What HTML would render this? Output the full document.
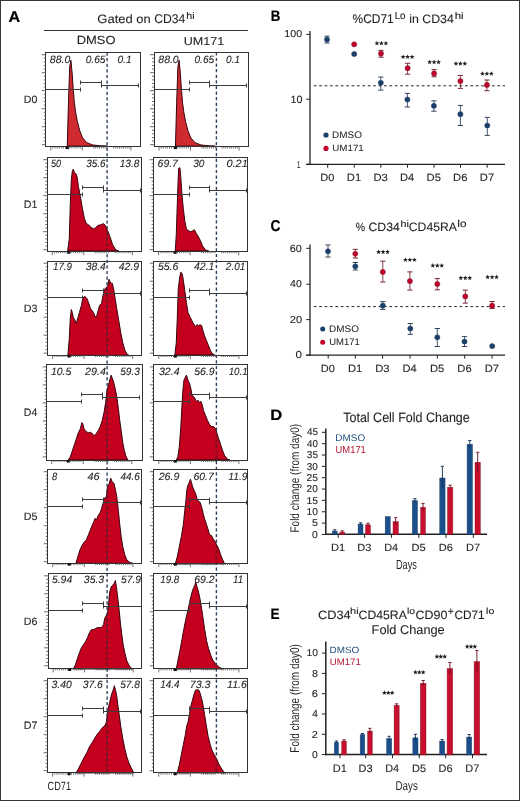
<!DOCTYPE html>
<html><head><meta charset="utf-8"><style>
html,body{margin:0;padding:0;background:#fff;}
body{width:520px;height:801px;overflow:hidden;}
svg{display:block;will-change:transform;font-family:"Liberation Sans", sans-serif;text-rendering:geometricPrecision;}
</style></head><body>
<svg width="520" height="801" viewBox="0 0 520 801">
<rect x="0" y="0" width="520" height="801" fill="#fff"/>
<line x1="44.00" y1="30.50" x2="248.00" y2="30.50" stroke="#333" stroke-width="1"/>
<path d="M67.26,146.12 L68.47,102.30 L69.68,66.76 L70.90,60.30 L72.11,72.82 L73.32,90.39 L74.33,102.30 L75.54,111.79 L77.36,121.49 L79.78,130.78 L82.61,137.84 L86.85,142.69 L92.71,144.91 L100.99,145.92 L107.04,146.12 Z" fill="#cf2a30" stroke="#38050c" stroke-width="1.0" stroke-linejoin="round"/>
<rect x="45.50" y="52.50" width="95.00" height="94.00" fill="none" stroke="#333" stroke-width="1"/>
<line x1="41.80" y1="54.70" x2="45.80" y2="54.70" stroke="#444" stroke-width="0.8"/>
<line x1="43.80" y1="58.30" x2="45.80" y2="58.30" stroke="#444" stroke-width="0.8"/>
<line x1="43.80" y1="61.90" x2="45.80" y2="61.90" stroke="#444" stroke-width="0.8"/>
<line x1="43.80" y1="65.50" x2="45.80" y2="65.50" stroke="#444" stroke-width="0.8"/>
<line x1="43.80" y1="69.10" x2="45.80" y2="69.10" stroke="#444" stroke-width="0.8"/>
<line x1="41.80" y1="72.70" x2="45.80" y2="72.70" stroke="#444" stroke-width="0.8"/>
<line x1="43.80" y1="76.30" x2="45.80" y2="76.30" stroke="#444" stroke-width="0.8"/>
<line x1="43.80" y1="79.90" x2="45.80" y2="79.90" stroke="#444" stroke-width="0.8"/>
<line x1="43.80" y1="83.50" x2="45.80" y2="83.50" stroke="#444" stroke-width="0.8"/>
<line x1="43.80" y1="87.10" x2="45.80" y2="87.10" stroke="#444" stroke-width="0.8"/>
<line x1="41.80" y1="90.70" x2="45.80" y2="90.70" stroke="#444" stroke-width="0.8"/>
<line x1="43.80" y1="94.30" x2="45.80" y2="94.30" stroke="#444" stroke-width="0.8"/>
<line x1="43.80" y1="97.90" x2="45.80" y2="97.90" stroke="#444" stroke-width="0.8"/>
<line x1="43.80" y1="101.50" x2="45.80" y2="101.50" stroke="#444" stroke-width="0.8"/>
<line x1="43.80" y1="105.10" x2="45.80" y2="105.10" stroke="#444" stroke-width="0.8"/>
<line x1="41.80" y1="108.70" x2="45.80" y2="108.70" stroke="#444" stroke-width="0.8"/>
<line x1="43.80" y1="112.30" x2="45.80" y2="112.30" stroke="#444" stroke-width="0.8"/>
<line x1="43.80" y1="115.90" x2="45.80" y2="115.90" stroke="#444" stroke-width="0.8"/>
<line x1="43.80" y1="119.50" x2="45.80" y2="119.50" stroke="#444" stroke-width="0.8"/>
<line x1="43.80" y1="123.10" x2="45.80" y2="123.10" stroke="#444" stroke-width="0.8"/>
<line x1="41.80" y1="126.70" x2="45.80" y2="126.70" stroke="#444" stroke-width="0.8"/>
<line x1="43.80" y1="130.30" x2="45.80" y2="130.30" stroke="#444" stroke-width="0.8"/>
<line x1="43.80" y1="133.90" x2="45.80" y2="133.90" stroke="#444" stroke-width="0.8"/>
<line x1="43.80" y1="137.50" x2="45.80" y2="137.50" stroke="#444" stroke-width="0.8"/>
<line x1="43.80" y1="141.10" x2="45.80" y2="141.10" stroke="#444" stroke-width="0.8"/>
<line x1="41.80" y1="144.70" x2="45.80" y2="144.70" stroke="#444" stroke-width="0.8"/>
<line x1="50.80" y1="146.50" x2="50.80" y2="150.50" stroke="#444" stroke-width="0.75"/>
<line x1="52.90" y1="146.50" x2="52.90" y2="148.50" stroke="#444" stroke-width="0.75"/>
<line x1="55.00" y1="146.50" x2="55.00" y2="148.50" stroke="#444" stroke-width="0.75"/>
<line x1="57.10" y1="146.50" x2="57.10" y2="148.50" stroke="#444" stroke-width="0.75"/>
<line x1="59.20" y1="146.50" x2="59.20" y2="148.50" stroke="#444" stroke-width="0.75"/>
<line x1="61.30" y1="146.50" x2="61.30" y2="148.50" stroke="#444" stroke-width="0.75"/>
<line x1="63.40" y1="146.50" x2="63.40" y2="148.50" stroke="#444" stroke-width="0.75"/>
<line x1="65.50" y1="146.50" x2="65.50" y2="148.50" stroke="#444" stroke-width="0.75"/>
<line x1="67.60" y1="146.50" x2="67.60" y2="148.50" stroke="#444" stroke-width="0.75"/>
<line x1="69.70" y1="146.50" x2="69.70" y2="148.50" stroke="#444" stroke-width="0.75"/>
<line x1="71.80" y1="146.50" x2="71.80" y2="148.50" stroke="#444" stroke-width="0.75"/>
<line x1="73.90" y1="146.50" x2="73.90" y2="148.50" stroke="#444" stroke-width="0.75"/>
<line x1="76.00" y1="146.50" x2="76.00" y2="148.50" stroke="#444" stroke-width="0.75"/>
<line x1="78.10" y1="146.50" x2="78.10" y2="148.50" stroke="#444" stroke-width="0.75"/>
<line x1="80.20" y1="146.50" x2="80.20" y2="148.50" stroke="#444" stroke-width="0.75"/>
<line x1="82.30" y1="146.50" x2="82.30" y2="150.50" stroke="#444" stroke-width="0.75"/>
<line x1="93.80" y1="146.50" x2="93.80" y2="148.50" stroke="#444" stroke-width="0.75"/>
<line x1="95.70" y1="146.50" x2="95.70" y2="148.50" stroke="#444" stroke-width="0.75"/>
<line x1="97.60" y1="146.50" x2="97.60" y2="148.50" stroke="#444" stroke-width="0.75"/>
<line x1="99.50" y1="146.50" x2="99.50" y2="148.50" stroke="#444" stroke-width="0.75"/>
<line x1="101.40" y1="146.50" x2="101.40" y2="148.50" stroke="#444" stroke-width="0.75"/>
<line x1="103.30" y1="146.50" x2="103.30" y2="148.50" stroke="#444" stroke-width="0.75"/>
<line x1="105.20" y1="146.50" x2="105.20" y2="148.50" stroke="#444" stroke-width="0.75"/>
<line x1="107.10" y1="146.50" x2="107.10" y2="148.50" stroke="#444" stroke-width="0.75"/>
<line x1="113.80" y1="146.50" x2="113.80" y2="148.50" stroke="#444" stroke-width="0.75"/>
<line x1="115.70" y1="146.50" x2="115.70" y2="148.50" stroke="#444" stroke-width="0.75"/>
<line x1="117.60" y1="146.50" x2="117.60" y2="148.50" stroke="#444" stroke-width="0.75"/>
<line x1="119.50" y1="146.50" x2="119.50" y2="148.50" stroke="#444" stroke-width="0.75"/>
<line x1="121.40" y1="146.50" x2="121.40" y2="148.50" stroke="#444" stroke-width="0.75"/>
<line x1="123.30" y1="146.50" x2="123.30" y2="148.50" stroke="#444" stroke-width="0.75"/>
<line x1="125.20" y1="146.50" x2="125.20" y2="148.50" stroke="#444" stroke-width="0.75"/>
<line x1="127.10" y1="146.50" x2="127.10" y2="148.50" stroke="#444" stroke-width="0.75"/>
<line x1="129.00" y1="146.50" x2="129.00" y2="148.50" stroke="#444" stroke-width="0.75"/>
<line x1="130.90" y1="146.50" x2="130.90" y2="150.50" stroke="#444" stroke-width="0.75"/>
<rect x="65.80" y="146.50" width="3" height="2.6" fill="#111"/>
<line x1="45.80" y1="89.50" x2="80.50" y2="89.50" stroke="#3c3c3c" stroke-width="1"/>
<line x1="80.50" y1="87.50" x2="80.50" y2="91.50" stroke="#3c3c3c" stroke-width="1"/>
<line x1="80.50" y1="82.50" x2="101.50" y2="82.50" stroke="#3c3c3c" stroke-width="1"/>
<line x1="80.50" y1="80.50" x2="80.50" y2="84.50" stroke="#3c3c3c" stroke-width="1"/>
<line x1="101.50" y1="80.50" x2="101.50" y2="84.50" stroke="#3c3c3c" stroke-width="1"/>
<line x1="101.50" y1="85.50" x2="138.50" y2="85.50" stroke="#3c3c3c" stroke-width="1"/>
<line x1="101.50" y1="83.50" x2="101.50" y2="87.50" stroke="#3c3c3c" stroke-width="1"/>
<line x1="138.50" y1="83.50" x2="138.50" y2="87.50" stroke="#3c3c3c" stroke-width="1"/>
<path d="M175.46,146.12 L176.67,102.30 L177.88,66.76 L179.10,60.30 L180.31,72.82 L181.52,90.39 L182.53,102.30 L183.74,111.79 L185.56,121.49 L187.98,130.78 L190.81,137.84 L195.05,142.69 L200.91,144.91 L209.19,145.92 L215.24,146.12 Z" fill="#cf2a30" stroke="#38050c" stroke-width="1.0" stroke-linejoin="round"/>
<rect x="154.50" y="52.50" width="94.00" height="94.00" fill="none" stroke="#333" stroke-width="1"/>
<line x1="150.00" y1="54.70" x2="154.00" y2="54.70" stroke="#444" stroke-width="0.8"/>
<line x1="152.00" y1="58.30" x2="154.00" y2="58.30" stroke="#444" stroke-width="0.8"/>
<line x1="152.00" y1="61.90" x2="154.00" y2="61.90" stroke="#444" stroke-width="0.8"/>
<line x1="152.00" y1="65.50" x2="154.00" y2="65.50" stroke="#444" stroke-width="0.8"/>
<line x1="152.00" y1="69.10" x2="154.00" y2="69.10" stroke="#444" stroke-width="0.8"/>
<line x1="150.00" y1="72.70" x2="154.00" y2="72.70" stroke="#444" stroke-width="0.8"/>
<line x1="152.00" y1="76.30" x2="154.00" y2="76.30" stroke="#444" stroke-width="0.8"/>
<line x1="152.00" y1="79.90" x2="154.00" y2="79.90" stroke="#444" stroke-width="0.8"/>
<line x1="152.00" y1="83.50" x2="154.00" y2="83.50" stroke="#444" stroke-width="0.8"/>
<line x1="152.00" y1="87.10" x2="154.00" y2="87.10" stroke="#444" stroke-width="0.8"/>
<line x1="150.00" y1="90.70" x2="154.00" y2="90.70" stroke="#444" stroke-width="0.8"/>
<line x1="152.00" y1="94.30" x2="154.00" y2="94.30" stroke="#444" stroke-width="0.8"/>
<line x1="152.00" y1="97.90" x2="154.00" y2="97.90" stroke="#444" stroke-width="0.8"/>
<line x1="152.00" y1="101.50" x2="154.00" y2="101.50" stroke="#444" stroke-width="0.8"/>
<line x1="152.00" y1="105.10" x2="154.00" y2="105.10" stroke="#444" stroke-width="0.8"/>
<line x1="150.00" y1="108.70" x2="154.00" y2="108.70" stroke="#444" stroke-width="0.8"/>
<line x1="152.00" y1="112.30" x2="154.00" y2="112.30" stroke="#444" stroke-width="0.8"/>
<line x1="152.00" y1="115.90" x2="154.00" y2="115.90" stroke="#444" stroke-width="0.8"/>
<line x1="152.00" y1="119.50" x2="154.00" y2="119.50" stroke="#444" stroke-width="0.8"/>
<line x1="152.00" y1="123.10" x2="154.00" y2="123.10" stroke="#444" stroke-width="0.8"/>
<line x1="150.00" y1="126.70" x2="154.00" y2="126.70" stroke="#444" stroke-width="0.8"/>
<line x1="152.00" y1="130.30" x2="154.00" y2="130.30" stroke="#444" stroke-width="0.8"/>
<line x1="152.00" y1="133.90" x2="154.00" y2="133.90" stroke="#444" stroke-width="0.8"/>
<line x1="152.00" y1="137.50" x2="154.00" y2="137.50" stroke="#444" stroke-width="0.8"/>
<line x1="152.00" y1="141.10" x2="154.00" y2="141.10" stroke="#444" stroke-width="0.8"/>
<line x1="150.00" y1="144.70" x2="154.00" y2="144.70" stroke="#444" stroke-width="0.8"/>
<line x1="159.00" y1="146.50" x2="159.00" y2="150.50" stroke="#444" stroke-width="0.75"/>
<line x1="161.10" y1="146.50" x2="161.10" y2="148.50" stroke="#444" stroke-width="0.75"/>
<line x1="163.20" y1="146.50" x2="163.20" y2="148.50" stroke="#444" stroke-width="0.75"/>
<line x1="165.30" y1="146.50" x2="165.30" y2="148.50" stroke="#444" stroke-width="0.75"/>
<line x1="167.40" y1="146.50" x2="167.40" y2="148.50" stroke="#444" stroke-width="0.75"/>
<line x1="169.50" y1="146.50" x2="169.50" y2="148.50" stroke="#444" stroke-width="0.75"/>
<line x1="171.60" y1="146.50" x2="171.60" y2="148.50" stroke="#444" stroke-width="0.75"/>
<line x1="173.70" y1="146.50" x2="173.70" y2="148.50" stroke="#444" stroke-width="0.75"/>
<line x1="175.80" y1="146.50" x2="175.80" y2="148.50" stroke="#444" stroke-width="0.75"/>
<line x1="177.90" y1="146.50" x2="177.90" y2="148.50" stroke="#444" stroke-width="0.75"/>
<line x1="180.00" y1="146.50" x2="180.00" y2="148.50" stroke="#444" stroke-width="0.75"/>
<line x1="182.10" y1="146.50" x2="182.10" y2="148.50" stroke="#444" stroke-width="0.75"/>
<line x1="184.20" y1="146.50" x2="184.20" y2="148.50" stroke="#444" stroke-width="0.75"/>
<line x1="186.30" y1="146.50" x2="186.30" y2="148.50" stroke="#444" stroke-width="0.75"/>
<line x1="188.40" y1="146.50" x2="188.40" y2="148.50" stroke="#444" stroke-width="0.75"/>
<line x1="190.50" y1="146.50" x2="190.50" y2="150.50" stroke="#444" stroke-width="0.75"/>
<line x1="202.00" y1="146.50" x2="202.00" y2="148.50" stroke="#444" stroke-width="0.75"/>
<line x1="203.90" y1="146.50" x2="203.90" y2="148.50" stroke="#444" stroke-width="0.75"/>
<line x1="205.80" y1="146.50" x2="205.80" y2="148.50" stroke="#444" stroke-width="0.75"/>
<line x1="207.70" y1="146.50" x2="207.70" y2="148.50" stroke="#444" stroke-width="0.75"/>
<line x1="209.60" y1="146.50" x2="209.60" y2="148.50" stroke="#444" stroke-width="0.75"/>
<line x1="211.50" y1="146.50" x2="211.50" y2="148.50" stroke="#444" stroke-width="0.75"/>
<line x1="213.40" y1="146.50" x2="213.40" y2="148.50" stroke="#444" stroke-width="0.75"/>
<line x1="215.30" y1="146.50" x2="215.30" y2="148.50" stroke="#444" stroke-width="0.75"/>
<line x1="222.00" y1="146.50" x2="222.00" y2="148.50" stroke="#444" stroke-width="0.75"/>
<line x1="223.90" y1="146.50" x2="223.90" y2="148.50" stroke="#444" stroke-width="0.75"/>
<line x1="225.80" y1="146.50" x2="225.80" y2="148.50" stroke="#444" stroke-width="0.75"/>
<line x1="227.70" y1="146.50" x2="227.70" y2="148.50" stroke="#444" stroke-width="0.75"/>
<line x1="229.60" y1="146.50" x2="229.60" y2="148.50" stroke="#444" stroke-width="0.75"/>
<line x1="231.50" y1="146.50" x2="231.50" y2="148.50" stroke="#444" stroke-width="0.75"/>
<line x1="233.40" y1="146.50" x2="233.40" y2="148.50" stroke="#444" stroke-width="0.75"/>
<line x1="235.30" y1="146.50" x2="235.30" y2="148.50" stroke="#444" stroke-width="0.75"/>
<line x1="237.20" y1="146.50" x2="237.20" y2="148.50" stroke="#444" stroke-width="0.75"/>
<line x1="239.10" y1="146.50" x2="239.10" y2="150.50" stroke="#444" stroke-width="0.75"/>
<rect x="174.00" y="146.50" width="3" height="2.6" fill="#111"/>
<line x1="154.00" y1="89.50" x2="189.50" y2="89.50" stroke="#3c3c3c" stroke-width="1"/>
<line x1="189.50" y1="87.50" x2="189.50" y2="91.50" stroke="#3c3c3c" stroke-width="1"/>
<line x1="189.50" y1="82.50" x2="209.50" y2="82.50" stroke="#3c3c3c" stroke-width="1"/>
<line x1="189.50" y1="80.50" x2="189.50" y2="84.50" stroke="#3c3c3c" stroke-width="1"/>
<line x1="209.50" y1="80.50" x2="209.50" y2="84.50" stroke="#3c3c3c" stroke-width="1"/>
<line x1="209.50" y1="85.50" x2="246.50" y2="85.50" stroke="#3c3c3c" stroke-width="1"/>
<line x1="209.50" y1="83.50" x2="209.50" y2="87.50" stroke="#3c3c3c" stroke-width="1"/>
<line x1="246.50" y1="83.50" x2="246.50" y2="87.50" stroke="#3c3c3c" stroke-width="1"/>
<path d="M67.67,250.93 L69.28,238.81 L70.29,204.48 L71.30,180.25 L72.31,171.16 L73.32,169.15 L74.33,172.17 L75.34,173.18 L76.35,174.19 L77.36,178.23 L78.37,186.31 L80.39,196.41 L82.41,208.52 L84.43,218.62 L86.45,223.67 L88.47,224.68 L91.49,227.71 L93.51,228.72 L95.53,227.71 L97.55,225.69 L100.58,224.68 L103.61,223.67 L105.63,225.69 L107.65,230.74 L109.67,235.79 L112.70,244.87 L115.73,249.92 L118.76,250.93 Z" fill="#c5001f" stroke="#38050c" stroke-width="1.0" stroke-linejoin="round"/>
<rect x="47.50" y="157.50" width="94.00" height="94.00" fill="none" stroke="#333" stroke-width="1"/>
<line x1="43.30" y1="159.70" x2="47.30" y2="159.70" stroke="#444" stroke-width="0.8"/>
<line x1="45.30" y1="163.30" x2="47.30" y2="163.30" stroke="#444" stroke-width="0.8"/>
<line x1="45.30" y1="166.90" x2="47.30" y2="166.90" stroke="#444" stroke-width="0.8"/>
<line x1="45.30" y1="170.50" x2="47.30" y2="170.50" stroke="#444" stroke-width="0.8"/>
<line x1="45.30" y1="174.10" x2="47.30" y2="174.10" stroke="#444" stroke-width="0.8"/>
<line x1="43.30" y1="177.70" x2="47.30" y2="177.70" stroke="#444" stroke-width="0.8"/>
<line x1="45.30" y1="181.30" x2="47.30" y2="181.30" stroke="#444" stroke-width="0.8"/>
<line x1="45.30" y1="184.90" x2="47.30" y2="184.90" stroke="#444" stroke-width="0.8"/>
<line x1="45.30" y1="188.50" x2="47.30" y2="188.50" stroke="#444" stroke-width="0.8"/>
<line x1="45.30" y1="192.10" x2="47.30" y2="192.10" stroke="#444" stroke-width="0.8"/>
<line x1="43.30" y1="195.70" x2="47.30" y2="195.70" stroke="#444" stroke-width="0.8"/>
<line x1="45.30" y1="199.30" x2="47.30" y2="199.30" stroke="#444" stroke-width="0.8"/>
<line x1="45.30" y1="202.90" x2="47.30" y2="202.90" stroke="#444" stroke-width="0.8"/>
<line x1="45.30" y1="206.50" x2="47.30" y2="206.50" stroke="#444" stroke-width="0.8"/>
<line x1="45.30" y1="210.10" x2="47.30" y2="210.10" stroke="#444" stroke-width="0.8"/>
<line x1="43.30" y1="213.70" x2="47.30" y2="213.70" stroke="#444" stroke-width="0.8"/>
<line x1="45.30" y1="217.30" x2="47.30" y2="217.30" stroke="#444" stroke-width="0.8"/>
<line x1="45.30" y1="220.90" x2="47.30" y2="220.90" stroke="#444" stroke-width="0.8"/>
<line x1="45.30" y1="224.50" x2="47.30" y2="224.50" stroke="#444" stroke-width="0.8"/>
<line x1="45.30" y1="228.10" x2="47.30" y2="228.10" stroke="#444" stroke-width="0.8"/>
<line x1="43.30" y1="231.70" x2="47.30" y2="231.70" stroke="#444" stroke-width="0.8"/>
<line x1="45.30" y1="235.30" x2="47.30" y2="235.30" stroke="#444" stroke-width="0.8"/>
<line x1="45.30" y1="238.90" x2="47.30" y2="238.90" stroke="#444" stroke-width="0.8"/>
<line x1="45.30" y1="242.50" x2="47.30" y2="242.50" stroke="#444" stroke-width="0.8"/>
<line x1="45.30" y1="246.10" x2="47.30" y2="246.10" stroke="#444" stroke-width="0.8"/>
<line x1="43.30" y1="249.70" x2="47.30" y2="249.70" stroke="#444" stroke-width="0.8"/>
<line x1="52.30" y1="251.20" x2="52.30" y2="255.20" stroke="#444" stroke-width="0.75"/>
<line x1="54.40" y1="251.20" x2="54.40" y2="253.20" stroke="#444" stroke-width="0.75"/>
<line x1="56.50" y1="251.20" x2="56.50" y2="253.20" stroke="#444" stroke-width="0.75"/>
<line x1="58.60" y1="251.20" x2="58.60" y2="253.20" stroke="#444" stroke-width="0.75"/>
<line x1="60.70" y1="251.20" x2="60.70" y2="253.20" stroke="#444" stroke-width="0.75"/>
<line x1="62.80" y1="251.20" x2="62.80" y2="253.20" stroke="#444" stroke-width="0.75"/>
<line x1="64.90" y1="251.20" x2="64.90" y2="253.20" stroke="#444" stroke-width="0.75"/>
<line x1="67.00" y1="251.20" x2="67.00" y2="253.20" stroke="#444" stroke-width="0.75"/>
<line x1="69.10" y1="251.20" x2="69.10" y2="253.20" stroke="#444" stroke-width="0.75"/>
<line x1="71.20" y1="251.20" x2="71.20" y2="253.20" stroke="#444" stroke-width="0.75"/>
<line x1="73.30" y1="251.20" x2="73.30" y2="253.20" stroke="#444" stroke-width="0.75"/>
<line x1="75.40" y1="251.20" x2="75.40" y2="253.20" stroke="#444" stroke-width="0.75"/>
<line x1="77.50" y1="251.20" x2="77.50" y2="253.20" stroke="#444" stroke-width="0.75"/>
<line x1="79.60" y1="251.20" x2="79.60" y2="253.20" stroke="#444" stroke-width="0.75"/>
<line x1="81.70" y1="251.20" x2="81.70" y2="253.20" stroke="#444" stroke-width="0.75"/>
<line x1="83.80" y1="251.20" x2="83.80" y2="255.20" stroke="#444" stroke-width="0.75"/>
<line x1="95.30" y1="251.20" x2="95.30" y2="253.20" stroke="#444" stroke-width="0.75"/>
<line x1="97.20" y1="251.20" x2="97.20" y2="253.20" stroke="#444" stroke-width="0.75"/>
<line x1="99.10" y1="251.20" x2="99.10" y2="253.20" stroke="#444" stroke-width="0.75"/>
<line x1="101.00" y1="251.20" x2="101.00" y2="253.20" stroke="#444" stroke-width="0.75"/>
<line x1="102.90" y1="251.20" x2="102.90" y2="253.20" stroke="#444" stroke-width="0.75"/>
<line x1="104.80" y1="251.20" x2="104.80" y2="253.20" stroke="#444" stroke-width="0.75"/>
<line x1="106.70" y1="251.20" x2="106.70" y2="253.20" stroke="#444" stroke-width="0.75"/>
<line x1="108.60" y1="251.20" x2="108.60" y2="253.20" stroke="#444" stroke-width="0.75"/>
<line x1="115.30" y1="251.20" x2="115.30" y2="253.20" stroke="#444" stroke-width="0.75"/>
<line x1="117.20" y1="251.20" x2="117.20" y2="253.20" stroke="#444" stroke-width="0.75"/>
<line x1="119.10" y1="251.20" x2="119.10" y2="253.20" stroke="#444" stroke-width="0.75"/>
<line x1="121.00" y1="251.20" x2="121.00" y2="253.20" stroke="#444" stroke-width="0.75"/>
<line x1="122.90" y1="251.20" x2="122.90" y2="253.20" stroke="#444" stroke-width="0.75"/>
<line x1="124.80" y1="251.20" x2="124.80" y2="253.20" stroke="#444" stroke-width="0.75"/>
<line x1="126.70" y1="251.20" x2="126.70" y2="253.20" stroke="#444" stroke-width="0.75"/>
<line x1="128.60" y1="251.20" x2="128.60" y2="253.20" stroke="#444" stroke-width="0.75"/>
<line x1="130.50" y1="251.20" x2="130.50" y2="253.20" stroke="#444" stroke-width="0.75"/>
<line x1="132.40" y1="251.20" x2="132.40" y2="255.20" stroke="#444" stroke-width="0.75"/>
<rect x="67.30" y="251.20" width="3" height="2.6" fill="#111"/>
<line x1="47.30" y1="194.50" x2="82.50" y2="194.50" stroke="#3c3c3c" stroke-width="1"/>
<line x1="82.50" y1="192.50" x2="82.50" y2="196.50" stroke="#3c3c3c" stroke-width="1"/>
<line x1="82.50" y1="187.50" x2="103.50" y2="187.50" stroke="#3c3c3c" stroke-width="1"/>
<line x1="82.50" y1="185.50" x2="82.50" y2="189.50" stroke="#3c3c3c" stroke-width="1"/>
<line x1="103.50" y1="185.50" x2="103.50" y2="189.50" stroke="#3c3c3c" stroke-width="1"/>
<line x1="103.50" y1="190.50" x2="140.50" y2="190.50" stroke="#3c3c3c" stroke-width="1"/>
<line x1="103.50" y1="188.50" x2="103.50" y2="192.50" stroke="#3c3c3c" stroke-width="1"/>
<line x1="140.50" y1="188.50" x2="140.50" y2="192.50" stroke="#3c3c3c" stroke-width="1"/>
<path d="M175.26,250.93 L176.27,234.78 L177.28,204.48 L178.29,176.21 L178.69,168.14 L179.91,167.73 L180.71,176.21 L181.93,194.39 L183.34,208.52 L184.75,220.64 L186.37,228.72 L188.39,230.74 L190.81,231.75 L192.83,230.74 L194.45,229.73 L196.47,233.77 L198.48,236.79 L200.50,240.83 L202.52,245.88 L205.55,249.92 L208.58,250.93 Z" fill="#c5001f" stroke="#38050c" stroke-width="1.0" stroke-linejoin="round"/>
<rect x="153.50" y="157.50" width="94.00" height="94.00" fill="none" stroke="#333" stroke-width="1"/>
<line x1="149.60" y1="159.70" x2="153.60" y2="159.70" stroke="#444" stroke-width="0.8"/>
<line x1="151.60" y1="163.30" x2="153.60" y2="163.30" stroke="#444" stroke-width="0.8"/>
<line x1="151.60" y1="166.90" x2="153.60" y2="166.90" stroke="#444" stroke-width="0.8"/>
<line x1="151.60" y1="170.50" x2="153.60" y2="170.50" stroke="#444" stroke-width="0.8"/>
<line x1="151.60" y1="174.10" x2="153.60" y2="174.10" stroke="#444" stroke-width="0.8"/>
<line x1="149.60" y1="177.70" x2="153.60" y2="177.70" stroke="#444" stroke-width="0.8"/>
<line x1="151.60" y1="181.30" x2="153.60" y2="181.30" stroke="#444" stroke-width="0.8"/>
<line x1="151.60" y1="184.90" x2="153.60" y2="184.90" stroke="#444" stroke-width="0.8"/>
<line x1="151.60" y1="188.50" x2="153.60" y2="188.50" stroke="#444" stroke-width="0.8"/>
<line x1="151.60" y1="192.10" x2="153.60" y2="192.10" stroke="#444" stroke-width="0.8"/>
<line x1="149.60" y1="195.70" x2="153.60" y2="195.70" stroke="#444" stroke-width="0.8"/>
<line x1="151.60" y1="199.30" x2="153.60" y2="199.30" stroke="#444" stroke-width="0.8"/>
<line x1="151.60" y1="202.90" x2="153.60" y2="202.90" stroke="#444" stroke-width="0.8"/>
<line x1="151.60" y1="206.50" x2="153.60" y2="206.50" stroke="#444" stroke-width="0.8"/>
<line x1="151.60" y1="210.10" x2="153.60" y2="210.10" stroke="#444" stroke-width="0.8"/>
<line x1="149.60" y1="213.70" x2="153.60" y2="213.70" stroke="#444" stroke-width="0.8"/>
<line x1="151.60" y1="217.30" x2="153.60" y2="217.30" stroke="#444" stroke-width="0.8"/>
<line x1="151.60" y1="220.90" x2="153.60" y2="220.90" stroke="#444" stroke-width="0.8"/>
<line x1="151.60" y1="224.50" x2="153.60" y2="224.50" stroke="#444" stroke-width="0.8"/>
<line x1="151.60" y1="228.10" x2="153.60" y2="228.10" stroke="#444" stroke-width="0.8"/>
<line x1="149.60" y1="231.70" x2="153.60" y2="231.70" stroke="#444" stroke-width="0.8"/>
<line x1="151.60" y1="235.30" x2="153.60" y2="235.30" stroke="#444" stroke-width="0.8"/>
<line x1="151.60" y1="238.90" x2="153.60" y2="238.90" stroke="#444" stroke-width="0.8"/>
<line x1="151.60" y1="242.50" x2="153.60" y2="242.50" stroke="#444" stroke-width="0.8"/>
<line x1="151.60" y1="246.10" x2="153.60" y2="246.10" stroke="#444" stroke-width="0.8"/>
<line x1="149.60" y1="249.70" x2="153.60" y2="249.70" stroke="#444" stroke-width="0.8"/>
<line x1="158.60" y1="251.20" x2="158.60" y2="255.20" stroke="#444" stroke-width="0.75"/>
<line x1="160.70" y1="251.20" x2="160.70" y2="253.20" stroke="#444" stroke-width="0.75"/>
<line x1="162.80" y1="251.20" x2="162.80" y2="253.20" stroke="#444" stroke-width="0.75"/>
<line x1="164.90" y1="251.20" x2="164.90" y2="253.20" stroke="#444" stroke-width="0.75"/>
<line x1="167.00" y1="251.20" x2="167.00" y2="253.20" stroke="#444" stroke-width="0.75"/>
<line x1="169.10" y1="251.20" x2="169.10" y2="253.20" stroke="#444" stroke-width="0.75"/>
<line x1="171.20" y1="251.20" x2="171.20" y2="253.20" stroke="#444" stroke-width="0.75"/>
<line x1="173.30" y1="251.20" x2="173.30" y2="253.20" stroke="#444" stroke-width="0.75"/>
<line x1="175.40" y1="251.20" x2="175.40" y2="253.20" stroke="#444" stroke-width="0.75"/>
<line x1="177.50" y1="251.20" x2="177.50" y2="253.20" stroke="#444" stroke-width="0.75"/>
<line x1="179.60" y1="251.20" x2="179.60" y2="253.20" stroke="#444" stroke-width="0.75"/>
<line x1="181.70" y1="251.20" x2="181.70" y2="253.20" stroke="#444" stroke-width="0.75"/>
<line x1="183.80" y1="251.20" x2="183.80" y2="253.20" stroke="#444" stroke-width="0.75"/>
<line x1="185.90" y1="251.20" x2="185.90" y2="253.20" stroke="#444" stroke-width="0.75"/>
<line x1="188.00" y1="251.20" x2="188.00" y2="253.20" stroke="#444" stroke-width="0.75"/>
<line x1="190.10" y1="251.20" x2="190.10" y2="255.20" stroke="#444" stroke-width="0.75"/>
<line x1="201.60" y1="251.20" x2="201.60" y2="253.20" stroke="#444" stroke-width="0.75"/>
<line x1="203.50" y1="251.20" x2="203.50" y2="253.20" stroke="#444" stroke-width="0.75"/>
<line x1="205.40" y1="251.20" x2="205.40" y2="253.20" stroke="#444" stroke-width="0.75"/>
<line x1="207.30" y1="251.20" x2="207.30" y2="253.20" stroke="#444" stroke-width="0.75"/>
<line x1="209.20" y1="251.20" x2="209.20" y2="253.20" stroke="#444" stroke-width="0.75"/>
<line x1="211.10" y1="251.20" x2="211.10" y2="253.20" stroke="#444" stroke-width="0.75"/>
<line x1="213.00" y1="251.20" x2="213.00" y2="253.20" stroke="#444" stroke-width="0.75"/>
<line x1="214.90" y1="251.20" x2="214.90" y2="253.20" stroke="#444" stroke-width="0.75"/>
<line x1="221.60" y1="251.20" x2="221.60" y2="253.20" stroke="#444" stroke-width="0.75"/>
<line x1="223.50" y1="251.20" x2="223.50" y2="253.20" stroke="#444" stroke-width="0.75"/>
<line x1="225.40" y1="251.20" x2="225.40" y2="253.20" stroke="#444" stroke-width="0.75"/>
<line x1="227.30" y1="251.20" x2="227.30" y2="253.20" stroke="#444" stroke-width="0.75"/>
<line x1="229.20" y1="251.20" x2="229.20" y2="253.20" stroke="#444" stroke-width="0.75"/>
<line x1="231.10" y1="251.20" x2="231.10" y2="253.20" stroke="#444" stroke-width="0.75"/>
<line x1="233.00" y1="251.20" x2="233.00" y2="253.20" stroke="#444" stroke-width="0.75"/>
<line x1="234.90" y1="251.20" x2="234.90" y2="253.20" stroke="#444" stroke-width="0.75"/>
<line x1="236.80" y1="251.20" x2="236.80" y2="253.20" stroke="#444" stroke-width="0.75"/>
<line x1="238.70" y1="251.20" x2="238.70" y2="255.20" stroke="#444" stroke-width="0.75"/>
<rect x="173.60" y="251.20" width="3" height="2.6" fill="#111"/>
<line x1="153.60" y1="194.50" x2="189.50" y2="194.50" stroke="#3c3c3c" stroke-width="1"/>
<line x1="189.50" y1="192.50" x2="189.50" y2="196.50" stroke="#3c3c3c" stroke-width="1"/>
<line x1="189.50" y1="187.50" x2="209.50" y2="187.50" stroke="#3c3c3c" stroke-width="1"/>
<line x1="189.50" y1="185.50" x2="189.50" y2="189.50" stroke="#3c3c3c" stroke-width="1"/>
<line x1="209.50" y1="185.50" x2="209.50" y2="189.50" stroke="#3c3c3c" stroke-width="1"/>
<line x1="209.50" y1="190.50" x2="246.50" y2="190.50" stroke="#3c3c3c" stroke-width="1"/>
<line x1="209.50" y1="188.50" x2="209.50" y2="192.50" stroke="#3c3c3c" stroke-width="1"/>
<line x1="246.50" y1="188.50" x2="246.50" y2="192.50" stroke="#3c3c3c" stroke-width="1"/>
<path d="M67.87,355.33 L69.28,338.78 L70.29,318.58 L71.30,309.49 L72.31,312.52 L73.32,317.57 L74.73,319.59 L76.35,323.63 L77.96,317.57 L79.38,312.52 L81.40,305.46 L82.81,298.39 L84.43,296.37 L86.04,297.38 L86.85,298.39 L88.47,302.43 L90.48,308.48 L92.10,310.50 L93.51,312.52 L94.93,316.56 L96.54,316.56 L98.16,310.50 L99.57,305.46 L101.59,303.44 L103.00,295.36 L104.22,290.31 L105.63,287.89 L107.65,286.27 L109.06,279.20 L110.68,283.24 L112.29,283.24 L113.71,289.30 L115.12,298.39 L116.74,308.48 L118.76,320.60 L120.78,332.72 L122.79,342.81 L124.81,349.88 L126.83,353.92 L128.85,355.33 Z" fill="#c5001f" stroke="#38050c" stroke-width="1.0" stroke-linejoin="round"/>
<rect x="47.50" y="261.50" width="94.00" height="94.00" fill="none" stroke="#333" stroke-width="1"/>
<line x1="43.60" y1="263.20" x2="47.60" y2="263.20" stroke="#444" stroke-width="0.8"/>
<line x1="45.60" y1="266.80" x2="47.60" y2="266.80" stroke="#444" stroke-width="0.8"/>
<line x1="45.60" y1="270.40" x2="47.60" y2="270.40" stroke="#444" stroke-width="0.8"/>
<line x1="45.60" y1="274.00" x2="47.60" y2="274.00" stroke="#444" stroke-width="0.8"/>
<line x1="45.60" y1="277.60" x2="47.60" y2="277.60" stroke="#444" stroke-width="0.8"/>
<line x1="43.60" y1="281.20" x2="47.60" y2="281.20" stroke="#444" stroke-width="0.8"/>
<line x1="45.60" y1="284.80" x2="47.60" y2="284.80" stroke="#444" stroke-width="0.8"/>
<line x1="45.60" y1="288.40" x2="47.60" y2="288.40" stroke="#444" stroke-width="0.8"/>
<line x1="45.60" y1="292.00" x2="47.60" y2="292.00" stroke="#444" stroke-width="0.8"/>
<line x1="45.60" y1="295.60" x2="47.60" y2="295.60" stroke="#444" stroke-width="0.8"/>
<line x1="43.60" y1="299.20" x2="47.60" y2="299.20" stroke="#444" stroke-width="0.8"/>
<line x1="45.60" y1="302.80" x2="47.60" y2="302.80" stroke="#444" stroke-width="0.8"/>
<line x1="45.60" y1="306.40" x2="47.60" y2="306.40" stroke="#444" stroke-width="0.8"/>
<line x1="45.60" y1="310.00" x2="47.60" y2="310.00" stroke="#444" stroke-width="0.8"/>
<line x1="45.60" y1="313.60" x2="47.60" y2="313.60" stroke="#444" stroke-width="0.8"/>
<line x1="43.60" y1="317.20" x2="47.60" y2="317.20" stroke="#444" stroke-width="0.8"/>
<line x1="45.60" y1="320.80" x2="47.60" y2="320.80" stroke="#444" stroke-width="0.8"/>
<line x1="45.60" y1="324.40" x2="47.60" y2="324.40" stroke="#444" stroke-width="0.8"/>
<line x1="45.60" y1="328.00" x2="47.60" y2="328.00" stroke="#444" stroke-width="0.8"/>
<line x1="45.60" y1="331.60" x2="47.60" y2="331.60" stroke="#444" stroke-width="0.8"/>
<line x1="43.60" y1="335.20" x2="47.60" y2="335.20" stroke="#444" stroke-width="0.8"/>
<line x1="45.60" y1="338.80" x2="47.60" y2="338.80" stroke="#444" stroke-width="0.8"/>
<line x1="45.60" y1="342.40" x2="47.60" y2="342.40" stroke="#444" stroke-width="0.8"/>
<line x1="45.60" y1="346.00" x2="47.60" y2="346.00" stroke="#444" stroke-width="0.8"/>
<line x1="45.60" y1="349.60" x2="47.60" y2="349.60" stroke="#444" stroke-width="0.8"/>
<line x1="43.60" y1="353.20" x2="47.60" y2="353.20" stroke="#444" stroke-width="0.8"/>
<line x1="52.60" y1="355.00" x2="52.60" y2="359.00" stroke="#444" stroke-width="0.75"/>
<line x1="54.70" y1="355.00" x2="54.70" y2="357.00" stroke="#444" stroke-width="0.75"/>
<line x1="56.80" y1="355.00" x2="56.80" y2="357.00" stroke="#444" stroke-width="0.75"/>
<line x1="58.90" y1="355.00" x2="58.90" y2="357.00" stroke="#444" stroke-width="0.75"/>
<line x1="61.00" y1="355.00" x2="61.00" y2="357.00" stroke="#444" stroke-width="0.75"/>
<line x1="63.10" y1="355.00" x2="63.10" y2="357.00" stroke="#444" stroke-width="0.75"/>
<line x1="65.20" y1="355.00" x2="65.20" y2="357.00" stroke="#444" stroke-width="0.75"/>
<line x1="67.30" y1="355.00" x2="67.30" y2="357.00" stroke="#444" stroke-width="0.75"/>
<line x1="69.40" y1="355.00" x2="69.40" y2="357.00" stroke="#444" stroke-width="0.75"/>
<line x1="71.50" y1="355.00" x2="71.50" y2="357.00" stroke="#444" stroke-width="0.75"/>
<line x1="73.60" y1="355.00" x2="73.60" y2="357.00" stroke="#444" stroke-width="0.75"/>
<line x1="75.70" y1="355.00" x2="75.70" y2="357.00" stroke="#444" stroke-width="0.75"/>
<line x1="77.80" y1="355.00" x2="77.80" y2="357.00" stroke="#444" stroke-width="0.75"/>
<line x1="79.90" y1="355.00" x2="79.90" y2="357.00" stroke="#444" stroke-width="0.75"/>
<line x1="82.00" y1="355.00" x2="82.00" y2="357.00" stroke="#444" stroke-width="0.75"/>
<line x1="84.10" y1="355.00" x2="84.10" y2="359.00" stroke="#444" stroke-width="0.75"/>
<line x1="95.60" y1="355.00" x2="95.60" y2="357.00" stroke="#444" stroke-width="0.75"/>
<line x1="97.50" y1="355.00" x2="97.50" y2="357.00" stroke="#444" stroke-width="0.75"/>
<line x1="99.40" y1="355.00" x2="99.40" y2="357.00" stroke="#444" stroke-width="0.75"/>
<line x1="101.30" y1="355.00" x2="101.30" y2="357.00" stroke="#444" stroke-width="0.75"/>
<line x1="103.20" y1="355.00" x2="103.20" y2="357.00" stroke="#444" stroke-width="0.75"/>
<line x1="105.10" y1="355.00" x2="105.10" y2="357.00" stroke="#444" stroke-width="0.75"/>
<line x1="107.00" y1="355.00" x2="107.00" y2="357.00" stroke="#444" stroke-width="0.75"/>
<line x1="108.90" y1="355.00" x2="108.90" y2="357.00" stroke="#444" stroke-width="0.75"/>
<line x1="115.60" y1="355.00" x2="115.60" y2="357.00" stroke="#444" stroke-width="0.75"/>
<line x1="117.50" y1="355.00" x2="117.50" y2="357.00" stroke="#444" stroke-width="0.75"/>
<line x1="119.40" y1="355.00" x2="119.40" y2="357.00" stroke="#444" stroke-width="0.75"/>
<line x1="121.30" y1="355.00" x2="121.30" y2="357.00" stroke="#444" stroke-width="0.75"/>
<line x1="123.20" y1="355.00" x2="123.20" y2="357.00" stroke="#444" stroke-width="0.75"/>
<line x1="125.10" y1="355.00" x2="125.10" y2="357.00" stroke="#444" stroke-width="0.75"/>
<line x1="127.00" y1="355.00" x2="127.00" y2="357.00" stroke="#444" stroke-width="0.75"/>
<line x1="128.90" y1="355.00" x2="128.90" y2="357.00" stroke="#444" stroke-width="0.75"/>
<line x1="130.80" y1="355.00" x2="130.80" y2="357.00" stroke="#444" stroke-width="0.75"/>
<line x1="132.70" y1="355.00" x2="132.70" y2="359.00" stroke="#444" stroke-width="0.75"/>
<rect x="67.60" y="355.00" width="3" height="2.6" fill="#111"/>
<line x1="47.60" y1="297.50" x2="82.50" y2="297.50" stroke="#3c3c3c" stroke-width="1"/>
<line x1="82.50" y1="295.50" x2="82.50" y2="299.50" stroke="#3c3c3c" stroke-width="1"/>
<line x1="82.50" y1="290.50" x2="103.50" y2="290.50" stroke="#3c3c3c" stroke-width="1"/>
<line x1="82.50" y1="288.50" x2="82.50" y2="292.50" stroke="#3c3c3c" stroke-width="1"/>
<line x1="103.50" y1="288.50" x2="103.50" y2="292.50" stroke="#3c3c3c" stroke-width="1"/>
<line x1="103.50" y1="293.50" x2="140.50" y2="293.50" stroke="#3c3c3c" stroke-width="1"/>
<line x1="103.50" y1="291.50" x2="103.50" y2="295.50" stroke="#3c3c3c" stroke-width="1"/>
<line x1="140.50" y1="291.50" x2="140.50" y2="295.50" stroke="#3c3c3c" stroke-width="1"/>
<path d="M174.86,354.93 L176.27,342.81 L177.28,318.58 L178.29,288.29 L179.91,276.17 L180.92,272.14 L182.33,274.16 L183.34,280.21 L184.75,290.31 L186.37,302.43 L187.98,312.52 L190.41,317.57 L192.83,322.62 L195.46,326.66 L196.87,324.64 L198.48,325.65 L200.10,324.64 L201.72,325.65 L202.93,330.70 L204.54,335.75 L206.56,340.79 L208.58,345.84 L210.60,350.89 L212.62,353.92 L214.64,354.93 Z" fill="#c5001f" stroke="#38050c" stroke-width="1.0" stroke-linejoin="round"/>
<rect x="153.50" y="261.50" width="94.00" height="94.00" fill="none" stroke="#333" stroke-width="1"/>
<line x1="149.80" y1="263.20" x2="153.80" y2="263.20" stroke="#444" stroke-width="0.8"/>
<line x1="151.80" y1="266.80" x2="153.80" y2="266.80" stroke="#444" stroke-width="0.8"/>
<line x1="151.80" y1="270.40" x2="153.80" y2="270.40" stroke="#444" stroke-width="0.8"/>
<line x1="151.80" y1="274.00" x2="153.80" y2="274.00" stroke="#444" stroke-width="0.8"/>
<line x1="151.80" y1="277.60" x2="153.80" y2="277.60" stroke="#444" stroke-width="0.8"/>
<line x1="149.80" y1="281.20" x2="153.80" y2="281.20" stroke="#444" stroke-width="0.8"/>
<line x1="151.80" y1="284.80" x2="153.80" y2="284.80" stroke="#444" stroke-width="0.8"/>
<line x1="151.80" y1="288.40" x2="153.80" y2="288.40" stroke="#444" stroke-width="0.8"/>
<line x1="151.80" y1="292.00" x2="153.80" y2="292.00" stroke="#444" stroke-width="0.8"/>
<line x1="151.80" y1="295.60" x2="153.80" y2="295.60" stroke="#444" stroke-width="0.8"/>
<line x1="149.80" y1="299.20" x2="153.80" y2="299.20" stroke="#444" stroke-width="0.8"/>
<line x1="151.80" y1="302.80" x2="153.80" y2="302.80" stroke="#444" stroke-width="0.8"/>
<line x1="151.80" y1="306.40" x2="153.80" y2="306.40" stroke="#444" stroke-width="0.8"/>
<line x1="151.80" y1="310.00" x2="153.80" y2="310.00" stroke="#444" stroke-width="0.8"/>
<line x1="151.80" y1="313.60" x2="153.80" y2="313.60" stroke="#444" stroke-width="0.8"/>
<line x1="149.80" y1="317.20" x2="153.80" y2="317.20" stroke="#444" stroke-width="0.8"/>
<line x1="151.80" y1="320.80" x2="153.80" y2="320.80" stroke="#444" stroke-width="0.8"/>
<line x1="151.80" y1="324.40" x2="153.80" y2="324.40" stroke="#444" stroke-width="0.8"/>
<line x1="151.80" y1="328.00" x2="153.80" y2="328.00" stroke="#444" stroke-width="0.8"/>
<line x1="151.80" y1="331.60" x2="153.80" y2="331.60" stroke="#444" stroke-width="0.8"/>
<line x1="149.80" y1="335.20" x2="153.80" y2="335.20" stroke="#444" stroke-width="0.8"/>
<line x1="151.80" y1="338.80" x2="153.80" y2="338.80" stroke="#444" stroke-width="0.8"/>
<line x1="151.80" y1="342.40" x2="153.80" y2="342.40" stroke="#444" stroke-width="0.8"/>
<line x1="151.80" y1="346.00" x2="153.80" y2="346.00" stroke="#444" stroke-width="0.8"/>
<line x1="151.80" y1="349.60" x2="153.80" y2="349.60" stroke="#444" stroke-width="0.8"/>
<line x1="149.80" y1="353.20" x2="153.80" y2="353.20" stroke="#444" stroke-width="0.8"/>
<line x1="158.80" y1="355.00" x2="158.80" y2="359.00" stroke="#444" stroke-width="0.75"/>
<line x1="160.90" y1="355.00" x2="160.90" y2="357.00" stroke="#444" stroke-width="0.75"/>
<line x1="163.00" y1="355.00" x2="163.00" y2="357.00" stroke="#444" stroke-width="0.75"/>
<line x1="165.10" y1="355.00" x2="165.10" y2="357.00" stroke="#444" stroke-width="0.75"/>
<line x1="167.20" y1="355.00" x2="167.20" y2="357.00" stroke="#444" stroke-width="0.75"/>
<line x1="169.30" y1="355.00" x2="169.30" y2="357.00" stroke="#444" stroke-width="0.75"/>
<line x1="171.40" y1="355.00" x2="171.40" y2="357.00" stroke="#444" stroke-width="0.75"/>
<line x1="173.50" y1="355.00" x2="173.50" y2="357.00" stroke="#444" stroke-width="0.75"/>
<line x1="175.60" y1="355.00" x2="175.60" y2="357.00" stroke="#444" stroke-width="0.75"/>
<line x1="177.70" y1="355.00" x2="177.70" y2="357.00" stroke="#444" stroke-width="0.75"/>
<line x1="179.80" y1="355.00" x2="179.80" y2="357.00" stroke="#444" stroke-width="0.75"/>
<line x1="181.90" y1="355.00" x2="181.90" y2="357.00" stroke="#444" stroke-width="0.75"/>
<line x1="184.00" y1="355.00" x2="184.00" y2="357.00" stroke="#444" stroke-width="0.75"/>
<line x1="186.10" y1="355.00" x2="186.10" y2="357.00" stroke="#444" stroke-width="0.75"/>
<line x1="188.20" y1="355.00" x2="188.20" y2="357.00" stroke="#444" stroke-width="0.75"/>
<line x1="190.30" y1="355.00" x2="190.30" y2="359.00" stroke="#444" stroke-width="0.75"/>
<line x1="201.80" y1="355.00" x2="201.80" y2="357.00" stroke="#444" stroke-width="0.75"/>
<line x1="203.70" y1="355.00" x2="203.70" y2="357.00" stroke="#444" stroke-width="0.75"/>
<line x1="205.60" y1="355.00" x2="205.60" y2="357.00" stroke="#444" stroke-width="0.75"/>
<line x1="207.50" y1="355.00" x2="207.50" y2="357.00" stroke="#444" stroke-width="0.75"/>
<line x1="209.40" y1="355.00" x2="209.40" y2="357.00" stroke="#444" stroke-width="0.75"/>
<line x1="211.30" y1="355.00" x2="211.30" y2="357.00" stroke="#444" stroke-width="0.75"/>
<line x1="213.20" y1="355.00" x2="213.20" y2="357.00" stroke="#444" stroke-width="0.75"/>
<line x1="215.10" y1="355.00" x2="215.10" y2="357.00" stroke="#444" stroke-width="0.75"/>
<line x1="221.80" y1="355.00" x2="221.80" y2="357.00" stroke="#444" stroke-width="0.75"/>
<line x1="223.70" y1="355.00" x2="223.70" y2="357.00" stroke="#444" stroke-width="0.75"/>
<line x1="225.60" y1="355.00" x2="225.60" y2="357.00" stroke="#444" stroke-width="0.75"/>
<line x1="227.50" y1="355.00" x2="227.50" y2="357.00" stroke="#444" stroke-width="0.75"/>
<line x1="229.40" y1="355.00" x2="229.40" y2="357.00" stroke="#444" stroke-width="0.75"/>
<line x1="231.30" y1="355.00" x2="231.30" y2="357.00" stroke="#444" stroke-width="0.75"/>
<line x1="233.20" y1="355.00" x2="233.20" y2="357.00" stroke="#444" stroke-width="0.75"/>
<line x1="235.10" y1="355.00" x2="235.10" y2="357.00" stroke="#444" stroke-width="0.75"/>
<line x1="237.00" y1="355.00" x2="237.00" y2="357.00" stroke="#444" stroke-width="0.75"/>
<line x1="238.90" y1="355.00" x2="238.90" y2="359.00" stroke="#444" stroke-width="0.75"/>
<rect x="173.80" y="355.00" width="3" height="2.6" fill="#111"/>
<line x1="153.80" y1="297.50" x2="189.50" y2="297.50" stroke="#3c3c3c" stroke-width="1"/>
<line x1="189.50" y1="295.50" x2="189.50" y2="299.50" stroke="#3c3c3c" stroke-width="1"/>
<line x1="189.50" y1="290.50" x2="209.50" y2="290.50" stroke="#3c3c3c" stroke-width="1"/>
<line x1="189.50" y1="288.50" x2="189.50" y2="292.50" stroke="#3c3c3c" stroke-width="1"/>
<line x1="209.50" y1="288.50" x2="209.50" y2="292.50" stroke="#3c3c3c" stroke-width="1"/>
<line x1="209.50" y1="293.50" x2="246.50" y2="293.50" stroke="#3c3c3c" stroke-width="1"/>
<line x1="209.50" y1="291.50" x2="209.50" y2="295.50" stroke="#3c3c3c" stroke-width="1"/>
<line x1="246.50" y1="291.50" x2="246.50" y2="295.50" stroke="#3c3c3c" stroke-width="1"/>
<path d="M68.27,459.94 L70.29,456.91 L72.31,450.85 L74.33,444.79 L76.35,438.74 L78.37,432.68 L80.39,428.64 L81.80,422.58 L82.81,423.59 L84.02,428.64 L86.04,431.67 L88.47,432.68 L90.48,432.27 L92.50,433.69 L94.12,435.71 L96.14,433.69 L98.16,430.66 L100.18,426.62 L102.20,420.56 L104.22,411.47 L105.63,402.39 L107.04,390.27 L108.66,384.21 L110.27,378.16 L111.08,375.13 L112.29,378.16 L113.71,382.19 L115.12,388.25 L116.74,396.33 L118.35,408.45 L119.77,420.56 L121.18,430.66 L122.79,442.78 L124.41,450.85 L125.82,455.90 L127.84,459.94 Z" fill="#c5001f" stroke="#38050c" stroke-width="1.0" stroke-linejoin="round"/>
<rect x="46.50" y="364.50" width="96.00" height="96.00" fill="none" stroke="#333" stroke-width="1"/>
<line x1="42.70" y1="366.90" x2="46.70" y2="366.90" stroke="#444" stroke-width="0.8"/>
<line x1="44.70" y1="370.50" x2="46.70" y2="370.50" stroke="#444" stroke-width="0.8"/>
<line x1="44.70" y1="374.10" x2="46.70" y2="374.10" stroke="#444" stroke-width="0.8"/>
<line x1="44.70" y1="377.70" x2="46.70" y2="377.70" stroke="#444" stroke-width="0.8"/>
<line x1="44.70" y1="381.30" x2="46.70" y2="381.30" stroke="#444" stroke-width="0.8"/>
<line x1="42.70" y1="384.90" x2="46.70" y2="384.90" stroke="#444" stroke-width="0.8"/>
<line x1="44.70" y1="388.50" x2="46.70" y2="388.50" stroke="#444" stroke-width="0.8"/>
<line x1="44.70" y1="392.10" x2="46.70" y2="392.10" stroke="#444" stroke-width="0.8"/>
<line x1="44.70" y1="395.70" x2="46.70" y2="395.70" stroke="#444" stroke-width="0.8"/>
<line x1="44.70" y1="399.30" x2="46.70" y2="399.30" stroke="#444" stroke-width="0.8"/>
<line x1="42.70" y1="402.90" x2="46.70" y2="402.90" stroke="#444" stroke-width="0.8"/>
<line x1="44.70" y1="406.50" x2="46.70" y2="406.50" stroke="#444" stroke-width="0.8"/>
<line x1="44.70" y1="410.10" x2="46.70" y2="410.10" stroke="#444" stroke-width="0.8"/>
<line x1="44.70" y1="413.70" x2="46.70" y2="413.70" stroke="#444" stroke-width="0.8"/>
<line x1="44.70" y1="417.30" x2="46.70" y2="417.30" stroke="#444" stroke-width="0.8"/>
<line x1="42.70" y1="420.90" x2="46.70" y2="420.90" stroke="#444" stroke-width="0.8"/>
<line x1="44.70" y1="424.50" x2="46.70" y2="424.50" stroke="#444" stroke-width="0.8"/>
<line x1="44.70" y1="428.10" x2="46.70" y2="428.10" stroke="#444" stroke-width="0.8"/>
<line x1="44.70" y1="431.70" x2="46.70" y2="431.70" stroke="#444" stroke-width="0.8"/>
<line x1="44.70" y1="435.30" x2="46.70" y2="435.30" stroke="#444" stroke-width="0.8"/>
<line x1="42.70" y1="438.90" x2="46.70" y2="438.90" stroke="#444" stroke-width="0.8"/>
<line x1="44.70" y1="442.50" x2="46.70" y2="442.50" stroke="#444" stroke-width="0.8"/>
<line x1="44.70" y1="446.10" x2="46.70" y2="446.10" stroke="#444" stroke-width="0.8"/>
<line x1="44.70" y1="449.70" x2="46.70" y2="449.70" stroke="#444" stroke-width="0.8"/>
<line x1="44.70" y1="453.30" x2="46.70" y2="453.30" stroke="#444" stroke-width="0.8"/>
<line x1="42.70" y1="456.90" x2="46.70" y2="456.90" stroke="#444" stroke-width="0.8"/>
<line x1="51.70" y1="460.00" x2="51.70" y2="464.00" stroke="#444" stroke-width="0.75"/>
<line x1="53.80" y1="460.00" x2="53.80" y2="462.00" stroke="#444" stroke-width="0.75"/>
<line x1="55.90" y1="460.00" x2="55.90" y2="462.00" stroke="#444" stroke-width="0.75"/>
<line x1="58.00" y1="460.00" x2="58.00" y2="462.00" stroke="#444" stroke-width="0.75"/>
<line x1="60.10" y1="460.00" x2="60.10" y2="462.00" stroke="#444" stroke-width="0.75"/>
<line x1="62.20" y1="460.00" x2="62.20" y2="462.00" stroke="#444" stroke-width="0.75"/>
<line x1="64.30" y1="460.00" x2="64.30" y2="462.00" stroke="#444" stroke-width="0.75"/>
<line x1="66.40" y1="460.00" x2="66.40" y2="462.00" stroke="#444" stroke-width="0.75"/>
<line x1="68.50" y1="460.00" x2="68.50" y2="462.00" stroke="#444" stroke-width="0.75"/>
<line x1="70.60" y1="460.00" x2="70.60" y2="462.00" stroke="#444" stroke-width="0.75"/>
<line x1="72.70" y1="460.00" x2="72.70" y2="462.00" stroke="#444" stroke-width="0.75"/>
<line x1="74.80" y1="460.00" x2="74.80" y2="462.00" stroke="#444" stroke-width="0.75"/>
<line x1="76.90" y1="460.00" x2="76.90" y2="462.00" stroke="#444" stroke-width="0.75"/>
<line x1="79.00" y1="460.00" x2="79.00" y2="462.00" stroke="#444" stroke-width="0.75"/>
<line x1="81.10" y1="460.00" x2="81.10" y2="462.00" stroke="#444" stroke-width="0.75"/>
<line x1="83.20" y1="460.00" x2="83.20" y2="464.00" stroke="#444" stroke-width="0.75"/>
<line x1="94.70" y1="460.00" x2="94.70" y2="462.00" stroke="#444" stroke-width="0.75"/>
<line x1="96.60" y1="460.00" x2="96.60" y2="462.00" stroke="#444" stroke-width="0.75"/>
<line x1="98.50" y1="460.00" x2="98.50" y2="462.00" stroke="#444" stroke-width="0.75"/>
<line x1="100.40" y1="460.00" x2="100.40" y2="462.00" stroke="#444" stroke-width="0.75"/>
<line x1="102.30" y1="460.00" x2="102.30" y2="462.00" stroke="#444" stroke-width="0.75"/>
<line x1="104.20" y1="460.00" x2="104.20" y2="462.00" stroke="#444" stroke-width="0.75"/>
<line x1="106.10" y1="460.00" x2="106.10" y2="462.00" stroke="#444" stroke-width="0.75"/>
<line x1="108.00" y1="460.00" x2="108.00" y2="462.00" stroke="#444" stroke-width="0.75"/>
<line x1="114.70" y1="460.00" x2="114.70" y2="462.00" stroke="#444" stroke-width="0.75"/>
<line x1="116.60" y1="460.00" x2="116.60" y2="462.00" stroke="#444" stroke-width="0.75"/>
<line x1="118.50" y1="460.00" x2="118.50" y2="462.00" stroke="#444" stroke-width="0.75"/>
<line x1="120.40" y1="460.00" x2="120.40" y2="462.00" stroke="#444" stroke-width="0.75"/>
<line x1="122.30" y1="460.00" x2="122.30" y2="462.00" stroke="#444" stroke-width="0.75"/>
<line x1="124.20" y1="460.00" x2="124.20" y2="462.00" stroke="#444" stroke-width="0.75"/>
<line x1="126.10" y1="460.00" x2="126.10" y2="462.00" stroke="#444" stroke-width="0.75"/>
<line x1="128.00" y1="460.00" x2="128.00" y2="462.00" stroke="#444" stroke-width="0.75"/>
<line x1="129.90" y1="460.00" x2="129.90" y2="462.00" stroke="#444" stroke-width="0.75"/>
<line x1="131.80" y1="460.00" x2="131.80" y2="464.00" stroke="#444" stroke-width="0.75"/>
<rect x="66.70" y="460.00" width="3" height="2.6" fill="#111"/>
<line x1="46.70" y1="401.50" x2="81.50" y2="401.50" stroke="#3c3c3c" stroke-width="1"/>
<line x1="81.50" y1="399.50" x2="81.50" y2="403.50" stroke="#3c3c3c" stroke-width="1"/>
<line x1="81.50" y1="394.50" x2="102.50" y2="394.50" stroke="#3c3c3c" stroke-width="1"/>
<line x1="81.50" y1="392.50" x2="81.50" y2="396.50" stroke="#3c3c3c" stroke-width="1"/>
<line x1="102.50" y1="392.50" x2="102.50" y2="396.50" stroke="#3c3c3c" stroke-width="1"/>
<line x1="102.50" y1="397.50" x2="139.50" y2="397.50" stroke="#3c3c3c" stroke-width="1"/>
<line x1="102.50" y1="395.50" x2="102.50" y2="399.50" stroke="#3c3c3c" stroke-width="1"/>
<line x1="139.50" y1="395.50" x2="139.50" y2="399.50" stroke="#3c3c3c" stroke-width="1"/>
<path d="M176.27,459.94 L177.89,456.91 L179.30,446.81 L180.71,428.64 L181.93,406.43 L182.73,392.29 L183.95,380.17 L185.36,377.15 L186.37,375.13 L187.38,378.16 L188.39,381.18 L189.40,383.20 L190.81,388.25 L192.02,395.32 L193.44,396.33 L194.85,398.35 L196.47,401.38 L198.08,400.37 L199.49,402.39 L200.91,401.38 L202.12,404.41 L203.53,410.47 L205.55,415.51 L207.57,420.56 L209.59,424.60 L211.61,426.62 L213.63,426.62 L215.65,428.64 L217.06,433.69 L218.68,438.74 L220.70,444.79 L222.72,450.85 L224.74,455.90 L227.77,459.33 L229.79,459.94 Z" fill="#c5001f" stroke="#38050c" stroke-width="1.0" stroke-linejoin="round"/>
<rect x="153.50" y="364.50" width="94.00" height="96.00" fill="none" stroke="#333" stroke-width="1"/>
<line x1="149.80" y1="366.90" x2="153.80" y2="366.90" stroke="#444" stroke-width="0.8"/>
<line x1="151.80" y1="370.50" x2="153.80" y2="370.50" stroke="#444" stroke-width="0.8"/>
<line x1="151.80" y1="374.10" x2="153.80" y2="374.10" stroke="#444" stroke-width="0.8"/>
<line x1="151.80" y1="377.70" x2="153.80" y2="377.70" stroke="#444" stroke-width="0.8"/>
<line x1="151.80" y1="381.30" x2="153.80" y2="381.30" stroke="#444" stroke-width="0.8"/>
<line x1="149.80" y1="384.90" x2="153.80" y2="384.90" stroke="#444" stroke-width="0.8"/>
<line x1="151.80" y1="388.50" x2="153.80" y2="388.50" stroke="#444" stroke-width="0.8"/>
<line x1="151.80" y1="392.10" x2="153.80" y2="392.10" stroke="#444" stroke-width="0.8"/>
<line x1="151.80" y1="395.70" x2="153.80" y2="395.70" stroke="#444" stroke-width="0.8"/>
<line x1="151.80" y1="399.30" x2="153.80" y2="399.30" stroke="#444" stroke-width="0.8"/>
<line x1="149.80" y1="402.90" x2="153.80" y2="402.90" stroke="#444" stroke-width="0.8"/>
<line x1="151.80" y1="406.50" x2="153.80" y2="406.50" stroke="#444" stroke-width="0.8"/>
<line x1="151.80" y1="410.10" x2="153.80" y2="410.10" stroke="#444" stroke-width="0.8"/>
<line x1="151.80" y1="413.70" x2="153.80" y2="413.70" stroke="#444" stroke-width="0.8"/>
<line x1="151.80" y1="417.30" x2="153.80" y2="417.30" stroke="#444" stroke-width="0.8"/>
<line x1="149.80" y1="420.90" x2="153.80" y2="420.90" stroke="#444" stroke-width="0.8"/>
<line x1="151.80" y1="424.50" x2="153.80" y2="424.50" stroke="#444" stroke-width="0.8"/>
<line x1="151.80" y1="428.10" x2="153.80" y2="428.10" stroke="#444" stroke-width="0.8"/>
<line x1="151.80" y1="431.70" x2="153.80" y2="431.70" stroke="#444" stroke-width="0.8"/>
<line x1="151.80" y1="435.30" x2="153.80" y2="435.30" stroke="#444" stroke-width="0.8"/>
<line x1="149.80" y1="438.90" x2="153.80" y2="438.90" stroke="#444" stroke-width="0.8"/>
<line x1="151.80" y1="442.50" x2="153.80" y2="442.50" stroke="#444" stroke-width="0.8"/>
<line x1="151.80" y1="446.10" x2="153.80" y2="446.10" stroke="#444" stroke-width="0.8"/>
<line x1="151.80" y1="449.70" x2="153.80" y2="449.70" stroke="#444" stroke-width="0.8"/>
<line x1="151.80" y1="453.30" x2="153.80" y2="453.30" stroke="#444" stroke-width="0.8"/>
<line x1="149.80" y1="456.90" x2="153.80" y2="456.90" stroke="#444" stroke-width="0.8"/>
<line x1="158.80" y1="460.00" x2="158.80" y2="464.00" stroke="#444" stroke-width="0.75"/>
<line x1="160.90" y1="460.00" x2="160.90" y2="462.00" stroke="#444" stroke-width="0.75"/>
<line x1="163.00" y1="460.00" x2="163.00" y2="462.00" stroke="#444" stroke-width="0.75"/>
<line x1="165.10" y1="460.00" x2="165.10" y2="462.00" stroke="#444" stroke-width="0.75"/>
<line x1="167.20" y1="460.00" x2="167.20" y2="462.00" stroke="#444" stroke-width="0.75"/>
<line x1="169.30" y1="460.00" x2="169.30" y2="462.00" stroke="#444" stroke-width="0.75"/>
<line x1="171.40" y1="460.00" x2="171.40" y2="462.00" stroke="#444" stroke-width="0.75"/>
<line x1="173.50" y1="460.00" x2="173.50" y2="462.00" stroke="#444" stroke-width="0.75"/>
<line x1="175.60" y1="460.00" x2="175.60" y2="462.00" stroke="#444" stroke-width="0.75"/>
<line x1="177.70" y1="460.00" x2="177.70" y2="462.00" stroke="#444" stroke-width="0.75"/>
<line x1="179.80" y1="460.00" x2="179.80" y2="462.00" stroke="#444" stroke-width="0.75"/>
<line x1="181.90" y1="460.00" x2="181.90" y2="462.00" stroke="#444" stroke-width="0.75"/>
<line x1="184.00" y1="460.00" x2="184.00" y2="462.00" stroke="#444" stroke-width="0.75"/>
<line x1="186.10" y1="460.00" x2="186.10" y2="462.00" stroke="#444" stroke-width="0.75"/>
<line x1="188.20" y1="460.00" x2="188.20" y2="462.00" stroke="#444" stroke-width="0.75"/>
<line x1="190.30" y1="460.00" x2="190.30" y2="464.00" stroke="#444" stroke-width="0.75"/>
<line x1="201.80" y1="460.00" x2="201.80" y2="462.00" stroke="#444" stroke-width="0.75"/>
<line x1="203.70" y1="460.00" x2="203.70" y2="462.00" stroke="#444" stroke-width="0.75"/>
<line x1="205.60" y1="460.00" x2="205.60" y2="462.00" stroke="#444" stroke-width="0.75"/>
<line x1="207.50" y1="460.00" x2="207.50" y2="462.00" stroke="#444" stroke-width="0.75"/>
<line x1="209.40" y1="460.00" x2="209.40" y2="462.00" stroke="#444" stroke-width="0.75"/>
<line x1="211.30" y1="460.00" x2="211.30" y2="462.00" stroke="#444" stroke-width="0.75"/>
<line x1="213.20" y1="460.00" x2="213.20" y2="462.00" stroke="#444" stroke-width="0.75"/>
<line x1="215.10" y1="460.00" x2="215.10" y2="462.00" stroke="#444" stroke-width="0.75"/>
<line x1="221.80" y1="460.00" x2="221.80" y2="462.00" stroke="#444" stroke-width="0.75"/>
<line x1="223.70" y1="460.00" x2="223.70" y2="462.00" stroke="#444" stroke-width="0.75"/>
<line x1="225.60" y1="460.00" x2="225.60" y2="462.00" stroke="#444" stroke-width="0.75"/>
<line x1="227.50" y1="460.00" x2="227.50" y2="462.00" stroke="#444" stroke-width="0.75"/>
<line x1="229.40" y1="460.00" x2="229.40" y2="462.00" stroke="#444" stroke-width="0.75"/>
<line x1="231.30" y1="460.00" x2="231.30" y2="462.00" stroke="#444" stroke-width="0.75"/>
<line x1="233.20" y1="460.00" x2="233.20" y2="462.00" stroke="#444" stroke-width="0.75"/>
<line x1="235.10" y1="460.00" x2="235.10" y2="462.00" stroke="#444" stroke-width="0.75"/>
<line x1="237.00" y1="460.00" x2="237.00" y2="462.00" stroke="#444" stroke-width="0.75"/>
<line x1="238.90" y1="460.00" x2="238.90" y2="464.00" stroke="#444" stroke-width="0.75"/>
<rect x="173.80" y="460.00" width="3" height="2.6" fill="#111"/>
<line x1="153.80" y1="401.50" x2="189.50" y2="401.50" stroke="#3c3c3c" stroke-width="1"/>
<line x1="189.50" y1="399.50" x2="189.50" y2="403.50" stroke="#3c3c3c" stroke-width="1"/>
<line x1="189.50" y1="394.50" x2="209.50" y2="394.50" stroke="#3c3c3c" stroke-width="1"/>
<line x1="189.50" y1="392.50" x2="189.50" y2="396.50" stroke="#3c3c3c" stroke-width="1"/>
<line x1="209.50" y1="392.50" x2="209.50" y2="396.50" stroke="#3c3c3c" stroke-width="1"/>
<line x1="209.50" y1="397.50" x2="246.50" y2="397.50" stroke="#3c3c3c" stroke-width="1"/>
<line x1="209.50" y1="395.50" x2="209.50" y2="399.50" stroke="#3c3c3c" stroke-width="1"/>
<line x1="246.50" y1="395.50" x2="246.50" y2="399.50" stroke="#3c3c3c" stroke-width="1"/>
<path d="M75.95,563.33 L78.37,554.85 L80.39,548.79 L82.41,544.76 L84.43,541.73 L86.45,539.71 L88.47,534.66 L90.08,530.62 L92.10,525.57 L93.51,522.54 L94.93,518.50 L96.54,519.51 L98.16,515.47 L100.18,512.45 L101.59,508.41 L103.00,503.36 L104.22,498.31 L106.24,497.30 L107.65,486.19 L109.06,484.17 L110.68,478.12 L112.29,482.16 L113.91,483.16 L115.12,488.21 L116.74,496.29 L118.35,510.43 L119.77,524.56 L121.18,536.68 L122.79,546.78 L124.81,554.85 L126.83,559.90 L129.86,562.53 L132.89,563.33 Z" fill="#c5001f" stroke="#38050c" stroke-width="1.0" stroke-linejoin="round"/>
<rect x="47.50" y="469.50" width="94.00" height="94.00" fill="none" stroke="#333" stroke-width="1"/>
<line x1="43.80" y1="471.70" x2="47.80" y2="471.70" stroke="#444" stroke-width="0.8"/>
<line x1="45.80" y1="475.30" x2="47.80" y2="475.30" stroke="#444" stroke-width="0.8"/>
<line x1="45.80" y1="478.90" x2="47.80" y2="478.90" stroke="#444" stroke-width="0.8"/>
<line x1="45.80" y1="482.50" x2="47.80" y2="482.50" stroke="#444" stroke-width="0.8"/>
<line x1="45.80" y1="486.10" x2="47.80" y2="486.10" stroke="#444" stroke-width="0.8"/>
<line x1="43.80" y1="489.70" x2="47.80" y2="489.70" stroke="#444" stroke-width="0.8"/>
<line x1="45.80" y1="493.30" x2="47.80" y2="493.30" stroke="#444" stroke-width="0.8"/>
<line x1="45.80" y1="496.90" x2="47.80" y2="496.90" stroke="#444" stroke-width="0.8"/>
<line x1="45.80" y1="500.50" x2="47.80" y2="500.50" stroke="#444" stroke-width="0.8"/>
<line x1="45.80" y1="504.10" x2="47.80" y2="504.10" stroke="#444" stroke-width="0.8"/>
<line x1="43.80" y1="507.70" x2="47.80" y2="507.70" stroke="#444" stroke-width="0.8"/>
<line x1="45.80" y1="511.30" x2="47.80" y2="511.30" stroke="#444" stroke-width="0.8"/>
<line x1="45.80" y1="514.90" x2="47.80" y2="514.90" stroke="#444" stroke-width="0.8"/>
<line x1="45.80" y1="518.50" x2="47.80" y2="518.50" stroke="#444" stroke-width="0.8"/>
<line x1="45.80" y1="522.10" x2="47.80" y2="522.10" stroke="#444" stroke-width="0.8"/>
<line x1="43.80" y1="525.70" x2="47.80" y2="525.70" stroke="#444" stroke-width="0.8"/>
<line x1="45.80" y1="529.30" x2="47.80" y2="529.30" stroke="#444" stroke-width="0.8"/>
<line x1="45.80" y1="532.90" x2="47.80" y2="532.90" stroke="#444" stroke-width="0.8"/>
<line x1="45.80" y1="536.50" x2="47.80" y2="536.50" stroke="#444" stroke-width="0.8"/>
<line x1="45.80" y1="540.10" x2="47.80" y2="540.10" stroke="#444" stroke-width="0.8"/>
<line x1="43.80" y1="543.70" x2="47.80" y2="543.70" stroke="#444" stroke-width="0.8"/>
<line x1="45.80" y1="547.30" x2="47.80" y2="547.30" stroke="#444" stroke-width="0.8"/>
<line x1="45.80" y1="550.90" x2="47.80" y2="550.90" stroke="#444" stroke-width="0.8"/>
<line x1="45.80" y1="554.50" x2="47.80" y2="554.50" stroke="#444" stroke-width="0.8"/>
<line x1="45.80" y1="558.10" x2="47.80" y2="558.10" stroke="#444" stroke-width="0.8"/>
<line x1="43.80" y1="561.70" x2="47.80" y2="561.70" stroke="#444" stroke-width="0.8"/>
<line x1="52.80" y1="563.10" x2="52.80" y2="567.10" stroke="#444" stroke-width="0.75"/>
<line x1="54.90" y1="563.10" x2="54.90" y2="565.10" stroke="#444" stroke-width="0.75"/>
<line x1="57.00" y1="563.10" x2="57.00" y2="565.10" stroke="#444" stroke-width="0.75"/>
<line x1="59.10" y1="563.10" x2="59.10" y2="565.10" stroke="#444" stroke-width="0.75"/>
<line x1="61.20" y1="563.10" x2="61.20" y2="565.10" stroke="#444" stroke-width="0.75"/>
<line x1="63.30" y1="563.10" x2="63.30" y2="565.10" stroke="#444" stroke-width="0.75"/>
<line x1="65.40" y1="563.10" x2="65.40" y2="565.10" stroke="#444" stroke-width="0.75"/>
<line x1="67.50" y1="563.10" x2="67.50" y2="565.10" stroke="#444" stroke-width="0.75"/>
<line x1="69.60" y1="563.10" x2="69.60" y2="565.10" stroke="#444" stroke-width="0.75"/>
<line x1="71.70" y1="563.10" x2="71.70" y2="565.10" stroke="#444" stroke-width="0.75"/>
<line x1="73.80" y1="563.10" x2="73.80" y2="565.10" stroke="#444" stroke-width="0.75"/>
<line x1="75.90" y1="563.10" x2="75.90" y2="565.10" stroke="#444" stroke-width="0.75"/>
<line x1="78.00" y1="563.10" x2="78.00" y2="565.10" stroke="#444" stroke-width="0.75"/>
<line x1="80.10" y1="563.10" x2="80.10" y2="565.10" stroke="#444" stroke-width="0.75"/>
<line x1="82.20" y1="563.10" x2="82.20" y2="565.10" stroke="#444" stroke-width="0.75"/>
<line x1="84.30" y1="563.10" x2="84.30" y2="567.10" stroke="#444" stroke-width="0.75"/>
<line x1="95.80" y1="563.10" x2="95.80" y2="565.10" stroke="#444" stroke-width="0.75"/>
<line x1="97.70" y1="563.10" x2="97.70" y2="565.10" stroke="#444" stroke-width="0.75"/>
<line x1="99.60" y1="563.10" x2="99.60" y2="565.10" stroke="#444" stroke-width="0.75"/>
<line x1="101.50" y1="563.10" x2="101.50" y2="565.10" stroke="#444" stroke-width="0.75"/>
<line x1="103.40" y1="563.10" x2="103.40" y2="565.10" stroke="#444" stroke-width="0.75"/>
<line x1="105.30" y1="563.10" x2="105.30" y2="565.10" stroke="#444" stroke-width="0.75"/>
<line x1="107.20" y1="563.10" x2="107.20" y2="565.10" stroke="#444" stroke-width="0.75"/>
<line x1="109.10" y1="563.10" x2="109.10" y2="565.10" stroke="#444" stroke-width="0.75"/>
<line x1="115.80" y1="563.10" x2="115.80" y2="565.10" stroke="#444" stroke-width="0.75"/>
<line x1="117.70" y1="563.10" x2="117.70" y2="565.10" stroke="#444" stroke-width="0.75"/>
<line x1="119.60" y1="563.10" x2="119.60" y2="565.10" stroke="#444" stroke-width="0.75"/>
<line x1="121.50" y1="563.10" x2="121.50" y2="565.10" stroke="#444" stroke-width="0.75"/>
<line x1="123.40" y1="563.10" x2="123.40" y2="565.10" stroke="#444" stroke-width="0.75"/>
<line x1="125.30" y1="563.10" x2="125.30" y2="565.10" stroke="#444" stroke-width="0.75"/>
<line x1="127.20" y1="563.10" x2="127.20" y2="565.10" stroke="#444" stroke-width="0.75"/>
<line x1="129.10" y1="563.10" x2="129.10" y2="565.10" stroke="#444" stroke-width="0.75"/>
<line x1="131.00" y1="563.10" x2="131.00" y2="565.10" stroke="#444" stroke-width="0.75"/>
<line x1="132.90" y1="563.10" x2="132.90" y2="567.10" stroke="#444" stroke-width="0.75"/>
<rect x="67.80" y="563.10" width="3" height="2.6" fill="#111"/>
<line x1="47.80" y1="506.50" x2="82.50" y2="506.50" stroke="#3c3c3c" stroke-width="1"/>
<line x1="82.50" y1="504.50" x2="82.50" y2="508.50" stroke="#3c3c3c" stroke-width="1"/>
<line x1="82.50" y1="499.50" x2="103.50" y2="499.50" stroke="#3c3c3c" stroke-width="1"/>
<line x1="82.50" y1="497.50" x2="82.50" y2="501.50" stroke="#3c3c3c" stroke-width="1"/>
<line x1="103.50" y1="497.50" x2="103.50" y2="501.50" stroke="#3c3c3c" stroke-width="1"/>
<line x1="103.50" y1="502.50" x2="140.50" y2="502.50" stroke="#3c3c3c" stroke-width="1"/>
<line x1="103.50" y1="500.50" x2="103.50" y2="504.50" stroke="#3c3c3c" stroke-width="1"/>
<line x1="140.50" y1="500.50" x2="140.50" y2="504.50" stroke="#3c3c3c" stroke-width="1"/>
<path d="M175.26,563.94 L177.28,556.87 L179.30,546.78 L181.32,536.68 L183.34,524.56 L184.75,510.43 L185.96,500.33 L186.77,490.23 L187.98,485.18 L189.40,482.16 L190.41,479.13 L191.42,482.16 L192.43,486.19 L194.04,490.23 L195.46,493.26 L196.87,498.31 L198.48,501.34 L200.10,502.35 L201.51,506.39 L202.93,512.45 L204.54,518.50 L206.16,523.55 L207.77,528.60 L209.59,534.66 L211.61,535.67 L213.02,538.70 L214.64,540.72 L216.66,544.76 L218.68,548.79 L220.70,554.85 L222.72,559.90 L224.74,563.94 Z" fill="#c5001f" stroke="#38050c" stroke-width="1.0" stroke-linejoin="round"/>
<rect x="153.50" y="469.50" width="94.00" height="94.00" fill="none" stroke="#333" stroke-width="1"/>
<line x1="149.80" y1="471.70" x2="153.80" y2="471.70" stroke="#444" stroke-width="0.8"/>
<line x1="151.80" y1="475.30" x2="153.80" y2="475.30" stroke="#444" stroke-width="0.8"/>
<line x1="151.80" y1="478.90" x2="153.80" y2="478.90" stroke="#444" stroke-width="0.8"/>
<line x1="151.80" y1="482.50" x2="153.80" y2="482.50" stroke="#444" stroke-width="0.8"/>
<line x1="151.80" y1="486.10" x2="153.80" y2="486.10" stroke="#444" stroke-width="0.8"/>
<line x1="149.80" y1="489.70" x2="153.80" y2="489.70" stroke="#444" stroke-width="0.8"/>
<line x1="151.80" y1="493.30" x2="153.80" y2="493.30" stroke="#444" stroke-width="0.8"/>
<line x1="151.80" y1="496.90" x2="153.80" y2="496.90" stroke="#444" stroke-width="0.8"/>
<line x1="151.80" y1="500.50" x2="153.80" y2="500.50" stroke="#444" stroke-width="0.8"/>
<line x1="151.80" y1="504.10" x2="153.80" y2="504.10" stroke="#444" stroke-width="0.8"/>
<line x1="149.80" y1="507.70" x2="153.80" y2="507.70" stroke="#444" stroke-width="0.8"/>
<line x1="151.80" y1="511.30" x2="153.80" y2="511.30" stroke="#444" stroke-width="0.8"/>
<line x1="151.80" y1="514.90" x2="153.80" y2="514.90" stroke="#444" stroke-width="0.8"/>
<line x1="151.80" y1="518.50" x2="153.80" y2="518.50" stroke="#444" stroke-width="0.8"/>
<line x1="151.80" y1="522.10" x2="153.80" y2="522.10" stroke="#444" stroke-width="0.8"/>
<line x1="149.80" y1="525.70" x2="153.80" y2="525.70" stroke="#444" stroke-width="0.8"/>
<line x1="151.80" y1="529.30" x2="153.80" y2="529.30" stroke="#444" stroke-width="0.8"/>
<line x1="151.80" y1="532.90" x2="153.80" y2="532.90" stroke="#444" stroke-width="0.8"/>
<line x1="151.80" y1="536.50" x2="153.80" y2="536.50" stroke="#444" stroke-width="0.8"/>
<line x1="151.80" y1="540.10" x2="153.80" y2="540.10" stroke="#444" stroke-width="0.8"/>
<line x1="149.80" y1="543.70" x2="153.80" y2="543.70" stroke="#444" stroke-width="0.8"/>
<line x1="151.80" y1="547.30" x2="153.80" y2="547.30" stroke="#444" stroke-width="0.8"/>
<line x1="151.80" y1="550.90" x2="153.80" y2="550.90" stroke="#444" stroke-width="0.8"/>
<line x1="151.80" y1="554.50" x2="153.80" y2="554.50" stroke="#444" stroke-width="0.8"/>
<line x1="151.80" y1="558.10" x2="153.80" y2="558.10" stroke="#444" stroke-width="0.8"/>
<line x1="149.80" y1="561.70" x2="153.80" y2="561.70" stroke="#444" stroke-width="0.8"/>
<line x1="158.80" y1="563.10" x2="158.80" y2="567.10" stroke="#444" stroke-width="0.75"/>
<line x1="160.90" y1="563.10" x2="160.90" y2="565.10" stroke="#444" stroke-width="0.75"/>
<line x1="163.00" y1="563.10" x2="163.00" y2="565.10" stroke="#444" stroke-width="0.75"/>
<line x1="165.10" y1="563.10" x2="165.10" y2="565.10" stroke="#444" stroke-width="0.75"/>
<line x1="167.20" y1="563.10" x2="167.20" y2="565.10" stroke="#444" stroke-width="0.75"/>
<line x1="169.30" y1="563.10" x2="169.30" y2="565.10" stroke="#444" stroke-width="0.75"/>
<line x1="171.40" y1="563.10" x2="171.40" y2="565.10" stroke="#444" stroke-width="0.75"/>
<line x1="173.50" y1="563.10" x2="173.50" y2="565.10" stroke="#444" stroke-width="0.75"/>
<line x1="175.60" y1="563.10" x2="175.60" y2="565.10" stroke="#444" stroke-width="0.75"/>
<line x1="177.70" y1="563.10" x2="177.70" y2="565.10" stroke="#444" stroke-width="0.75"/>
<line x1="179.80" y1="563.10" x2="179.80" y2="565.10" stroke="#444" stroke-width="0.75"/>
<line x1="181.90" y1="563.10" x2="181.90" y2="565.10" stroke="#444" stroke-width="0.75"/>
<line x1="184.00" y1="563.10" x2="184.00" y2="565.10" stroke="#444" stroke-width="0.75"/>
<line x1="186.10" y1="563.10" x2="186.10" y2="565.10" stroke="#444" stroke-width="0.75"/>
<line x1="188.20" y1="563.10" x2="188.20" y2="565.10" stroke="#444" stroke-width="0.75"/>
<line x1="190.30" y1="563.10" x2="190.30" y2="567.10" stroke="#444" stroke-width="0.75"/>
<line x1="201.80" y1="563.10" x2="201.80" y2="565.10" stroke="#444" stroke-width="0.75"/>
<line x1="203.70" y1="563.10" x2="203.70" y2="565.10" stroke="#444" stroke-width="0.75"/>
<line x1="205.60" y1="563.10" x2="205.60" y2="565.10" stroke="#444" stroke-width="0.75"/>
<line x1="207.50" y1="563.10" x2="207.50" y2="565.10" stroke="#444" stroke-width="0.75"/>
<line x1="209.40" y1="563.10" x2="209.40" y2="565.10" stroke="#444" stroke-width="0.75"/>
<line x1="211.30" y1="563.10" x2="211.30" y2="565.10" stroke="#444" stroke-width="0.75"/>
<line x1="213.20" y1="563.10" x2="213.20" y2="565.10" stroke="#444" stroke-width="0.75"/>
<line x1="215.10" y1="563.10" x2="215.10" y2="565.10" stroke="#444" stroke-width="0.75"/>
<line x1="221.80" y1="563.10" x2="221.80" y2="565.10" stroke="#444" stroke-width="0.75"/>
<line x1="223.70" y1="563.10" x2="223.70" y2="565.10" stroke="#444" stroke-width="0.75"/>
<line x1="225.60" y1="563.10" x2="225.60" y2="565.10" stroke="#444" stroke-width="0.75"/>
<line x1="227.50" y1="563.10" x2="227.50" y2="565.10" stroke="#444" stroke-width="0.75"/>
<line x1="229.40" y1="563.10" x2="229.40" y2="565.10" stroke="#444" stroke-width="0.75"/>
<line x1="231.30" y1="563.10" x2="231.30" y2="565.10" stroke="#444" stroke-width="0.75"/>
<line x1="233.20" y1="563.10" x2="233.20" y2="565.10" stroke="#444" stroke-width="0.75"/>
<line x1="235.10" y1="563.10" x2="235.10" y2="565.10" stroke="#444" stroke-width="0.75"/>
<line x1="237.00" y1="563.10" x2="237.00" y2="565.10" stroke="#444" stroke-width="0.75"/>
<line x1="238.90" y1="563.10" x2="238.90" y2="567.10" stroke="#444" stroke-width="0.75"/>
<rect x="173.80" y="563.10" width="3" height="2.6" fill="#111"/>
<line x1="153.80" y1="506.50" x2="189.50" y2="506.50" stroke="#3c3c3c" stroke-width="1"/>
<line x1="189.50" y1="504.50" x2="189.50" y2="508.50" stroke="#3c3c3c" stroke-width="1"/>
<line x1="189.50" y1="499.50" x2="209.50" y2="499.50" stroke="#3c3c3c" stroke-width="1"/>
<line x1="189.50" y1="497.50" x2="189.50" y2="501.50" stroke="#3c3c3c" stroke-width="1"/>
<line x1="209.50" y1="497.50" x2="209.50" y2="501.50" stroke="#3c3c3c" stroke-width="1"/>
<line x1="209.50" y1="502.50" x2="246.50" y2="502.50" stroke="#3c3c3c" stroke-width="1"/>
<line x1="209.50" y1="500.50" x2="209.50" y2="504.50" stroke="#3c3c3c" stroke-width="1"/>
<line x1="246.50" y1="500.50" x2="246.50" y2="504.50" stroke="#3c3c3c" stroke-width="1"/>
<path d="M73.32,668.95 L75.34,664.91 L77.36,658.85 L79.38,652.79 L81.40,647.75 L83.42,644.72 L85.44,641.69 L87.46,637.65 L89.47,632.60 L91.49,629.57 L93.51,629.57 L95.53,628.56 L97.55,627.55 L99.57,627.55 L101.59,627.55 L103.61,624.52 L104.62,618.47 L106.24,615.44 L107.65,612.41 L108.66,602.31 L109.67,592.21 L111.08,587.16 L112.70,585.15 L114.31,583.13 L115.32,580.50 L116.33,586.16 L117.34,594.23 L118.76,606.35 L120.37,622.50 L121.79,634.62 L123.20,644.72 L124.81,652.79 L126.83,660.87 L128.85,664.91 L130.87,667.94 L132.89,668.95 Z" fill="#c5001f" stroke="#38050c" stroke-width="1.0" stroke-linejoin="round"/>
<rect x="48.50" y="573.50" width="93.00" height="95.00" fill="none" stroke="#333" stroke-width="1"/>
<line x1="44.10" y1="575.80" x2="48.10" y2="575.80" stroke="#444" stroke-width="0.8"/>
<line x1="46.10" y1="579.40" x2="48.10" y2="579.40" stroke="#444" stroke-width="0.8"/>
<line x1="46.10" y1="583.00" x2="48.10" y2="583.00" stroke="#444" stroke-width="0.8"/>
<line x1="46.10" y1="586.60" x2="48.10" y2="586.60" stroke="#444" stroke-width="0.8"/>
<line x1="46.10" y1="590.20" x2="48.10" y2="590.20" stroke="#444" stroke-width="0.8"/>
<line x1="44.10" y1="593.80" x2="48.10" y2="593.80" stroke="#444" stroke-width="0.8"/>
<line x1="46.10" y1="597.40" x2="48.10" y2="597.40" stroke="#444" stroke-width="0.8"/>
<line x1="46.10" y1="601.00" x2="48.10" y2="601.00" stroke="#444" stroke-width="0.8"/>
<line x1="46.10" y1="604.60" x2="48.10" y2="604.60" stroke="#444" stroke-width="0.8"/>
<line x1="46.10" y1="608.20" x2="48.10" y2="608.20" stroke="#444" stroke-width="0.8"/>
<line x1="44.10" y1="611.80" x2="48.10" y2="611.80" stroke="#444" stroke-width="0.8"/>
<line x1="46.10" y1="615.40" x2="48.10" y2="615.40" stroke="#444" stroke-width="0.8"/>
<line x1="46.10" y1="619.00" x2="48.10" y2="619.00" stroke="#444" stroke-width="0.8"/>
<line x1="46.10" y1="622.60" x2="48.10" y2="622.60" stroke="#444" stroke-width="0.8"/>
<line x1="46.10" y1="626.20" x2="48.10" y2="626.20" stroke="#444" stroke-width="0.8"/>
<line x1="44.10" y1="629.80" x2="48.10" y2="629.80" stroke="#444" stroke-width="0.8"/>
<line x1="46.10" y1="633.40" x2="48.10" y2="633.40" stroke="#444" stroke-width="0.8"/>
<line x1="46.10" y1="637.00" x2="48.10" y2="637.00" stroke="#444" stroke-width="0.8"/>
<line x1="46.10" y1="640.60" x2="48.10" y2="640.60" stroke="#444" stroke-width="0.8"/>
<line x1="46.10" y1="644.20" x2="48.10" y2="644.20" stroke="#444" stroke-width="0.8"/>
<line x1="44.10" y1="647.80" x2="48.10" y2="647.80" stroke="#444" stroke-width="0.8"/>
<line x1="46.10" y1="651.40" x2="48.10" y2="651.40" stroke="#444" stroke-width="0.8"/>
<line x1="46.10" y1="655.00" x2="48.10" y2="655.00" stroke="#444" stroke-width="0.8"/>
<line x1="46.10" y1="658.60" x2="48.10" y2="658.60" stroke="#444" stroke-width="0.8"/>
<line x1="46.10" y1="662.20" x2="48.10" y2="662.20" stroke="#444" stroke-width="0.8"/>
<line x1="44.10" y1="665.80" x2="48.10" y2="665.80" stroke="#444" stroke-width="0.8"/>
<line x1="53.10" y1="668.40" x2="53.10" y2="672.40" stroke="#444" stroke-width="0.75"/>
<line x1="55.20" y1="668.40" x2="55.20" y2="670.40" stroke="#444" stroke-width="0.75"/>
<line x1="57.30" y1="668.40" x2="57.30" y2="670.40" stroke="#444" stroke-width="0.75"/>
<line x1="59.40" y1="668.40" x2="59.40" y2="670.40" stroke="#444" stroke-width="0.75"/>
<line x1="61.50" y1="668.40" x2="61.50" y2="670.40" stroke="#444" stroke-width="0.75"/>
<line x1="63.60" y1="668.40" x2="63.60" y2="670.40" stroke="#444" stroke-width="0.75"/>
<line x1="65.70" y1="668.40" x2="65.70" y2="670.40" stroke="#444" stroke-width="0.75"/>
<line x1="67.80" y1="668.40" x2="67.80" y2="670.40" stroke="#444" stroke-width="0.75"/>
<line x1="69.90" y1="668.40" x2="69.90" y2="670.40" stroke="#444" stroke-width="0.75"/>
<line x1="72.00" y1="668.40" x2="72.00" y2="670.40" stroke="#444" stroke-width="0.75"/>
<line x1="74.10" y1="668.40" x2="74.10" y2="670.40" stroke="#444" stroke-width="0.75"/>
<line x1="76.20" y1="668.40" x2="76.20" y2="670.40" stroke="#444" stroke-width="0.75"/>
<line x1="78.30" y1="668.40" x2="78.30" y2="670.40" stroke="#444" stroke-width="0.75"/>
<line x1="80.40" y1="668.40" x2="80.40" y2="670.40" stroke="#444" stroke-width="0.75"/>
<line x1="82.50" y1="668.40" x2="82.50" y2="670.40" stroke="#444" stroke-width="0.75"/>
<line x1="84.60" y1="668.40" x2="84.60" y2="672.40" stroke="#444" stroke-width="0.75"/>
<line x1="96.10" y1="668.40" x2="96.10" y2="670.40" stroke="#444" stroke-width="0.75"/>
<line x1="98.00" y1="668.40" x2="98.00" y2="670.40" stroke="#444" stroke-width="0.75"/>
<line x1="99.90" y1="668.40" x2="99.90" y2="670.40" stroke="#444" stroke-width="0.75"/>
<line x1="101.80" y1="668.40" x2="101.80" y2="670.40" stroke="#444" stroke-width="0.75"/>
<line x1="103.70" y1="668.40" x2="103.70" y2="670.40" stroke="#444" stroke-width="0.75"/>
<line x1="105.60" y1="668.40" x2="105.60" y2="670.40" stroke="#444" stroke-width="0.75"/>
<line x1="107.50" y1="668.40" x2="107.50" y2="670.40" stroke="#444" stroke-width="0.75"/>
<line x1="109.40" y1="668.40" x2="109.40" y2="670.40" stroke="#444" stroke-width="0.75"/>
<line x1="116.10" y1="668.40" x2="116.10" y2="670.40" stroke="#444" stroke-width="0.75"/>
<line x1="118.00" y1="668.40" x2="118.00" y2="670.40" stroke="#444" stroke-width="0.75"/>
<line x1="119.90" y1="668.40" x2="119.90" y2="670.40" stroke="#444" stroke-width="0.75"/>
<line x1="121.80" y1="668.40" x2="121.80" y2="670.40" stroke="#444" stroke-width="0.75"/>
<line x1="123.70" y1="668.40" x2="123.70" y2="670.40" stroke="#444" stroke-width="0.75"/>
<line x1="125.60" y1="668.40" x2="125.60" y2="670.40" stroke="#444" stroke-width="0.75"/>
<line x1="127.50" y1="668.40" x2="127.50" y2="670.40" stroke="#444" stroke-width="0.75"/>
<line x1="129.40" y1="668.40" x2="129.40" y2="670.40" stroke="#444" stroke-width="0.75"/>
<line x1="131.30" y1="668.40" x2="131.30" y2="670.40" stroke="#444" stroke-width="0.75"/>
<line x1="133.20" y1="668.40" x2="133.20" y2="672.40" stroke="#444" stroke-width="0.75"/>
<rect x="68.10" y="668.40" width="3" height="2.6" fill="#111"/>
<line x1="48.10" y1="610.50" x2="82.50" y2="610.50" stroke="#3c3c3c" stroke-width="1"/>
<line x1="82.50" y1="608.50" x2="82.50" y2="612.50" stroke="#3c3c3c" stroke-width="1"/>
<line x1="82.50" y1="603.50" x2="103.50" y2="603.50" stroke="#3c3c3c" stroke-width="1"/>
<line x1="82.50" y1="601.50" x2="82.50" y2="605.50" stroke="#3c3c3c" stroke-width="1"/>
<line x1="103.50" y1="601.50" x2="103.50" y2="605.50" stroke="#3c3c3c" stroke-width="1"/>
<line x1="103.50" y1="606.50" x2="141.50" y2="606.50" stroke="#3c3c3c" stroke-width="1"/>
<line x1="103.50" y1="604.50" x2="103.50" y2="608.50" stroke="#3c3c3c" stroke-width="1"/>
<line x1="141.50" y1="604.50" x2="141.50" y2="608.50" stroke="#3c3c3c" stroke-width="1"/>
<path d="M176.27,668.95 L177.89,660.87 L179.91,650.78 L181.93,639.67 L183.95,628.56 L185.96,618.47 L187.98,610.39 L190.00,600.29 L192.02,592.21 L193.44,588.17 L194.85,585.15 L195.66,582.12 L196.87,586.16 L198.08,590.19 L199.49,596.25 L200.91,604.33 L202.52,614.43 L204.54,628.56 L206.56,640.68 L208.58,648.76 L210.60,654.81 L212.62,659.86 L215.65,663.90 L218.68,666.93 L222.72,668.95 Z" fill="#c5001f" stroke="#38050c" stroke-width="1.0" stroke-linejoin="round"/>
<rect x="153.50" y="573.50" width="94.00" height="95.00" fill="none" stroke="#333" stroke-width="1"/>
<line x1="149.80" y1="575.80" x2="153.80" y2="575.80" stroke="#444" stroke-width="0.8"/>
<line x1="151.80" y1="579.40" x2="153.80" y2="579.40" stroke="#444" stroke-width="0.8"/>
<line x1="151.80" y1="583.00" x2="153.80" y2="583.00" stroke="#444" stroke-width="0.8"/>
<line x1="151.80" y1="586.60" x2="153.80" y2="586.60" stroke="#444" stroke-width="0.8"/>
<line x1="151.80" y1="590.20" x2="153.80" y2="590.20" stroke="#444" stroke-width="0.8"/>
<line x1="149.80" y1="593.80" x2="153.80" y2="593.80" stroke="#444" stroke-width="0.8"/>
<line x1="151.80" y1="597.40" x2="153.80" y2="597.40" stroke="#444" stroke-width="0.8"/>
<line x1="151.80" y1="601.00" x2="153.80" y2="601.00" stroke="#444" stroke-width="0.8"/>
<line x1="151.80" y1="604.60" x2="153.80" y2="604.60" stroke="#444" stroke-width="0.8"/>
<line x1="151.80" y1="608.20" x2="153.80" y2="608.20" stroke="#444" stroke-width="0.8"/>
<line x1="149.80" y1="611.80" x2="153.80" y2="611.80" stroke="#444" stroke-width="0.8"/>
<line x1="151.80" y1="615.40" x2="153.80" y2="615.40" stroke="#444" stroke-width="0.8"/>
<line x1="151.80" y1="619.00" x2="153.80" y2="619.00" stroke="#444" stroke-width="0.8"/>
<line x1="151.80" y1="622.60" x2="153.80" y2="622.60" stroke="#444" stroke-width="0.8"/>
<line x1="151.80" y1="626.20" x2="153.80" y2="626.20" stroke="#444" stroke-width="0.8"/>
<line x1="149.80" y1="629.80" x2="153.80" y2="629.80" stroke="#444" stroke-width="0.8"/>
<line x1="151.80" y1="633.40" x2="153.80" y2="633.40" stroke="#444" stroke-width="0.8"/>
<line x1="151.80" y1="637.00" x2="153.80" y2="637.00" stroke="#444" stroke-width="0.8"/>
<line x1="151.80" y1="640.60" x2="153.80" y2="640.60" stroke="#444" stroke-width="0.8"/>
<line x1="151.80" y1="644.20" x2="153.80" y2="644.20" stroke="#444" stroke-width="0.8"/>
<line x1="149.80" y1="647.80" x2="153.80" y2="647.80" stroke="#444" stroke-width="0.8"/>
<line x1="151.80" y1="651.40" x2="153.80" y2="651.40" stroke="#444" stroke-width="0.8"/>
<line x1="151.80" y1="655.00" x2="153.80" y2="655.00" stroke="#444" stroke-width="0.8"/>
<line x1="151.80" y1="658.60" x2="153.80" y2="658.60" stroke="#444" stroke-width="0.8"/>
<line x1="151.80" y1="662.20" x2="153.80" y2="662.20" stroke="#444" stroke-width="0.8"/>
<line x1="149.80" y1="665.80" x2="153.80" y2="665.80" stroke="#444" stroke-width="0.8"/>
<line x1="158.80" y1="668.40" x2="158.80" y2="672.40" stroke="#444" stroke-width="0.75"/>
<line x1="160.90" y1="668.40" x2="160.90" y2="670.40" stroke="#444" stroke-width="0.75"/>
<line x1="163.00" y1="668.40" x2="163.00" y2="670.40" stroke="#444" stroke-width="0.75"/>
<line x1="165.10" y1="668.40" x2="165.10" y2="670.40" stroke="#444" stroke-width="0.75"/>
<line x1="167.20" y1="668.40" x2="167.20" y2="670.40" stroke="#444" stroke-width="0.75"/>
<line x1="169.30" y1="668.40" x2="169.30" y2="670.40" stroke="#444" stroke-width="0.75"/>
<line x1="171.40" y1="668.40" x2="171.40" y2="670.40" stroke="#444" stroke-width="0.75"/>
<line x1="173.50" y1="668.40" x2="173.50" y2="670.40" stroke="#444" stroke-width="0.75"/>
<line x1="175.60" y1="668.40" x2="175.60" y2="670.40" stroke="#444" stroke-width="0.75"/>
<line x1="177.70" y1="668.40" x2="177.70" y2="670.40" stroke="#444" stroke-width="0.75"/>
<line x1="179.80" y1="668.40" x2="179.80" y2="670.40" stroke="#444" stroke-width="0.75"/>
<line x1="181.90" y1="668.40" x2="181.90" y2="670.40" stroke="#444" stroke-width="0.75"/>
<line x1="184.00" y1="668.40" x2="184.00" y2="670.40" stroke="#444" stroke-width="0.75"/>
<line x1="186.10" y1="668.40" x2="186.10" y2="670.40" stroke="#444" stroke-width="0.75"/>
<line x1="188.20" y1="668.40" x2="188.20" y2="670.40" stroke="#444" stroke-width="0.75"/>
<line x1="190.30" y1="668.40" x2="190.30" y2="672.40" stroke="#444" stroke-width="0.75"/>
<line x1="201.80" y1="668.40" x2="201.80" y2="670.40" stroke="#444" stroke-width="0.75"/>
<line x1="203.70" y1="668.40" x2="203.70" y2="670.40" stroke="#444" stroke-width="0.75"/>
<line x1="205.60" y1="668.40" x2="205.60" y2="670.40" stroke="#444" stroke-width="0.75"/>
<line x1="207.50" y1="668.40" x2="207.50" y2="670.40" stroke="#444" stroke-width="0.75"/>
<line x1="209.40" y1="668.40" x2="209.40" y2="670.40" stroke="#444" stroke-width="0.75"/>
<line x1="211.30" y1="668.40" x2="211.30" y2="670.40" stroke="#444" stroke-width="0.75"/>
<line x1="213.20" y1="668.40" x2="213.20" y2="670.40" stroke="#444" stroke-width="0.75"/>
<line x1="215.10" y1="668.40" x2="215.10" y2="670.40" stroke="#444" stroke-width="0.75"/>
<line x1="221.80" y1="668.40" x2="221.80" y2="670.40" stroke="#444" stroke-width="0.75"/>
<line x1="223.70" y1="668.40" x2="223.70" y2="670.40" stroke="#444" stroke-width="0.75"/>
<line x1="225.60" y1="668.40" x2="225.60" y2="670.40" stroke="#444" stroke-width="0.75"/>
<line x1="227.50" y1="668.40" x2="227.50" y2="670.40" stroke="#444" stroke-width="0.75"/>
<line x1="229.40" y1="668.40" x2="229.40" y2="670.40" stroke="#444" stroke-width="0.75"/>
<line x1="231.30" y1="668.40" x2="231.30" y2="670.40" stroke="#444" stroke-width="0.75"/>
<line x1="233.20" y1="668.40" x2="233.20" y2="670.40" stroke="#444" stroke-width="0.75"/>
<line x1="235.10" y1="668.40" x2="235.10" y2="670.40" stroke="#444" stroke-width="0.75"/>
<line x1="237.00" y1="668.40" x2="237.00" y2="670.40" stroke="#444" stroke-width="0.75"/>
<line x1="238.90" y1="668.40" x2="238.90" y2="672.40" stroke="#444" stroke-width="0.75"/>
<rect x="173.80" y="668.40" width="3" height="2.6" fill="#111"/>
<line x1="153.80" y1="610.50" x2="189.50" y2="610.50" stroke="#3c3c3c" stroke-width="1"/>
<line x1="189.50" y1="608.50" x2="189.50" y2="612.50" stroke="#3c3c3c" stroke-width="1"/>
<line x1="189.50" y1="603.50" x2="209.50" y2="603.50" stroke="#3c3c3c" stroke-width="1"/>
<line x1="189.50" y1="601.50" x2="189.50" y2="605.50" stroke="#3c3c3c" stroke-width="1"/>
<line x1="209.50" y1="601.50" x2="209.50" y2="605.50" stroke="#3c3c3c" stroke-width="1"/>
<line x1="209.50" y1="606.50" x2="246.50" y2="606.50" stroke="#3c3c3c" stroke-width="1"/>
<line x1="209.50" y1="604.50" x2="209.50" y2="608.50" stroke="#3c3c3c" stroke-width="1"/>
<line x1="246.50" y1="604.50" x2="246.50" y2="608.50" stroke="#3c3c3c" stroke-width="1"/>
<path d="M75.95,772.95 L78.37,768.91 L80.39,764.87 L82.41,760.83 L84.43,756.79 L86.85,752.76 L89.47,746.70 L92.10,742.66 L94.52,738.62 L96.95,734.58 L99.57,731.55 L101.59,728.52 L103.61,726.50 L105.02,725.49 L106.24,722.47 L107.04,716.41 L108.26,708.33 L109.67,702.27 L111.08,696.21 L112.29,692.17 L113.51,689.15 L114.31,685.71 L115.53,690.16 L116.74,696.21 L117.75,704.29 L119.16,714.39 L120.78,726.50 L122.79,738.62 L124.81,748.72 L126.83,756.79 L128.85,762.85 L131.28,767.90 L133.90,772.95 Z" fill="#c5001f" stroke="#38050c" stroke-width="1.0" stroke-linejoin="round"/>
<rect x="47.50" y="678.50" width="94.00" height="94.00" fill="none" stroke="#333" stroke-width="1"/>
<line x1="43.60" y1="680.70" x2="47.60" y2="680.70" stroke="#444" stroke-width="0.8"/>
<line x1="45.60" y1="684.30" x2="47.60" y2="684.30" stroke="#444" stroke-width="0.8"/>
<line x1="45.60" y1="687.90" x2="47.60" y2="687.90" stroke="#444" stroke-width="0.8"/>
<line x1="45.60" y1="691.50" x2="47.60" y2="691.50" stroke="#444" stroke-width="0.8"/>
<line x1="45.60" y1="695.10" x2="47.60" y2="695.10" stroke="#444" stroke-width="0.8"/>
<line x1="43.60" y1="698.70" x2="47.60" y2="698.70" stroke="#444" stroke-width="0.8"/>
<line x1="45.60" y1="702.30" x2="47.60" y2="702.30" stroke="#444" stroke-width="0.8"/>
<line x1="45.60" y1="705.90" x2="47.60" y2="705.90" stroke="#444" stroke-width="0.8"/>
<line x1="45.60" y1="709.50" x2="47.60" y2="709.50" stroke="#444" stroke-width="0.8"/>
<line x1="45.60" y1="713.10" x2="47.60" y2="713.10" stroke="#444" stroke-width="0.8"/>
<line x1="43.60" y1="716.70" x2="47.60" y2="716.70" stroke="#444" stroke-width="0.8"/>
<line x1="45.60" y1="720.30" x2="47.60" y2="720.30" stroke="#444" stroke-width="0.8"/>
<line x1="45.60" y1="723.90" x2="47.60" y2="723.90" stroke="#444" stroke-width="0.8"/>
<line x1="45.60" y1="727.50" x2="47.60" y2="727.50" stroke="#444" stroke-width="0.8"/>
<line x1="45.60" y1="731.10" x2="47.60" y2="731.10" stroke="#444" stroke-width="0.8"/>
<line x1="43.60" y1="734.70" x2="47.60" y2="734.70" stroke="#444" stroke-width="0.8"/>
<line x1="45.60" y1="738.30" x2="47.60" y2="738.30" stroke="#444" stroke-width="0.8"/>
<line x1="45.60" y1="741.90" x2="47.60" y2="741.90" stroke="#444" stroke-width="0.8"/>
<line x1="45.60" y1="745.50" x2="47.60" y2="745.50" stroke="#444" stroke-width="0.8"/>
<line x1="45.60" y1="749.10" x2="47.60" y2="749.10" stroke="#444" stroke-width="0.8"/>
<line x1="43.60" y1="752.70" x2="47.60" y2="752.70" stroke="#444" stroke-width="0.8"/>
<line x1="45.60" y1="756.30" x2="47.60" y2="756.30" stroke="#444" stroke-width="0.8"/>
<line x1="45.60" y1="759.90" x2="47.60" y2="759.90" stroke="#444" stroke-width="0.8"/>
<line x1="45.60" y1="763.50" x2="47.60" y2="763.50" stroke="#444" stroke-width="0.8"/>
<line x1="45.60" y1="767.10" x2="47.60" y2="767.10" stroke="#444" stroke-width="0.8"/>
<line x1="43.60" y1="770.70" x2="47.60" y2="770.70" stroke="#444" stroke-width="0.8"/>
<line x1="52.60" y1="772.70" x2="52.60" y2="776.70" stroke="#444" stroke-width="0.75"/>
<line x1="54.70" y1="772.70" x2="54.70" y2="774.70" stroke="#444" stroke-width="0.75"/>
<line x1="56.80" y1="772.70" x2="56.80" y2="774.70" stroke="#444" stroke-width="0.75"/>
<line x1="58.90" y1="772.70" x2="58.90" y2="774.70" stroke="#444" stroke-width="0.75"/>
<line x1="61.00" y1="772.70" x2="61.00" y2="774.70" stroke="#444" stroke-width="0.75"/>
<line x1="63.10" y1="772.70" x2="63.10" y2="774.70" stroke="#444" stroke-width="0.75"/>
<line x1="65.20" y1="772.70" x2="65.20" y2="774.70" stroke="#444" stroke-width="0.75"/>
<line x1="67.30" y1="772.70" x2="67.30" y2="774.70" stroke="#444" stroke-width="0.75"/>
<line x1="69.40" y1="772.70" x2="69.40" y2="774.70" stroke="#444" stroke-width="0.75"/>
<line x1="71.50" y1="772.70" x2="71.50" y2="774.70" stroke="#444" stroke-width="0.75"/>
<line x1="73.60" y1="772.70" x2="73.60" y2="774.70" stroke="#444" stroke-width="0.75"/>
<line x1="75.70" y1="772.70" x2="75.70" y2="774.70" stroke="#444" stroke-width="0.75"/>
<line x1="77.80" y1="772.70" x2="77.80" y2="774.70" stroke="#444" stroke-width="0.75"/>
<line x1="79.90" y1="772.70" x2="79.90" y2="774.70" stroke="#444" stroke-width="0.75"/>
<line x1="82.00" y1="772.70" x2="82.00" y2="774.70" stroke="#444" stroke-width="0.75"/>
<line x1="84.10" y1="772.70" x2="84.10" y2="776.70" stroke="#444" stroke-width="0.75"/>
<line x1="95.60" y1="772.70" x2="95.60" y2="774.70" stroke="#444" stroke-width="0.75"/>
<line x1="97.50" y1="772.70" x2="97.50" y2="774.70" stroke="#444" stroke-width="0.75"/>
<line x1="99.40" y1="772.70" x2="99.40" y2="774.70" stroke="#444" stroke-width="0.75"/>
<line x1="101.30" y1="772.70" x2="101.30" y2="774.70" stroke="#444" stroke-width="0.75"/>
<line x1="103.20" y1="772.70" x2="103.20" y2="774.70" stroke="#444" stroke-width="0.75"/>
<line x1="105.10" y1="772.70" x2="105.10" y2="774.70" stroke="#444" stroke-width="0.75"/>
<line x1="107.00" y1="772.70" x2="107.00" y2="774.70" stroke="#444" stroke-width="0.75"/>
<line x1="108.90" y1="772.70" x2="108.90" y2="774.70" stroke="#444" stroke-width="0.75"/>
<line x1="115.60" y1="772.70" x2="115.60" y2="774.70" stroke="#444" stroke-width="0.75"/>
<line x1="117.50" y1="772.70" x2="117.50" y2="774.70" stroke="#444" stroke-width="0.75"/>
<line x1="119.40" y1="772.70" x2="119.40" y2="774.70" stroke="#444" stroke-width="0.75"/>
<line x1="121.30" y1="772.70" x2="121.30" y2="774.70" stroke="#444" stroke-width="0.75"/>
<line x1="123.20" y1="772.70" x2="123.20" y2="774.70" stroke="#444" stroke-width="0.75"/>
<line x1="125.10" y1="772.70" x2="125.10" y2="774.70" stroke="#444" stroke-width="0.75"/>
<line x1="127.00" y1="772.70" x2="127.00" y2="774.70" stroke="#444" stroke-width="0.75"/>
<line x1="128.90" y1="772.70" x2="128.90" y2="774.70" stroke="#444" stroke-width="0.75"/>
<line x1="130.80" y1="772.70" x2="130.80" y2="774.70" stroke="#444" stroke-width="0.75"/>
<line x1="132.70" y1="772.70" x2="132.70" y2="776.70" stroke="#444" stroke-width="0.75"/>
<rect x="67.60" y="772.70" width="3" height="2.6" fill="#111"/>
<line x1="47.60" y1="715.50" x2="82.50" y2="715.50" stroke="#3c3c3c" stroke-width="1"/>
<line x1="82.50" y1="713.50" x2="82.50" y2="717.50" stroke="#3c3c3c" stroke-width="1"/>
<line x1="82.50" y1="708.50" x2="103.50" y2="708.50" stroke="#3c3c3c" stroke-width="1"/>
<line x1="82.50" y1="706.50" x2="82.50" y2="710.50" stroke="#3c3c3c" stroke-width="1"/>
<line x1="103.50" y1="706.50" x2="103.50" y2="710.50" stroke="#3c3c3c" stroke-width="1"/>
<line x1="103.50" y1="711.50" x2="140.50" y2="711.50" stroke="#3c3c3c" stroke-width="1"/>
<line x1="103.50" y1="709.50" x2="103.50" y2="713.50" stroke="#3c3c3c" stroke-width="1"/>
<line x1="140.50" y1="709.50" x2="140.50" y2="713.50" stroke="#3c3c3c" stroke-width="1"/>
<path d="M177.28,772.95 L179.30,764.87 L181.32,754.78 L183.34,744.68 L185.36,734.58 L186.77,725.49 L187.98,722.47 L189.40,714.39 L190.81,706.31 L192.43,700.25 L194.04,694.19 L195.46,690.16 L196.47,689.75 L197.47,689.75 L198.89,690.16 L200.10,693.18 L201.51,698.23 L202.93,704.29 L204.54,714.39 L206.16,724.48 L208.18,736.60 L210.20,744.68 L212.22,750.74 L214.24,754.78 L216.66,758.81 L218.68,763.86 L221.10,767.90 L223.73,771.94 L225.75,772.95 Z" fill="#c5001f" stroke="#38050c" stroke-width="1.0" stroke-linejoin="round"/>
<rect x="153.50" y="678.50" width="94.00" height="94.00" fill="none" stroke="#333" stroke-width="1"/>
<line x1="149.75" y1="680.70" x2="153.75" y2="680.70" stroke="#444" stroke-width="0.8"/>
<line x1="151.75" y1="684.30" x2="153.75" y2="684.30" stroke="#444" stroke-width="0.8"/>
<line x1="151.75" y1="687.90" x2="153.75" y2="687.90" stroke="#444" stroke-width="0.8"/>
<line x1="151.75" y1="691.50" x2="153.75" y2="691.50" stroke="#444" stroke-width="0.8"/>
<line x1="151.75" y1="695.10" x2="153.75" y2="695.10" stroke="#444" stroke-width="0.8"/>
<line x1="149.75" y1="698.70" x2="153.75" y2="698.70" stroke="#444" stroke-width="0.8"/>
<line x1="151.75" y1="702.30" x2="153.75" y2="702.30" stroke="#444" stroke-width="0.8"/>
<line x1="151.75" y1="705.90" x2="153.75" y2="705.90" stroke="#444" stroke-width="0.8"/>
<line x1="151.75" y1="709.50" x2="153.75" y2="709.50" stroke="#444" stroke-width="0.8"/>
<line x1="151.75" y1="713.10" x2="153.75" y2="713.10" stroke="#444" stroke-width="0.8"/>
<line x1="149.75" y1="716.70" x2="153.75" y2="716.70" stroke="#444" stroke-width="0.8"/>
<line x1="151.75" y1="720.30" x2="153.75" y2="720.30" stroke="#444" stroke-width="0.8"/>
<line x1="151.75" y1="723.90" x2="153.75" y2="723.90" stroke="#444" stroke-width="0.8"/>
<line x1="151.75" y1="727.50" x2="153.75" y2="727.50" stroke="#444" stroke-width="0.8"/>
<line x1="151.75" y1="731.10" x2="153.75" y2="731.10" stroke="#444" stroke-width="0.8"/>
<line x1="149.75" y1="734.70" x2="153.75" y2="734.70" stroke="#444" stroke-width="0.8"/>
<line x1="151.75" y1="738.30" x2="153.75" y2="738.30" stroke="#444" stroke-width="0.8"/>
<line x1="151.75" y1="741.90" x2="153.75" y2="741.90" stroke="#444" stroke-width="0.8"/>
<line x1="151.75" y1="745.50" x2="153.75" y2="745.50" stroke="#444" stroke-width="0.8"/>
<line x1="151.75" y1="749.10" x2="153.75" y2="749.10" stroke="#444" stroke-width="0.8"/>
<line x1="149.75" y1="752.70" x2="153.75" y2="752.70" stroke="#444" stroke-width="0.8"/>
<line x1="151.75" y1="756.30" x2="153.75" y2="756.30" stroke="#444" stroke-width="0.8"/>
<line x1="151.75" y1="759.90" x2="153.75" y2="759.90" stroke="#444" stroke-width="0.8"/>
<line x1="151.75" y1="763.50" x2="153.75" y2="763.50" stroke="#444" stroke-width="0.8"/>
<line x1="151.75" y1="767.10" x2="153.75" y2="767.10" stroke="#444" stroke-width="0.8"/>
<line x1="149.75" y1="770.70" x2="153.75" y2="770.70" stroke="#444" stroke-width="0.8"/>
<line x1="158.75" y1="772.70" x2="158.75" y2="776.70" stroke="#444" stroke-width="0.75"/>
<line x1="160.85" y1="772.70" x2="160.85" y2="774.70" stroke="#444" stroke-width="0.75"/>
<line x1="162.95" y1="772.70" x2="162.95" y2="774.70" stroke="#444" stroke-width="0.75"/>
<line x1="165.05" y1="772.70" x2="165.05" y2="774.70" stroke="#444" stroke-width="0.75"/>
<line x1="167.15" y1="772.70" x2="167.15" y2="774.70" stroke="#444" stroke-width="0.75"/>
<line x1="169.25" y1="772.70" x2="169.25" y2="774.70" stroke="#444" stroke-width="0.75"/>
<line x1="171.35" y1="772.70" x2="171.35" y2="774.70" stroke="#444" stroke-width="0.75"/>
<line x1="173.45" y1="772.70" x2="173.45" y2="774.70" stroke="#444" stroke-width="0.75"/>
<line x1="175.55" y1="772.70" x2="175.55" y2="774.70" stroke="#444" stroke-width="0.75"/>
<line x1="177.65" y1="772.70" x2="177.65" y2="774.70" stroke="#444" stroke-width="0.75"/>
<line x1="179.75" y1="772.70" x2="179.75" y2="774.70" stroke="#444" stroke-width="0.75"/>
<line x1="181.85" y1="772.70" x2="181.85" y2="774.70" stroke="#444" stroke-width="0.75"/>
<line x1="183.95" y1="772.70" x2="183.95" y2="774.70" stroke="#444" stroke-width="0.75"/>
<line x1="186.05" y1="772.70" x2="186.05" y2="774.70" stroke="#444" stroke-width="0.75"/>
<line x1="188.15" y1="772.70" x2="188.15" y2="774.70" stroke="#444" stroke-width="0.75"/>
<line x1="190.25" y1="772.70" x2="190.25" y2="776.70" stroke="#444" stroke-width="0.75"/>
<line x1="201.75" y1="772.70" x2="201.75" y2="774.70" stroke="#444" stroke-width="0.75"/>
<line x1="203.65" y1="772.70" x2="203.65" y2="774.70" stroke="#444" stroke-width="0.75"/>
<line x1="205.55" y1="772.70" x2="205.55" y2="774.70" stroke="#444" stroke-width="0.75"/>
<line x1="207.45" y1="772.70" x2="207.45" y2="774.70" stroke="#444" stroke-width="0.75"/>
<line x1="209.35" y1="772.70" x2="209.35" y2="774.70" stroke="#444" stroke-width="0.75"/>
<line x1="211.25" y1="772.70" x2="211.25" y2="774.70" stroke="#444" stroke-width="0.75"/>
<line x1="213.15" y1="772.70" x2="213.15" y2="774.70" stroke="#444" stroke-width="0.75"/>
<line x1="215.05" y1="772.70" x2="215.05" y2="774.70" stroke="#444" stroke-width="0.75"/>
<line x1="221.75" y1="772.70" x2="221.75" y2="774.70" stroke="#444" stroke-width="0.75"/>
<line x1="223.65" y1="772.70" x2="223.65" y2="774.70" stroke="#444" stroke-width="0.75"/>
<line x1="225.55" y1="772.70" x2="225.55" y2="774.70" stroke="#444" stroke-width="0.75"/>
<line x1="227.45" y1="772.70" x2="227.45" y2="774.70" stroke="#444" stroke-width="0.75"/>
<line x1="229.35" y1="772.70" x2="229.35" y2="774.70" stroke="#444" stroke-width="0.75"/>
<line x1="231.25" y1="772.70" x2="231.25" y2="774.70" stroke="#444" stroke-width="0.75"/>
<line x1="233.15" y1="772.70" x2="233.15" y2="774.70" stroke="#444" stroke-width="0.75"/>
<line x1="235.05" y1="772.70" x2="235.05" y2="774.70" stroke="#444" stroke-width="0.75"/>
<line x1="236.95" y1="772.70" x2="236.95" y2="774.70" stroke="#444" stroke-width="0.75"/>
<line x1="238.85" y1="772.70" x2="238.85" y2="776.70" stroke="#444" stroke-width="0.75"/>
<rect x="173.75" y="772.70" width="3" height="2.6" fill="#111"/>
<line x1="153.75" y1="715.50" x2="189.50" y2="715.50" stroke="#3c3c3c" stroke-width="1"/>
<line x1="189.50" y1="713.50" x2="189.50" y2="717.50" stroke="#3c3c3c" stroke-width="1"/>
<line x1="189.50" y1="708.50" x2="209.50" y2="708.50" stroke="#3c3c3c" stroke-width="1"/>
<line x1="189.50" y1="706.50" x2="189.50" y2="710.50" stroke="#3c3c3c" stroke-width="1"/>
<line x1="209.50" y1="706.50" x2="209.50" y2="710.50" stroke="#3c3c3c" stroke-width="1"/>
<line x1="209.50" y1="711.50" x2="246.50" y2="711.50" stroke="#3c3c3c" stroke-width="1"/>
<line x1="209.50" y1="709.50" x2="209.50" y2="713.50" stroke="#3c3c3c" stroke-width="1"/>
<line x1="246.50" y1="709.50" x2="246.50" y2="713.50" stroke="#3c3c3c" stroke-width="1"/>
<line x1="107.10" y1="52.50" x2="107.10" y2="773.00" stroke="#2b3f58" stroke-width="1.35" stroke-dasharray="3.2,2.4"/>
<line x1="216.40" y1="52.30" x2="216.40" y2="773.00" stroke="#2b3f58" stroke-width="1.35" stroke-dasharray="3.2,2.4"/>
<defs><clipPath id="h00"><path d="M67.26,146.12 L68.47,102.30 L69.68,66.76 L70.90,60.30 L72.11,72.82 L73.32,90.39 L74.33,102.30 L75.54,111.79 L77.36,121.49 L79.78,130.78 L82.61,137.84 L86.85,142.69 L92.71,144.91 L100.99,145.92 L107.04,146.12 Z"/></clipPath><clipPath id="h01"><path d="M175.46,146.12 L176.67,102.30 L177.88,66.76 L179.10,60.30 L180.31,72.82 L181.52,90.39 L182.53,102.30 L183.74,111.79 L185.56,121.49 L187.98,130.78 L190.81,137.84 L195.05,142.69 L200.91,144.91 L209.19,145.92 L215.24,146.12 Z"/></clipPath><clipPath id="h10"><path d="M67.67,250.93 L69.28,238.81 L70.29,204.48 L71.30,180.25 L72.31,171.16 L73.32,169.15 L74.33,172.17 L75.34,173.18 L76.35,174.19 L77.36,178.23 L78.37,186.31 L80.39,196.41 L82.41,208.52 L84.43,218.62 L86.45,223.67 L88.47,224.68 L91.49,227.71 L93.51,228.72 L95.53,227.71 L97.55,225.69 L100.58,224.68 L103.61,223.67 L105.63,225.69 L107.65,230.74 L109.67,235.79 L112.70,244.87 L115.73,249.92 L118.76,250.93 Z"/></clipPath><clipPath id="h11"><path d="M175.26,250.93 L176.27,234.78 L177.28,204.48 L178.29,176.21 L178.69,168.14 L179.91,167.73 L180.71,176.21 L181.93,194.39 L183.34,208.52 L184.75,220.64 L186.37,228.72 L188.39,230.74 L190.81,231.75 L192.83,230.74 L194.45,229.73 L196.47,233.77 L198.48,236.79 L200.50,240.83 L202.52,245.88 L205.55,249.92 L208.58,250.93 Z"/></clipPath><clipPath id="h20"><path d="M67.87,355.33 L69.28,338.78 L70.29,318.58 L71.30,309.49 L72.31,312.52 L73.32,317.57 L74.73,319.59 L76.35,323.63 L77.96,317.57 L79.38,312.52 L81.40,305.46 L82.81,298.39 L84.43,296.37 L86.04,297.38 L86.85,298.39 L88.47,302.43 L90.48,308.48 L92.10,310.50 L93.51,312.52 L94.93,316.56 L96.54,316.56 L98.16,310.50 L99.57,305.46 L101.59,303.44 L103.00,295.36 L104.22,290.31 L105.63,287.89 L107.65,286.27 L109.06,279.20 L110.68,283.24 L112.29,283.24 L113.71,289.30 L115.12,298.39 L116.74,308.48 L118.76,320.60 L120.78,332.72 L122.79,342.81 L124.81,349.88 L126.83,353.92 L128.85,355.33 Z"/></clipPath><clipPath id="h21"><path d="M174.86,354.93 L176.27,342.81 L177.28,318.58 L178.29,288.29 L179.91,276.17 L180.92,272.14 L182.33,274.16 L183.34,280.21 L184.75,290.31 L186.37,302.43 L187.98,312.52 L190.41,317.57 L192.83,322.62 L195.46,326.66 L196.87,324.64 L198.48,325.65 L200.10,324.64 L201.72,325.65 L202.93,330.70 L204.54,335.75 L206.56,340.79 L208.58,345.84 L210.60,350.89 L212.62,353.92 L214.64,354.93 Z"/></clipPath><clipPath id="h30"><path d="M68.27,459.94 L70.29,456.91 L72.31,450.85 L74.33,444.79 L76.35,438.74 L78.37,432.68 L80.39,428.64 L81.80,422.58 L82.81,423.59 L84.02,428.64 L86.04,431.67 L88.47,432.68 L90.48,432.27 L92.50,433.69 L94.12,435.71 L96.14,433.69 L98.16,430.66 L100.18,426.62 L102.20,420.56 L104.22,411.47 L105.63,402.39 L107.04,390.27 L108.66,384.21 L110.27,378.16 L111.08,375.13 L112.29,378.16 L113.71,382.19 L115.12,388.25 L116.74,396.33 L118.35,408.45 L119.77,420.56 L121.18,430.66 L122.79,442.78 L124.41,450.85 L125.82,455.90 L127.84,459.94 Z"/></clipPath><clipPath id="h31"><path d="M176.27,459.94 L177.89,456.91 L179.30,446.81 L180.71,428.64 L181.93,406.43 L182.73,392.29 L183.95,380.17 L185.36,377.15 L186.37,375.13 L187.38,378.16 L188.39,381.18 L189.40,383.20 L190.81,388.25 L192.02,395.32 L193.44,396.33 L194.85,398.35 L196.47,401.38 L198.08,400.37 L199.49,402.39 L200.91,401.38 L202.12,404.41 L203.53,410.47 L205.55,415.51 L207.57,420.56 L209.59,424.60 L211.61,426.62 L213.63,426.62 L215.65,428.64 L217.06,433.69 L218.68,438.74 L220.70,444.79 L222.72,450.85 L224.74,455.90 L227.77,459.33 L229.79,459.94 Z"/></clipPath><clipPath id="h40"><path d="M75.95,563.33 L78.37,554.85 L80.39,548.79 L82.41,544.76 L84.43,541.73 L86.45,539.71 L88.47,534.66 L90.08,530.62 L92.10,525.57 L93.51,522.54 L94.93,518.50 L96.54,519.51 L98.16,515.47 L100.18,512.45 L101.59,508.41 L103.00,503.36 L104.22,498.31 L106.24,497.30 L107.65,486.19 L109.06,484.17 L110.68,478.12 L112.29,482.16 L113.91,483.16 L115.12,488.21 L116.74,496.29 L118.35,510.43 L119.77,524.56 L121.18,536.68 L122.79,546.78 L124.81,554.85 L126.83,559.90 L129.86,562.53 L132.89,563.33 Z"/></clipPath><clipPath id="h41"><path d="M175.26,563.94 L177.28,556.87 L179.30,546.78 L181.32,536.68 L183.34,524.56 L184.75,510.43 L185.96,500.33 L186.77,490.23 L187.98,485.18 L189.40,482.16 L190.41,479.13 L191.42,482.16 L192.43,486.19 L194.04,490.23 L195.46,493.26 L196.87,498.31 L198.48,501.34 L200.10,502.35 L201.51,506.39 L202.93,512.45 L204.54,518.50 L206.16,523.55 L207.77,528.60 L209.59,534.66 L211.61,535.67 L213.02,538.70 L214.64,540.72 L216.66,544.76 L218.68,548.79 L220.70,554.85 L222.72,559.90 L224.74,563.94 Z"/></clipPath><clipPath id="h50"><path d="M73.32,668.95 L75.34,664.91 L77.36,658.85 L79.38,652.79 L81.40,647.75 L83.42,644.72 L85.44,641.69 L87.46,637.65 L89.47,632.60 L91.49,629.57 L93.51,629.57 L95.53,628.56 L97.55,627.55 L99.57,627.55 L101.59,627.55 L103.61,624.52 L104.62,618.47 L106.24,615.44 L107.65,612.41 L108.66,602.31 L109.67,592.21 L111.08,587.16 L112.70,585.15 L114.31,583.13 L115.32,580.50 L116.33,586.16 L117.34,594.23 L118.76,606.35 L120.37,622.50 L121.79,634.62 L123.20,644.72 L124.81,652.79 L126.83,660.87 L128.85,664.91 L130.87,667.94 L132.89,668.95 Z"/></clipPath><clipPath id="h51"><path d="M176.27,668.95 L177.89,660.87 L179.91,650.78 L181.93,639.67 L183.95,628.56 L185.96,618.47 L187.98,610.39 L190.00,600.29 L192.02,592.21 L193.44,588.17 L194.85,585.15 L195.66,582.12 L196.87,586.16 L198.08,590.19 L199.49,596.25 L200.91,604.33 L202.52,614.43 L204.54,628.56 L206.56,640.68 L208.58,648.76 L210.60,654.81 L212.62,659.86 L215.65,663.90 L218.68,666.93 L222.72,668.95 Z"/></clipPath><clipPath id="h60"><path d="M75.95,772.95 L78.37,768.91 L80.39,764.87 L82.41,760.83 L84.43,756.79 L86.85,752.76 L89.47,746.70 L92.10,742.66 L94.52,738.62 L96.95,734.58 L99.57,731.55 L101.59,728.52 L103.61,726.50 L105.02,725.49 L106.24,722.47 L107.04,716.41 L108.26,708.33 L109.67,702.27 L111.08,696.21 L112.29,692.17 L113.51,689.15 L114.31,685.71 L115.53,690.16 L116.74,696.21 L117.75,704.29 L119.16,714.39 L120.78,726.50 L122.79,738.62 L124.81,748.72 L126.83,756.79 L128.85,762.85 L131.28,767.90 L133.90,772.95 Z"/></clipPath><clipPath id="h61"><path d="M177.28,772.95 L179.30,764.87 L181.32,754.78 L183.34,744.68 L185.36,734.58 L186.77,725.49 L187.98,722.47 L189.40,714.39 L190.81,706.31 L192.43,700.25 L194.04,694.19 L195.46,690.16 L196.47,689.75 L197.47,689.75 L198.89,690.16 L200.10,693.18 L201.51,698.23 L202.93,704.29 L204.54,714.39 L206.16,724.48 L208.18,736.60 L210.20,744.68 L212.22,750.74 L214.24,754.78 L216.66,758.81 L218.68,763.86 L221.10,767.90 L223.73,771.94 L225.75,772.95 Z"/></clipPath></defs>
<g clip-path="url(#h00)"><line x1="107.1" y1="52.5" x2="107.1" y2="773" stroke="#7e0a1a" stroke-width="1.35" stroke-dasharray="3.2,2.4"/></g>
<g clip-path="url(#h01)"><line x1="216.4" y1="52.3" x2="216.4" y2="773" stroke="#7e0a1a" stroke-width="1.35" stroke-dasharray="3.2,2.4"/></g>
<g clip-path="url(#h10)"><line x1="107.1" y1="52.5" x2="107.1" y2="773" stroke="#7e0a1a" stroke-width="1.35" stroke-dasharray="3.2,2.4"/></g>
<g clip-path="url(#h11)"><line x1="216.4" y1="52.3" x2="216.4" y2="773" stroke="#7e0a1a" stroke-width="1.35" stroke-dasharray="3.2,2.4"/></g>
<g clip-path="url(#h20)"><line x1="107.1" y1="52.5" x2="107.1" y2="773" stroke="#7e0a1a" stroke-width="1.35" stroke-dasharray="3.2,2.4"/></g>
<g clip-path="url(#h21)"><line x1="216.4" y1="52.3" x2="216.4" y2="773" stroke="#7e0a1a" stroke-width="1.35" stroke-dasharray="3.2,2.4"/></g>
<g clip-path="url(#h30)"><line x1="107.1" y1="52.5" x2="107.1" y2="773" stroke="#7e0a1a" stroke-width="1.35" stroke-dasharray="3.2,2.4"/></g>
<g clip-path="url(#h31)"><line x1="216.4" y1="52.3" x2="216.4" y2="773" stroke="#7e0a1a" stroke-width="1.35" stroke-dasharray="3.2,2.4"/></g>
<g clip-path="url(#h40)"><line x1="107.1" y1="52.5" x2="107.1" y2="773" stroke="#7e0a1a" stroke-width="1.35" stroke-dasharray="3.2,2.4"/></g>
<g clip-path="url(#h41)"><line x1="216.4" y1="52.3" x2="216.4" y2="773" stroke="#7e0a1a" stroke-width="1.35" stroke-dasharray="3.2,2.4"/></g>
<g clip-path="url(#h50)"><line x1="107.1" y1="52.5" x2="107.1" y2="773" stroke="#7e0a1a" stroke-width="1.35" stroke-dasharray="3.2,2.4"/></g>
<g clip-path="url(#h51)"><line x1="216.4" y1="52.3" x2="216.4" y2="773" stroke="#7e0a1a" stroke-width="1.35" stroke-dasharray="3.2,2.4"/></g>
<g clip-path="url(#h60)"><line x1="107.1" y1="52.5" x2="107.1" y2="773" stroke="#7e0a1a" stroke-width="1.35" stroke-dasharray="3.2,2.4"/></g>
<g clip-path="url(#h61)"><line x1="216.4" y1="52.3" x2="216.4" y2="773" stroke="#7e0a1a" stroke-width="1.35" stroke-dasharray="3.2,2.4"/></g>
<line x1="310.00" y1="31.00" x2="310.00" y2="164.90" stroke="#222" stroke-width="1.3"/>
<line x1="306.20" y1="164.30" x2="505.00" y2="164.30" stroke="#222" stroke-width="1.3"/>
<line x1="306.20" y1="34.40" x2="310.00" y2="34.40" stroke="#222" stroke-width="1"/>
<line x1="306.20" y1="99.20" x2="310.00" y2="99.20" stroke="#222" stroke-width="1"/>
<line x1="306.20" y1="164.30" x2="310.00" y2="164.30" stroke="#222" stroke-width="1"/>
<line x1="327.70" y1="164.30" x2="327.70" y2="167.70" stroke="#222" stroke-width="1"/>
<line x1="354.20" y1="164.30" x2="354.20" y2="167.70" stroke="#222" stroke-width="1"/>
<line x1="380.80" y1="164.30" x2="380.80" y2="167.70" stroke="#222" stroke-width="1"/>
<line x1="407.50" y1="164.30" x2="407.50" y2="167.70" stroke="#222" stroke-width="1"/>
<line x1="434.00" y1="164.30" x2="434.00" y2="167.70" stroke="#222" stroke-width="1"/>
<line x1="460.50" y1="164.30" x2="460.50" y2="167.70" stroke="#222" stroke-width="1"/>
<line x1="487.20" y1="164.30" x2="487.20" y2="167.70" stroke="#222" stroke-width="1"/>
<line x1="313.80" y1="85.80" x2="505.00" y2="85.80" stroke="#222" stroke-width="1.0" stroke-dasharray="2.7,2.7"/>
<line x1="327.00" y1="36.20" x2="327.00" y2="43.00" stroke="#34465e" stroke-width="0.9"/>
<line x1="324.40" y1="36.20" x2="329.60" y2="36.20" stroke="#34465e" stroke-width="1"/>
<line x1="324.40" y1="43.00" x2="329.60" y2="43.00" stroke="#34465e" stroke-width="1"/>
<circle cx="327.00" cy="39.50" r="2.6" fill="#193f6e" stroke="#34465e" stroke-width="0.5"/>
<circle cx="354.20" cy="54.00" r="2.6" fill="#193f6e" stroke="#34465e" stroke-width="0.5"/>
<line x1="380.80" y1="77.10" x2="380.80" y2="90.10" stroke="#34465e" stroke-width="0.9"/>
<line x1="378.20" y1="77.10" x2="383.40" y2="77.10" stroke="#34465e" stroke-width="1"/>
<line x1="378.20" y1="90.10" x2="383.40" y2="90.10" stroke="#34465e" stroke-width="1"/>
<circle cx="380.80" cy="82.80" r="2.6" fill="#193f6e" stroke="#34465e" stroke-width="0.5"/>
<line x1="407.40" y1="93.40" x2="407.40" y2="107.00" stroke="#34465e" stroke-width="0.9"/>
<line x1="404.80" y1="93.40" x2="410.00" y2="93.40" stroke="#34465e" stroke-width="1"/>
<line x1="404.80" y1="107.00" x2="410.00" y2="107.00" stroke="#34465e" stroke-width="1"/>
<circle cx="407.40" cy="99.50" r="2.6" fill="#193f6e" stroke="#34465e" stroke-width="0.5"/>
<line x1="433.90" y1="100.80" x2="433.90" y2="111.20" stroke="#34465e" stroke-width="0.9"/>
<line x1="431.30" y1="100.80" x2="436.50" y2="100.80" stroke="#34465e" stroke-width="1"/>
<line x1="431.30" y1="111.20" x2="436.50" y2="111.20" stroke="#34465e" stroke-width="1"/>
<circle cx="433.90" cy="105.80" r="2.6" fill="#193f6e" stroke="#34465e" stroke-width="0.5"/>
<line x1="460.40" y1="105.40" x2="460.40" y2="125.50" stroke="#34465e" stroke-width="0.9"/>
<line x1="457.80" y1="105.40" x2="463.00" y2="105.40" stroke="#34465e" stroke-width="1"/>
<line x1="457.80" y1="125.50" x2="463.00" y2="125.50" stroke="#34465e" stroke-width="1"/>
<circle cx="460.40" cy="114.20" r="2.6" fill="#193f6e" stroke="#34465e" stroke-width="0.5"/>
<line x1="487.30" y1="117.40" x2="487.30" y2="135.40" stroke="#34465e" stroke-width="0.9"/>
<line x1="484.70" y1="117.40" x2="489.90" y2="117.40" stroke="#34465e" stroke-width="1"/>
<line x1="484.70" y1="135.40" x2="489.90" y2="135.40" stroke="#34465e" stroke-width="1"/>
<circle cx="487.30" cy="125.50" r="2.6" fill="#193f6e" stroke="#34465e" stroke-width="0.5"/>
<circle cx="354.20" cy="44.30" r="2.6" fill="#c3002b" stroke="#7a2838" stroke-width="0.5"/>
<line x1="381.00" y1="50.40" x2="381.00" y2="57.20" stroke="#7a2838" stroke-width="0.9"/>
<line x1="378.40" y1="50.40" x2="383.60" y2="50.40" stroke="#7a2838" stroke-width="1"/>
<line x1="378.40" y1="57.20" x2="383.60" y2="57.20" stroke="#7a2838" stroke-width="1"/>
<circle cx="381.00" cy="53.60" r="2.6" fill="#c3002b" stroke="#7a2838" stroke-width="0.5"/>
<line x1="407.60" y1="63.30" x2="407.60" y2="74.20" stroke="#7a2838" stroke-width="0.9"/>
<line x1="405.00" y1="63.30" x2="410.20" y2="63.30" stroke="#7a2838" stroke-width="1"/>
<line x1="405.00" y1="74.20" x2="410.20" y2="74.20" stroke="#7a2838" stroke-width="1"/>
<circle cx="407.60" cy="68.20" r="2.6" fill="#c3002b" stroke="#7a2838" stroke-width="0.5"/>
<line x1="434.10" y1="69.60" x2="434.10" y2="76.80" stroke="#7a2838" stroke-width="0.9"/>
<line x1="431.50" y1="69.60" x2="436.70" y2="69.60" stroke="#7a2838" stroke-width="1"/>
<line x1="431.50" y1="76.80" x2="436.70" y2="76.80" stroke="#7a2838" stroke-width="1"/>
<circle cx="434.10" cy="73.40" r="2.6" fill="#c3002b" stroke="#7a2838" stroke-width="0.5"/>
<line x1="460.40" y1="75.40" x2="460.40" y2="88.40" stroke="#7a2838" stroke-width="0.9"/>
<line x1="457.80" y1="75.40" x2="463.00" y2="75.40" stroke="#7a2838" stroke-width="1"/>
<line x1="457.80" y1="88.40" x2="463.00" y2="88.40" stroke="#7a2838" stroke-width="1"/>
<circle cx="460.40" cy="81.10" r="2.6" fill="#c3002b" stroke="#7a2838" stroke-width="0.5"/>
<line x1="486.90" y1="80.00" x2="486.90" y2="90.70" stroke="#7a2838" stroke-width="0.9"/>
<line x1="484.30" y1="80.00" x2="489.50" y2="80.00" stroke="#7a2838" stroke-width="1"/>
<line x1="484.30" y1="90.70" x2="489.50" y2="90.70" stroke="#7a2838" stroke-width="1"/>
<circle cx="486.90" cy="84.90" r="2.6" fill="#c3002b" stroke="#7a2838" stroke-width="0.5"/>
<polygon points="376.94,40.79 377.60,42.39 379.32,42.52 378.01,43.65 378.41,45.33 376.94,44.43 375.46,45.33 375.87,43.65 374.55,42.52 376.28,42.39" fill="#222"/>
<polygon points="381.40,40.79 382.06,42.39 383.79,42.52 382.47,43.65 382.87,45.33 381.40,44.43 379.93,45.33 380.33,43.65 379.01,42.52 380.74,42.39" fill="#222"/>
<polygon points="385.86,40.79 386.52,42.39 388.25,42.52 386.93,43.65 387.34,45.33 385.86,44.43 384.39,45.33 384.79,43.65 383.48,42.52 385.20,42.39" fill="#222"/>
<polygon points="403.14,54.39 403.80,55.99 405.52,56.12 404.21,57.25 404.61,58.93 403.14,58.03 401.66,58.93 402.07,57.25 400.75,56.12 402.48,55.99" fill="#222"/>
<polygon points="407.60,54.39 408.26,55.99 409.99,56.12 408.67,57.25 409.07,58.93 407.60,58.03 406.13,58.93 406.53,57.25 405.21,56.12 406.94,55.99" fill="#222"/>
<polygon points="412.06,54.39 412.72,55.99 414.45,56.12 413.13,57.25 413.54,58.93 412.06,58.03 410.59,58.93 410.99,57.25 409.68,56.12 411.40,55.99" fill="#222"/>
<polygon points="429.64,59.59 430.30,61.19 432.02,61.32 430.71,62.45 431.11,64.13 429.64,63.23 428.16,64.13 428.57,62.45 427.25,61.32 428.98,61.19" fill="#222"/>
<polygon points="434.10,59.59 434.76,61.19 436.49,61.32 435.17,62.45 435.57,64.13 434.10,63.23 432.63,64.13 433.03,62.45 431.71,61.32 433.44,61.19" fill="#222"/>
<polygon points="438.56,59.59 439.22,61.19 440.95,61.32 439.63,62.45 440.04,64.13 438.56,63.23 437.09,64.13 437.49,62.45 436.18,61.32 437.90,61.19" fill="#222"/>
<polygon points="455.94,61.09 456.60,62.69 458.32,62.82 457.01,63.95 457.41,65.63 455.94,64.73 454.46,65.63 454.87,63.95 453.55,62.82 455.28,62.69" fill="#222"/>
<polygon points="460.40,61.09 461.06,62.69 462.79,62.82 461.47,63.95 461.87,65.63 460.40,64.73 458.93,65.63 459.33,63.95 458.01,62.82 459.74,62.69" fill="#222"/>
<polygon points="464.86,61.09 465.52,62.69 467.25,62.82 465.93,63.95 466.34,65.63 464.86,64.73 463.39,65.63 463.79,63.95 462.48,62.82 464.20,62.69" fill="#222"/>
<polygon points="482.44,71.19 483.10,72.79 484.82,72.92 483.51,74.05 483.91,75.73 482.44,74.83 480.96,75.73 481.37,74.05 480.05,72.92 481.78,72.79" fill="#222"/>
<polygon points="486.90,71.19 487.56,72.79 489.29,72.92 487.97,74.05 488.37,75.73 486.90,74.83 485.43,75.73 485.83,74.05 484.51,72.92 486.24,72.79" fill="#222"/>
<polygon points="491.36,71.19 492.02,72.79 493.75,72.92 492.43,74.05 492.84,75.73 491.36,74.83 489.89,75.73 490.29,74.05 488.98,72.92 490.70,72.79" fill="#222"/>
<circle cx="326" cy="135" r="2.6" fill="#193f6e"/>
<circle cx="326" cy="148.4" r="2.6" fill="#c3002b"/>
<line x1="310.00" y1="244.40" x2="310.00" y2="355.80" stroke="#222" stroke-width="1.3"/>
<line x1="306.20" y1="355.20" x2="505.00" y2="355.20" stroke="#222" stroke-width="1.3"/>
<line x1="306.20" y1="248.30" x2="310.00" y2="248.30" stroke="#222" stroke-width="1"/>
<line x1="306.20" y1="284.20" x2="310.00" y2="284.20" stroke="#222" stroke-width="1"/>
<line x1="306.20" y1="319.60" x2="310.00" y2="319.60" stroke="#222" stroke-width="1"/>
<line x1="306.20" y1="355.20" x2="310.00" y2="355.20" stroke="#222" stroke-width="1"/>
<line x1="328.20" y1="355.20" x2="328.20" y2="358.60" stroke="#222" stroke-width="1"/>
<line x1="355.30" y1="355.20" x2="355.30" y2="358.60" stroke="#222" stroke-width="1"/>
<line x1="382.60" y1="355.20" x2="382.60" y2="358.60" stroke="#222" stroke-width="1"/>
<line x1="410.00" y1="355.20" x2="410.00" y2="358.60" stroke="#222" stroke-width="1"/>
<line x1="437.30" y1="355.20" x2="437.30" y2="358.60" stroke="#222" stroke-width="1"/>
<line x1="464.70" y1="355.20" x2="464.70" y2="358.60" stroke="#222" stroke-width="1"/>
<line x1="492.10" y1="355.20" x2="492.10" y2="358.60" stroke="#222" stroke-width="1"/>
<line x1="313.80" y1="306.60" x2="505.00" y2="306.60" stroke="#222" stroke-width="1.0" stroke-dasharray="2.7,2.7"/>
<line x1="328.00" y1="245.00" x2="328.00" y2="257.00" stroke="#34465e" stroke-width="0.9"/>
<line x1="325.40" y1="245.00" x2="330.60" y2="245.00" stroke="#34465e" stroke-width="1"/>
<line x1="325.40" y1="257.00" x2="330.60" y2="257.00" stroke="#34465e" stroke-width="1"/>
<circle cx="328.00" cy="251.30" r="2.6" fill="#193f6e" stroke="#34465e" stroke-width="0.5"/>
<line x1="355.30" y1="262.50" x2="355.30" y2="270.00" stroke="#34465e" stroke-width="0.9"/>
<line x1="352.70" y1="262.50" x2="357.90" y2="262.50" stroke="#34465e" stroke-width="1"/>
<line x1="352.70" y1="270.00" x2="357.90" y2="270.00" stroke="#34465e" stroke-width="1"/>
<circle cx="355.30" cy="266.30" r="2.6" fill="#193f6e" stroke="#34465e" stroke-width="0.5"/>
<line x1="382.80" y1="301.60" x2="382.80" y2="309.40" stroke="#34465e" stroke-width="0.9"/>
<line x1="380.20" y1="301.60" x2="385.40" y2="301.60" stroke="#34465e" stroke-width="1"/>
<line x1="380.20" y1="309.40" x2="385.40" y2="309.40" stroke="#34465e" stroke-width="1"/>
<circle cx="382.80" cy="305.60" r="2.6" fill="#193f6e" stroke="#34465e" stroke-width="0.5"/>
<line x1="410.30" y1="323.50" x2="410.30" y2="334.30" stroke="#34465e" stroke-width="0.9"/>
<line x1="407.70" y1="323.50" x2="412.90" y2="323.50" stroke="#34465e" stroke-width="1"/>
<line x1="407.70" y1="334.30" x2="412.90" y2="334.30" stroke="#34465e" stroke-width="1"/>
<circle cx="410.30" cy="328.50" r="2.6" fill="#193f6e" stroke="#34465e" stroke-width="0.5"/>
<line x1="437.30" y1="328.50" x2="437.30" y2="346.50" stroke="#34465e" stroke-width="0.9"/>
<line x1="434.70" y1="328.50" x2="439.90" y2="328.50" stroke="#34465e" stroke-width="1"/>
<line x1="434.70" y1="346.50" x2="439.90" y2="346.50" stroke="#34465e" stroke-width="1"/>
<circle cx="437.30" cy="337.30" r="2.6" fill="#193f6e" stroke="#34465e" stroke-width="0.5"/>
<line x1="464.50" y1="336.60" x2="464.50" y2="346.50" stroke="#34465e" stroke-width="0.9"/>
<line x1="461.90" y1="336.60" x2="467.10" y2="336.60" stroke="#34465e" stroke-width="1"/>
<line x1="461.90" y1="346.50" x2="467.10" y2="346.50" stroke="#34465e" stroke-width="1"/>
<circle cx="464.50" cy="341.50" r="2.6" fill="#193f6e" stroke="#34465e" stroke-width="0.5"/>
<circle cx="492.20" cy="346.10" r="2.6" fill="#193f6e" stroke="#34465e" stroke-width="0.5"/>
<line x1="355.30" y1="249.30" x2="355.30" y2="258.00" stroke="#7a2838" stroke-width="0.9"/>
<line x1="352.70" y1="249.30" x2="357.90" y2="249.30" stroke="#7a2838" stroke-width="1"/>
<line x1="352.70" y1="258.00" x2="357.90" y2="258.00" stroke="#7a2838" stroke-width="1"/>
<circle cx="355.30" cy="253.80" r="2.6" fill="#c3002b" stroke="#7a2838" stroke-width="0.5"/>
<line x1="382.80" y1="261.20" x2="382.80" y2="282.00" stroke="#7a2838" stroke-width="0.9"/>
<line x1="380.20" y1="261.20" x2="385.40" y2="261.20" stroke="#7a2838" stroke-width="1"/>
<line x1="380.20" y1="282.00" x2="385.40" y2="282.00" stroke="#7a2838" stroke-width="1"/>
<circle cx="382.80" cy="271.90" r="2.6" fill="#c3002b" stroke="#7a2838" stroke-width="0.5"/>
<line x1="409.90" y1="271.90" x2="409.90" y2="290.10" stroke="#7a2838" stroke-width="0.9"/>
<line x1="407.30" y1="271.90" x2="412.50" y2="271.90" stroke="#7a2838" stroke-width="1"/>
<line x1="407.30" y1="290.10" x2="412.50" y2="290.10" stroke="#7a2838" stroke-width="1"/>
<circle cx="409.90" cy="281.10" r="2.6" fill="#c3002b" stroke="#7a2838" stroke-width="0.5"/>
<line x1="437.30" y1="278.60" x2="437.30" y2="289.80" stroke="#7a2838" stroke-width="0.9"/>
<line x1="434.70" y1="278.60" x2="439.90" y2="278.60" stroke="#7a2838" stroke-width="1"/>
<line x1="434.70" y1="289.80" x2="439.90" y2="289.80" stroke="#7a2838" stroke-width="1"/>
<circle cx="437.30" cy="284.00" r="2.6" fill="#c3002b" stroke="#7a2838" stroke-width="0.5"/>
<line x1="465.30" y1="290.10" x2="465.30" y2="303.10" stroke="#7a2838" stroke-width="0.9"/>
<line x1="462.70" y1="290.10" x2="467.90" y2="290.10" stroke="#7a2838" stroke-width="1"/>
<line x1="462.70" y1="303.10" x2="467.90" y2="303.10" stroke="#7a2838" stroke-width="1"/>
<circle cx="465.30" cy="296.40" r="2.6" fill="#c3002b" stroke="#7a2838" stroke-width="0.5"/>
<line x1="492.10" y1="301.50" x2="492.10" y2="308.50" stroke="#7a2838" stroke-width="0.9"/>
<line x1="489.50" y1="301.50" x2="494.70" y2="301.50" stroke="#7a2838" stroke-width="1"/>
<line x1="489.50" y1="308.50" x2="494.70" y2="308.50" stroke="#7a2838" stroke-width="1"/>
<circle cx="492.10" cy="305.70" r="2.6" fill="#c3002b" stroke="#7a2838" stroke-width="0.5"/>
<polygon points="378.64,249.49 379.30,251.09 381.02,251.22 379.71,252.35 380.11,254.03 378.64,253.13 377.16,254.03 377.57,252.35 376.25,251.22 377.98,251.09" fill="#222"/>
<polygon points="383.10,249.49 383.76,251.09 385.49,251.22 384.17,252.35 384.57,254.03 383.10,253.13 381.63,254.03 382.03,252.35 380.71,251.22 382.44,251.09" fill="#222"/>
<polygon points="387.56,249.49 388.22,251.09 389.95,251.22 388.63,252.35 389.04,254.03 387.56,253.13 386.09,254.03 386.49,252.35 385.18,251.22 386.90,251.09" fill="#222"/>
<polygon points="405.44,257.29 406.10,258.89 407.82,259.02 406.51,260.15 406.91,261.83 405.44,260.93 403.96,261.83 404.37,260.15 403.05,259.02 404.78,258.89" fill="#222"/>
<polygon points="409.90,257.29 410.56,258.89 412.29,259.02 410.97,260.15 411.37,261.83 409.90,260.93 408.43,261.83 408.83,260.15 407.51,259.02 409.24,258.89" fill="#222"/>
<polygon points="414.36,257.29 415.02,258.89 416.75,259.02 415.43,260.15 415.84,261.83 414.36,260.93 412.89,261.83 413.29,260.15 411.98,259.02 413.70,258.89" fill="#222"/>
<polygon points="432.84,263.09 433.50,264.69 435.22,264.82 433.91,265.95 434.31,267.63 432.84,266.73 431.36,267.63 431.77,265.95 430.45,264.82 432.18,264.69" fill="#222"/>
<polygon points="437.30,263.09 437.96,264.69 439.69,264.82 438.37,265.95 438.77,267.63 437.30,266.73 435.83,267.63 436.23,265.95 434.91,264.82 436.64,264.69" fill="#222"/>
<polygon points="441.76,263.09 442.42,264.69 444.15,264.82 442.83,265.95 443.24,267.63 441.76,266.73 440.29,267.63 440.69,265.95 439.38,264.82 441.10,264.69" fill="#222"/>
<polygon points="460.84,275.49 461.50,277.09 463.22,277.22 461.91,278.35 462.31,280.03 460.84,279.13 459.36,280.03 459.77,278.35 458.45,277.22 460.18,277.09" fill="#222"/>
<polygon points="465.30,275.49 465.96,277.09 467.69,277.22 466.37,278.35 466.77,280.03 465.30,279.13 463.83,280.03 464.23,278.35 462.91,277.22 464.64,277.09" fill="#222"/>
<polygon points="469.76,275.49 470.42,277.09 472.15,277.22 470.83,278.35 471.24,280.03 469.76,279.13 468.29,280.03 468.69,278.35 467.38,277.22 469.10,277.09" fill="#222"/>
<polygon points="487.64,274.59 488.30,276.19 490.02,276.32 488.71,277.45 489.11,279.13 487.64,278.23 486.16,279.13 486.57,277.45 485.25,276.32 486.98,276.19" fill="#222"/>
<polygon points="492.10,274.59 492.76,276.19 494.49,276.32 493.17,277.45 493.57,279.13 492.10,278.23 490.63,279.13 491.03,277.45 489.71,276.32 491.44,276.19" fill="#222"/>
<polygon points="496.56,274.59 497.22,276.19 498.95,276.32 497.63,277.45 498.04,279.13 496.56,278.23 495.09,279.13 495.49,277.45 494.18,276.32 495.90,276.19" fill="#222"/>
<circle cx="322.7" cy="328.9" r="2.5" fill="#193f6e"/>
<circle cx="322.7" cy="342.2" r="2.5" fill="#c3002b"/>
<line x1="325.80" y1="428.50" x2="325.80" y2="534.90" stroke="#222" stroke-width="1.5"/>
<line x1="325.80" y1="534.30" x2="487.00" y2="534.30" stroke="#222" stroke-width="1.5"/>
<line x1="321.90" y1="432.30" x2="325.80" y2="432.30" stroke="#222" stroke-width="1"/>
<line x1="321.90" y1="443.65" x2="325.80" y2="443.65" stroke="#222" stroke-width="1"/>
<line x1="321.90" y1="455.00" x2="325.80" y2="455.00" stroke="#222" stroke-width="1"/>
<line x1="321.90" y1="466.35" x2="325.80" y2="466.35" stroke="#222" stroke-width="1"/>
<line x1="321.90" y1="477.70" x2="325.80" y2="477.70" stroke="#222" stroke-width="1"/>
<line x1="321.90" y1="489.05" x2="325.80" y2="489.05" stroke="#222" stroke-width="1"/>
<line x1="321.90" y1="500.40" x2="325.80" y2="500.40" stroke="#222" stroke-width="1"/>
<line x1="321.90" y1="511.75" x2="325.80" y2="511.75" stroke="#222" stroke-width="1"/>
<line x1="321.90" y1="523.10" x2="325.80" y2="523.10" stroke="#222" stroke-width="1"/>
<line x1="321.90" y1="534.45" x2="325.80" y2="534.45" stroke="#222" stroke-width="1"/>
<line x1="338.20" y1="534.30" x2="338.20" y2="537.90" stroke="#222" stroke-width="1"/>
<line x1="364.60" y1="534.30" x2="364.60" y2="537.90" stroke="#222" stroke-width="1"/>
<line x1="391.40" y1="534.30" x2="391.40" y2="537.90" stroke="#222" stroke-width="1"/>
<line x1="418.80" y1="534.30" x2="418.80" y2="537.90" stroke="#222" stroke-width="1"/>
<line x1="446.00" y1="534.30" x2="446.00" y2="537.90" stroke="#222" stroke-width="1"/>
<line x1="473.30" y1="534.30" x2="473.30" y2="537.90" stroke="#222" stroke-width="1"/>
<rect x="332.30" y="531.10" width="4.90" height="3.50" fill="#1b4f8c" stroke="#0f2a4d" stroke-width="0.6" stroke-opacity="0.6"/>
<line x1="334.75" y1="529.80" x2="334.75" y2="531.80" stroke="#0f2a4d" stroke-width="0.9"/>
<line x1="333.15" y1="529.80" x2="336.35" y2="529.80" stroke="#0f2a4d" stroke-width="0.9"/>
<rect x="339.80" y="532.10" width="4.90" height="2.50" fill="#c8102e" stroke="#6b0a18" stroke-width="0.6" stroke-opacity="0.6"/>
<line x1="342.25" y1="530.80" x2="342.25" y2="532.80" stroke="#6b0a18" stroke-width="0.9"/>
<line x1="340.65" y1="530.80" x2="343.85" y2="530.80" stroke="#6b0a18" stroke-width="0.9"/>
<rect x="358.10" y="524.10" width="4.90" height="10.50" fill="#1b4f8c" stroke="#0f2a4d" stroke-width="0.6" stroke-opacity="0.6"/>
<line x1="360.55" y1="522.80" x2="360.55" y2="524.80" stroke="#0f2a4d" stroke-width="0.9"/>
<line x1="358.95" y1="522.80" x2="362.15" y2="522.80" stroke="#0f2a4d" stroke-width="0.9"/>
<rect x="365.50" y="524.80" width="5.00" height="9.80" fill="#c8102e" stroke="#6b0a18" stroke-width="0.6" stroke-opacity="0.6"/>
<line x1="368.00" y1="523.20" x2="368.00" y2="525.80" stroke="#6b0a18" stroke-width="0.9"/>
<line x1="366.40" y1="523.20" x2="369.60" y2="523.20" stroke="#6b0a18" stroke-width="0.9"/>
<rect x="385.20" y="516.50" width="5.10" height="18.10" fill="#1b4f8c" stroke="#0f2a4d" stroke-width="0.6" stroke-opacity="0.6"/>
<rect x="393.00" y="521.60" width="5.40" height="13.00" fill="#c8102e" stroke="#6b0a18" stroke-width="0.6" stroke-opacity="0.6"/>
<line x1="395.70" y1="517.70" x2="395.70" y2="524.90" stroke="#6b0a18" stroke-width="0.9"/>
<line x1="394.10" y1="517.70" x2="397.30" y2="517.70" stroke="#6b0a18" stroke-width="0.9"/>
<rect x="412.30" y="500.60" width="5.20" height="34.00" fill="#1b4f8c" stroke="#0f2a4d" stroke-width="0.6" stroke-opacity="0.6"/>
<line x1="414.90" y1="498.60" x2="414.90" y2="502.00" stroke="#0f2a4d" stroke-width="0.9"/>
<line x1="413.30" y1="498.60" x2="416.50" y2="498.60" stroke="#0f2a4d" stroke-width="0.9"/>
<rect x="420.60" y="507.30" width="4.90" height="27.30" fill="#c8102e" stroke="#6b0a18" stroke-width="0.6" stroke-opacity="0.6"/>
<line x1="423.05" y1="503.40" x2="423.05" y2="510.60" stroke="#6b0a18" stroke-width="0.9"/>
<line x1="421.45" y1="503.40" x2="424.65" y2="503.40" stroke="#6b0a18" stroke-width="0.9"/>
<rect x="439.70" y="478.00" width="5.40" height="56.60" fill="#1b4f8c" stroke="#0f2a4d" stroke-width="0.6" stroke-opacity="0.6"/>
<line x1="442.40" y1="466.30" x2="442.40" y2="489.00" stroke="#0f2a4d" stroke-width="0.9"/>
<line x1="440.80" y1="466.30" x2="444.00" y2="466.30" stroke="#0f2a4d" stroke-width="0.9"/>
<rect x="447.50" y="487.30" width="5.30" height="47.30" fill="#c8102e" stroke="#6b0a18" stroke-width="0.6" stroke-opacity="0.6"/>
<line x1="450.15" y1="485.20" x2="450.15" y2="488.80" stroke="#6b0a18" stroke-width="0.9"/>
<line x1="448.55" y1="485.20" x2="451.75" y2="485.20" stroke="#6b0a18" stroke-width="0.9"/>
<rect x="467.10" y="444.30" width="5.40" height="90.30" fill="#1b4f8c" stroke="#0f2a4d" stroke-width="0.6" stroke-opacity="0.6"/>
<line x1="469.80" y1="440.50" x2="469.80" y2="447.50" stroke="#0f2a4d" stroke-width="0.9"/>
<line x1="468.20" y1="440.50" x2="471.40" y2="440.50" stroke="#0f2a4d" stroke-width="0.9"/>
<rect x="475.00" y="462.30" width="5.40" height="72.30" fill="#c8102e" stroke="#6b0a18" stroke-width="0.6" stroke-opacity="0.6"/>
<line x1="477.70" y1="452.30" x2="477.70" y2="471.70" stroke="#6b0a18" stroke-width="0.9"/>
<line x1="476.10" y1="452.30" x2="479.30" y2="452.30" stroke="#6b0a18" stroke-width="0.9"/>
<line x1="325.80" y1="641.50" x2="325.80" y2="755.20" stroke="#222" stroke-width="1.5"/>
<line x1="325.80" y1="754.60" x2="487.00" y2="754.60" stroke="#222" stroke-width="1.5"/>
<line x1="321.90" y1="653.10" x2="325.80" y2="653.10" stroke="#222" stroke-width="1"/>
<line x1="321.90" y1="673.40" x2="325.80" y2="673.40" stroke="#222" stroke-width="1"/>
<line x1="321.90" y1="693.70" x2="325.80" y2="693.70" stroke="#222" stroke-width="1"/>
<line x1="321.90" y1="714.00" x2="325.80" y2="714.00" stroke="#222" stroke-width="1"/>
<line x1="321.90" y1="734.30" x2="325.80" y2="734.30" stroke="#222" stroke-width="1"/>
<line x1="321.90" y1="754.60" x2="325.80" y2="754.60" stroke="#222" stroke-width="1"/>
<line x1="340.00" y1="754.60" x2="340.00" y2="758.20" stroke="#222" stroke-width="1"/>
<line x1="365.70" y1="754.60" x2="365.70" y2="758.20" stroke="#222" stroke-width="1"/>
<line x1="392.50" y1="754.60" x2="392.50" y2="758.20" stroke="#222" stroke-width="1"/>
<line x1="419.20" y1="754.60" x2="419.20" y2="758.20" stroke="#222" stroke-width="1"/>
<line x1="445.70" y1="754.60" x2="445.70" y2="758.20" stroke="#222" stroke-width="1"/>
<line x1="472.50" y1="754.60" x2="472.50" y2="758.20" stroke="#222" stroke-width="1"/>
<rect x="334.30" y="742.30" width="4.20" height="12.60" fill="#1b4f8c" stroke="#0f2a4d" stroke-width="0.6" stroke-opacity="0.6"/>
<line x1="336.40" y1="741.00" x2="336.40" y2="743.00" stroke="#0f2a4d" stroke-width="0.9"/>
<line x1="334.80" y1="741.00" x2="338.00" y2="741.00" stroke="#0f2a4d" stroke-width="0.9"/>
<rect x="341.70" y="741.10" width="4.70" height="13.80" fill="#c8102e" stroke="#6b0a18" stroke-width="0.6" stroke-opacity="0.6"/>
<line x1="344.05" y1="739.80" x2="344.05" y2="741.80" stroke="#6b0a18" stroke-width="0.9"/>
<line x1="342.45" y1="739.80" x2="345.65" y2="739.80" stroke="#6b0a18" stroke-width="0.9"/>
<rect x="360.20" y="734.60" width="4.50" height="20.30" fill="#1b4f8c" stroke="#0f2a4d" stroke-width="0.6" stroke-opacity="0.6"/>
<line x1="362.45" y1="733.50" x2="362.45" y2="735.10" stroke="#0f2a4d" stroke-width="0.9"/>
<line x1="360.85" y1="733.50" x2="364.05" y2="733.50" stroke="#0f2a4d" stroke-width="0.9"/>
<rect x="367.60" y="731.10" width="4.70" height="23.80" fill="#c8102e" stroke="#6b0a18" stroke-width="0.6" stroke-opacity="0.6"/>
<line x1="369.95" y1="728.30" x2="369.95" y2="733.30" stroke="#6b0a18" stroke-width="0.9"/>
<line x1="368.35" y1="728.30" x2="371.55" y2="728.30" stroke="#6b0a18" stroke-width="0.9"/>
<rect x="386.60" y="738.60" width="5.10" height="16.30" fill="#1b4f8c" stroke="#0f2a4d" stroke-width="0.6" stroke-opacity="0.6"/>
<line x1="389.15" y1="736.30" x2="389.15" y2="740.30" stroke="#0f2a4d" stroke-width="0.9"/>
<line x1="387.55" y1="736.30" x2="390.75" y2="736.30" stroke="#0f2a4d" stroke-width="0.9"/>
<rect x="394.10" y="705.30" width="5.10" height="49.60" fill="#c8102e" stroke="#6b0a18" stroke-width="0.6" stroke-opacity="0.6"/>
<line x1="396.65" y1="703.80" x2="396.65" y2="706.20" stroke="#6b0a18" stroke-width="0.9"/>
<line x1="395.05" y1="703.80" x2="398.25" y2="703.80" stroke="#6b0a18" stroke-width="0.9"/>
<rect x="412.80" y="737.80" width="5.20" height="17.10" fill="#1b4f8c" stroke="#0f2a4d" stroke-width="0.6" stroke-opacity="0.6"/>
<line x1="415.40" y1="734.30" x2="415.40" y2="740.70" stroke="#0f2a4d" stroke-width="0.9"/>
<line x1="413.80" y1="734.30" x2="417.00" y2="734.30" stroke="#0f2a4d" stroke-width="0.9"/>
<rect x="420.30" y="683.30" width="5.70" height="71.60" fill="#c8102e" stroke="#6b0a18" stroke-width="0.6" stroke-opacity="0.6"/>
<line x1="423.15" y1="680.50" x2="423.15" y2="685.50" stroke="#6b0a18" stroke-width="0.9"/>
<line x1="421.55" y1="680.50" x2="424.75" y2="680.50" stroke="#6b0a18" stroke-width="0.9"/>
<rect x="439.60" y="741.10" width="5.10" height="13.80" fill="#1b4f8c" stroke="#0f2a4d" stroke-width="0.6" stroke-opacity="0.6"/>
<line x1="442.15" y1="739.50" x2="442.15" y2="742.10" stroke="#0f2a4d" stroke-width="0.9"/>
<line x1="440.55" y1="739.50" x2="443.75" y2="739.50" stroke="#0f2a4d" stroke-width="0.9"/>
<rect x="447.10" y="668.60" width="5.60" height="86.30" fill="#c8102e" stroke="#6b0a18" stroke-width="0.6" stroke-opacity="0.6"/>
<line x1="449.90" y1="662.50" x2="449.90" y2="674.10" stroke="#6b0a18" stroke-width="0.9"/>
<line x1="448.30" y1="662.50" x2="451.50" y2="662.50" stroke="#6b0a18" stroke-width="0.9"/>
<rect x="466.60" y="737.10" width="5.10" height="17.80" fill="#1b4f8c" stroke="#0f2a4d" stroke-width="0.6" stroke-opacity="0.6"/>
<line x1="469.15" y1="734.50" x2="469.15" y2="739.10" stroke="#0f2a4d" stroke-width="0.9"/>
<line x1="467.55" y1="734.50" x2="470.75" y2="734.50" stroke="#0f2a4d" stroke-width="0.9"/>
<rect x="474.10" y="661.60" width="5.60" height="93.30" fill="#c8102e" stroke="#6b0a18" stroke-width="0.6" stroke-opacity="0.6"/>
<line x1="476.90" y1="650.50" x2="476.90" y2="672.00" stroke="#6b0a18" stroke-width="0.9"/>
<line x1="475.30" y1="650.50" x2="478.50" y2="650.50" stroke="#6b0a18" stroke-width="0.9"/>
<polygon points="384.44,690.29 385.10,691.89 386.82,692.02 385.51,693.15 385.91,694.83 384.44,693.93 382.96,694.83 383.37,693.15 382.05,692.02 383.78,691.89" fill="#222"/>
<polygon points="388.30,690.29 388.96,691.89 390.69,692.02 389.37,693.15 389.77,694.83 388.30,693.93 386.83,694.83 387.23,693.15 385.91,692.02 387.64,691.89" fill="#222"/>
<polygon points="392.16,690.29 392.82,691.89 394.55,692.02 393.23,693.15 393.64,694.83 392.16,693.93 390.69,694.83 391.09,693.15 389.78,692.02 391.50,691.89" fill="#222"/>
<polygon points="415.44,669.79 416.10,671.39 417.82,671.52 416.51,672.65 416.91,674.33 415.44,673.43 413.96,674.33 414.37,672.65 413.05,671.52 414.78,671.39" fill="#222"/>
<polygon points="419.30,669.79 419.96,671.39 421.69,671.52 420.37,672.65 420.77,674.33 419.30,673.43 417.83,674.33 418.23,672.65 416.91,671.52 418.64,671.39" fill="#222"/>
<polygon points="423.16,669.79 423.82,671.39 425.55,671.52 424.23,672.65 424.64,674.33 423.16,673.43 421.69,674.33 422.09,672.65 420.78,671.52 422.50,671.39" fill="#222"/>
<polygon points="436.94,654.09 437.60,655.69 439.32,655.82 438.01,656.95 438.41,658.63 436.94,657.73 435.46,658.63 435.87,656.95 434.55,655.82 436.28,655.69" fill="#222"/>
<polygon points="440.80,654.09 441.46,655.69 443.19,655.82 441.87,656.95 442.27,658.63 440.80,657.73 439.33,658.63 439.73,656.95 438.41,655.82 440.14,655.69" fill="#222"/>
<polygon points="444.66,654.09 445.32,655.69 447.05,655.82 445.73,656.95 446.14,658.63 444.66,657.73 443.19,658.63 443.59,656.95 442.28,655.82 444.00,655.69" fill="#222"/>
<polygon points="467.14,644.09 467.80,645.69 469.52,645.82 468.21,646.95 468.61,648.63 467.14,647.73 465.66,648.63 466.07,646.95 464.75,645.82 466.48,645.69" fill="#222"/>
<polygon points="471.00,644.09 471.66,645.69 473.39,645.82 472.07,646.95 472.47,648.63 471.00,647.73 469.53,648.63 469.93,646.95 468.61,645.82 470.34,645.69" fill="#222"/>
<polygon points="474.86,644.09 475.52,645.69 477.25,645.82 475.93,646.95 476.34,648.63 474.86,647.73 473.39,648.63 473.79,646.95 472.48,645.82 474.20,645.69" fill="#222"/>
<text x="8.60" y="21.80" font-size="15.50" font-weight="bold" font-style="normal" fill="#000" stroke="#000" stroke-width="0.2" textLength="11.71" lengthAdjust="spacingAndGlyphs">A</text>
<text x="97.39" y="23.21" font-size="12.00" font-weight="normal" font-style="normal" fill="#231f20" stroke="#231f20" stroke-width="0.1" textLength="53.34" lengthAdjust="spacingAndGlyphs">Gated on</text>
<text x="154.23" y="23.20" font-size="12.73" font-weight="normal" font-style="normal" fill="#231f20" stroke="#231f20" stroke-width="0.1" textLength="31.18" lengthAdjust="spacingAndGlyphs">CD34</text>
<text x="186.24" y="18.90" font-size="9.60" font-weight="normal" font-style="normal" fill="#231f20" stroke="#231f20" stroke-width="0.12" textLength="8.26" lengthAdjust="spacingAndGlyphs">hi</text>
<text x="76.79" y="44.42" font-size="11.83" font-weight="normal" font-style="normal" fill="#231f20" stroke="#231f20" stroke-width="0.1" textLength="38.77" lengthAdjust="spacingAndGlyphs">DMSO</text>
<text x="183.81" y="44.52" font-size="11.41" font-weight="normal" font-style="normal" fill="#231f20" stroke="#231f20" stroke-width="0.1" textLength="40.49" lengthAdjust="spacingAndGlyphs">UM171</text>
<text x="49.84" y="63.33" font-size="10.57" font-weight="normal" font-style="italic" fill="#231f20" stroke="#231f20" stroke-width="0.1" textLength="20.50" lengthAdjust="spacingAndGlyphs">88.0</text>
<text x="85.68" y="63.33" font-size="10.57" font-weight="normal" font-style="italic" fill="#231f20" stroke="#231f20" stroke-width="0.1" textLength="19.85" lengthAdjust="spacingAndGlyphs">0.65</text>
<text x="117.38" y="63.33" font-size="10.57" font-weight="normal" font-style="italic" fill="#231f20" stroke="#231f20" stroke-width="0.1" textLength="14.26" lengthAdjust="spacingAndGlyphs">0.1</text>
<text x="158.34" y="63.33" font-size="10.57" font-weight="normal" font-style="italic" fill="#231f20" stroke="#231f20" stroke-width="0.1" textLength="20.30" lengthAdjust="spacingAndGlyphs">88.0</text>
<text x="194.48" y="63.33" font-size="10.57" font-weight="normal" font-style="italic" fill="#231f20" stroke="#231f20" stroke-width="0.1" textLength="19.65" lengthAdjust="spacingAndGlyphs">0.65</text>
<text x="226.09" y="63.33" font-size="10.57" font-weight="normal" font-style="italic" fill="#231f20" stroke="#231f20" stroke-width="0.1" textLength="13.93" lengthAdjust="spacingAndGlyphs">0.1</text>
<text x="23.78" y="103.03" font-size="10.57" font-weight="normal" font-style="normal" fill="#231f20" stroke="#231f20" stroke-width="0.1" textLength="13.49" lengthAdjust="spacingAndGlyphs">D0</text>
<text x="50.96" y="166.53" font-size="10.57" font-weight="normal" font-style="italic" fill="#231f20" stroke="#231f20" stroke-width="0.1" textLength="10.18" lengthAdjust="spacingAndGlyphs">50</text>
<text x="86.25" y="166.53" font-size="10.57" font-weight="normal" font-style="italic" fill="#231f20" stroke="#231f20" stroke-width="0.1" textLength="19.29" lengthAdjust="spacingAndGlyphs">35.6</text>
<text x="119.64" y="166.53" font-size="10.57" font-weight="normal" font-style="italic" fill="#231f20" stroke="#231f20" stroke-width="0.1" textLength="19.69" lengthAdjust="spacingAndGlyphs">13.8</text>
<text x="157.61" y="166.53" font-size="10.57" font-weight="normal" font-style="italic" fill="#231f20" stroke="#231f20" stroke-width="0.1" textLength="20.30" lengthAdjust="spacingAndGlyphs">69.7</text>
<text x="193.24" y="166.53" font-size="10.57" font-weight="normal" font-style="italic" fill="#231f20" stroke="#231f20" stroke-width="0.1" textLength="11.19" lengthAdjust="spacingAndGlyphs">30</text>
<text x="226.46" y="166.53" font-size="10.57" font-weight="normal" font-style="italic" fill="#231f20" stroke="#231f20" stroke-width="0.1" textLength="21.33" lengthAdjust="spacingAndGlyphs">0.21</text>
<text x="23.76" y="208.05" font-size="10.81" font-weight="normal" font-style="normal" fill="#231f20" stroke="#231f20" stroke-width="0.1" textLength="13.67" lengthAdjust="spacingAndGlyphs">D1</text>
<text x="52.95" y="269.73" font-size="10.57" font-weight="normal" font-style="italic" fill="#231f20" stroke="#231f20" stroke-width="0.1" textLength="19.04" lengthAdjust="spacingAndGlyphs">17.9</text>
<text x="85.84" y="269.73" font-size="10.57" font-weight="normal" font-style="italic" fill="#231f20" stroke="#231f20" stroke-width="0.1" textLength="20.02" lengthAdjust="spacingAndGlyphs">38.4</text>
<text x="118.80" y="269.73" font-size="10.57" font-weight="normal" font-style="italic" fill="#231f20" stroke="#231f20" stroke-width="0.1" textLength="20.30" lengthAdjust="spacingAndGlyphs">42.9</text>
<text x="157.94" y="269.73" font-size="10.57" font-weight="normal" font-style="italic" fill="#231f20" stroke="#231f20" stroke-width="0.1" textLength="20.30" lengthAdjust="spacingAndGlyphs">55.6</text>
<text x="194.00" y="269.90" font-size="10.81" font-weight="normal" font-style="italic" fill="#231f20" stroke="#231f20" stroke-width="0.1" textLength="20.35" lengthAdjust="spacingAndGlyphs">42.1</text>
<text x="225.86" y="269.73" font-size="10.57" font-weight="normal" font-style="italic" fill="#231f20" stroke="#231f20" stroke-width="0.1" textLength="19.36" lengthAdjust="spacingAndGlyphs">2.01</text>
<text x="23.76" y="311.53" font-size="10.57" font-weight="normal" font-style="normal" fill="#231f20" stroke="#231f20" stroke-width="0.1" textLength="13.67" lengthAdjust="spacingAndGlyphs">D3</text>
<text x="50.94" y="374.83" font-size="10.57" font-weight="normal" font-style="italic" fill="#231f20" stroke="#231f20" stroke-width="0.1" textLength="20.30" lengthAdjust="spacingAndGlyphs">10.5</text>
<text x="84.97" y="374.83" font-size="10.57" font-weight="normal" font-style="italic" fill="#231f20" stroke="#231f20" stroke-width="0.1" textLength="20.90" lengthAdjust="spacingAndGlyphs">29.4</text>
<text x="120.24" y="374.83" font-size="10.57" font-weight="normal" font-style="italic" fill="#231f20" stroke="#231f20" stroke-width="0.1" textLength="19.69" lengthAdjust="spacingAndGlyphs">59.3</text>
<text x="158.93" y="374.83" font-size="10.57" font-weight="normal" font-style="italic" fill="#231f20" stroke="#231f20" stroke-width="0.1" textLength="20.63" lengthAdjust="spacingAndGlyphs">32.4</text>
<text x="194.24" y="374.83" font-size="10.57" font-weight="normal" font-style="italic" fill="#231f20" stroke="#231f20" stroke-width="0.1" textLength="20.46" lengthAdjust="spacingAndGlyphs">56.9</text>
<text x="228.65" y="374.83" font-size="10.57" font-weight="normal" font-style="italic" fill="#231f20" stroke="#231f20" stroke-width="0.1" textLength="19.06" lengthAdjust="spacingAndGlyphs">10.1</text>
<text x="23.78" y="416.05" font-size="10.81" font-weight="normal" font-style="normal" fill="#231f20" stroke="#231f20" stroke-width="0.1" textLength="13.49" lengthAdjust="spacingAndGlyphs">D4</text>
<text x="51.95" y="479.93" font-size="10.57" font-weight="normal" font-style="italic" fill="#231f20" stroke="#231f20" stroke-width="0.1" textLength="5.19" lengthAdjust="spacingAndGlyphs">8</text>
<text x="87.50" y="479.93" font-size="10.57" font-weight="normal" font-style="italic" fill="#231f20" stroke="#231f20" stroke-width="0.1" textLength="12.03" lengthAdjust="spacingAndGlyphs">46</text>
<text x="120.40" y="479.93" font-size="10.57" font-weight="normal" font-style="italic" fill="#231f20" stroke="#231f20" stroke-width="0.1" textLength="19.54" lengthAdjust="spacingAndGlyphs">44.6</text>
<text x="158.67" y="479.93" font-size="10.57" font-weight="normal" font-style="italic" fill="#231f20" stroke="#231f20" stroke-width="0.1" textLength="20.73" lengthAdjust="spacingAndGlyphs">26.9</text>
<text x="193.51" y="479.93" font-size="10.57" font-weight="normal" font-style="italic" fill="#231f20" stroke="#231f20" stroke-width="0.1" textLength="20.30" lengthAdjust="spacingAndGlyphs">60.7</text>
<text x="228.24" y="479.93" font-size="10.57" font-weight="normal" font-style="italic" fill="#231f20" stroke="#231f20" stroke-width="0.1" textLength="19.26" lengthAdjust="spacingAndGlyphs">11.9</text>
<text x="23.76" y="519.83" font-size="10.57" font-weight="normal" font-style="normal" fill="#231f20" stroke="#231f20" stroke-width="0.1" textLength="13.67" lengthAdjust="spacingAndGlyphs">D5</text>
<text x="51.94" y="583.03" font-size="10.57" font-weight="normal" font-style="italic" fill="#231f20" stroke="#231f20" stroke-width="0.1" textLength="20.22" lengthAdjust="spacingAndGlyphs">5.94</text>
<text x="83.84" y="583.03" font-size="10.57" font-weight="normal" font-style="italic" fill="#231f20" stroke="#231f20" stroke-width="0.1" textLength="20.30" lengthAdjust="spacingAndGlyphs">35.3</text>
<text x="121.04" y="583.03" font-size="10.57" font-weight="normal" font-style="italic" fill="#231f20" stroke="#231f20" stroke-width="0.1" textLength="20.06" lengthAdjust="spacingAndGlyphs">57.9</text>
<text x="160.35" y="583.03" font-size="10.57" font-weight="normal" font-style="italic" fill="#231f20" stroke="#231f20" stroke-width="0.1" textLength="18.89" lengthAdjust="spacingAndGlyphs">19.8</text>
<text x="194.31" y="583.03" font-size="10.57" font-weight="normal" font-style="italic" fill="#231f20" stroke="#231f20" stroke-width="0.1" textLength="20.39" lengthAdjust="spacingAndGlyphs">69.2</text>
<text x="233.05" y="583.20" font-size="10.81" font-weight="normal" font-style="italic" fill="#231f20" stroke="#231f20" stroke-width="0.1" textLength="10.16" lengthAdjust="spacingAndGlyphs">11</text>
<text x="23.76" y="624.53" font-size="10.57" font-weight="normal" font-style="normal" fill="#231f20" stroke="#231f20" stroke-width="0.1" textLength="13.67" lengthAdjust="spacingAndGlyphs">D6</text>
<text x="51.54" y="687.63" font-size="10.57" font-weight="normal" font-style="italic" fill="#231f20" stroke="#231f20" stroke-width="0.1" textLength="20.30" lengthAdjust="spacingAndGlyphs">3.40</text>
<text x="82.64" y="687.63" font-size="10.57" font-weight="normal" font-style="italic" fill="#231f20" stroke="#231f20" stroke-width="0.1" textLength="20.30" lengthAdjust="spacingAndGlyphs">37.6</text>
<text x="120.24" y="687.63" font-size="10.57" font-weight="normal" font-style="italic" fill="#231f20" stroke="#231f20" stroke-width="0.1" textLength="19.69" lengthAdjust="spacingAndGlyphs">57.8</text>
<text x="160.35" y="687.80" font-size="10.81" font-weight="normal" font-style="italic" fill="#231f20" stroke="#231f20" stroke-width="0.1" textLength="19.20" lengthAdjust="spacingAndGlyphs">14.4</text>
<text x="189.80" y="687.63" font-size="10.57" font-weight="normal" font-style="italic" fill="#231f20" stroke="#231f20" stroke-width="0.1" textLength="20.73" lengthAdjust="spacingAndGlyphs">73.3</text>
<text x="227.03" y="687.63" font-size="10.57" font-weight="normal" font-style="italic" fill="#231f20" stroke="#231f20" stroke-width="0.1" textLength="19.90" lengthAdjust="spacingAndGlyphs">11.6</text>
<text x="23.76" y="729.30" font-size="10.81" font-weight="normal" font-style="normal" fill="#231f20" stroke="#231f20" stroke-width="0.1" textLength="13.67" lengthAdjust="spacingAndGlyphs">D7</text>
<text x="47.57" y="790.12" font-size="11.83" font-weight="normal" font-style="normal" fill="#231f20" stroke="#231f20" stroke-width="0.0" textLength="23.50" lengthAdjust="spacingAndGlyphs">CD71</text>
<text x="270.67" y="21.46" font-size="15.09" font-weight="bold" font-style="normal" fill="#000" stroke="#000" stroke-width="0.2" textLength="9.59" lengthAdjust="spacingAndGlyphs">B</text>
<text x="352.53" y="22.70" font-size="12.66" font-weight="normal" font-style="normal" fill="#231f20" stroke="#231f20" stroke-width="0.1" textLength="41.26" lengthAdjust="spacingAndGlyphs">%CD71</text>
<text x="394.63" y="19.24" font-size="10.09" font-weight="normal" font-style="normal" fill="#231f20" stroke="#231f20" stroke-width="0.12" textLength="10.97" lengthAdjust="spacingAndGlyphs">Lo</text>
<text x="409.33" y="23.01" font-size="12.13" font-weight="normal" font-style="normal" fill="#231f20" stroke="#231f20" stroke-width="0.1" textLength="44.48" lengthAdjust="spacingAndGlyphs">in CD34</text>
<text x="454.68" y="18.80" font-size="9.67" font-weight="normal" font-style="normal" fill="#231f20" stroke="#231f20" stroke-width="0.12" textLength="8.98" lengthAdjust="spacingAndGlyphs">hi</text>
<text x="284.33" y="37.24" font-size="10.02" font-weight="normal" font-style="normal" fill="#231f20" stroke="#231f20" stroke-width="0.1" textLength="17.83" lengthAdjust="spacingAndGlyphs">100</text>
<text x="290.42" y="102.53" font-size="10.57" font-weight="normal" font-style="normal" fill="#231f20" stroke="#231f20" stroke-width="0.1" textLength="12.05" lengthAdjust="spacingAndGlyphs">10</text>
<text x="296.67" y="167.50" font-size="9.96" font-weight="normal" font-style="normal" fill="#231f20" stroke="#231f20" stroke-width="0.0" textLength="3.80" lengthAdjust="spacingAndGlyphs">1</text>
<text x="320.34" y="180.84" font-size="10.43" font-weight="normal" font-style="normal" fill="#231f20" stroke="#231f20" stroke-width="0.1" textLength="14.14" lengthAdjust="spacingAndGlyphs">D0</text>
<text x="346.82" y="181.00" font-size="10.67" font-weight="normal" font-style="normal" fill="#231f20" stroke="#231f20" stroke-width="0.1" textLength="14.33" lengthAdjust="spacingAndGlyphs">D1</text>
<text x="373.42" y="180.84" font-size="10.43" font-weight="normal" font-style="normal" fill="#231f20" stroke="#231f20" stroke-width="0.1" textLength="14.33" lengthAdjust="spacingAndGlyphs">D3</text>
<text x="400.14" y="181.00" font-size="10.67" font-weight="normal" font-style="normal" fill="#231f20" stroke="#231f20" stroke-width="0.1" textLength="14.14" lengthAdjust="spacingAndGlyphs">D4</text>
<text x="426.62" y="180.84" font-size="10.43" font-weight="normal" font-style="normal" fill="#231f20" stroke="#231f20" stroke-width="0.1" textLength="14.33" lengthAdjust="spacingAndGlyphs">D5</text>
<text x="453.12" y="180.84" font-size="10.43" font-weight="normal" font-style="normal" fill="#231f20" stroke="#231f20" stroke-width="0.1" textLength="14.33" lengthAdjust="spacingAndGlyphs">D6</text>
<text x="479.82" y="181.00" font-size="10.67" font-weight="normal" font-style="normal" fill="#231f20" stroke="#231f20" stroke-width="0.1" textLength="14.33" lengthAdjust="spacingAndGlyphs">D7</text>
<text x="332.12" y="137.85" font-size="9.60" font-weight="normal" font-style="normal" fill="#231f20" stroke="#231f20" stroke-width="0.05" textLength="29.81" lengthAdjust="spacingAndGlyphs">DMSO</text>
<text x="332.29" y="151.26" font-size="9.04" font-weight="normal" font-style="normal" fill="#231f20" stroke="#231f20" stroke-width="0.05" textLength="31.51" lengthAdjust="spacingAndGlyphs">UM171</text>
<text x="270.42" y="230.55" font-size="15.72" font-weight="bold" font-style="normal" fill="#000" stroke="#000" stroke-width="0.2" textLength="9.94" lengthAdjust="spacingAndGlyphs">C</text>
<text x="355.67" y="231.11" font-size="12.03" font-weight="normal" font-style="normal" fill="#231f20" stroke="#231f20" stroke-width="0.1" textLength="9.34" lengthAdjust="spacingAndGlyphs">%</text>
<text x="368.53" y="231.11" font-size="12.03" font-weight="normal" font-style="normal" fill="#231f20" stroke="#231f20" stroke-width="0.1" textLength="31.28" lengthAdjust="spacingAndGlyphs">CD34</text>
<text x="400.53" y="226.90" font-size="9.40" font-weight="normal" font-style="normal" fill="#231f20" stroke="#231f20" stroke-width="0.12" textLength="8.38" lengthAdjust="spacingAndGlyphs">hi</text>
<text x="408.83" y="231.31" font-size="12.17" font-weight="normal" font-style="normal" fill="#231f20" stroke="#231f20" stroke-width="0.1" textLength="48.01" lengthAdjust="spacingAndGlyphs">CD45RA</text>
<text x="457.26" y="227.24" font-size="10.07" font-weight="normal" font-style="normal" fill="#231f20" stroke="#231f20" stroke-width="0.12" textLength="9.22" lengthAdjust="spacingAndGlyphs">lo</text>
<text x="289.69" y="251.74" font-size="10.43" font-weight="normal" font-style="normal" fill="#231f20" stroke="#231f20" stroke-width="0.1" textLength="12.08" lengthAdjust="spacingAndGlyphs">60</text>
<text x="290.04" y="286.94" font-size="10.02" font-weight="normal" font-style="normal" fill="#231f20" stroke="#231f20" stroke-width="0.1" textLength="11.73" lengthAdjust="spacingAndGlyphs">40</text>
<text x="289.73" y="322.84" font-size="10.02" font-weight="normal" font-style="normal" fill="#231f20" stroke="#231f20" stroke-width="0.1" textLength="12.35" lengthAdjust="spacingAndGlyphs">20</text>
<text x="295.64" y="358.44" font-size="10.16" font-weight="normal" font-style="normal" fill="#231f20" stroke="#231f20" stroke-width="0.1" textLength="6.45" lengthAdjust="spacingAndGlyphs">0</text>
<text x="320.84" y="371.64" font-size="10.43" font-weight="normal" font-style="normal" fill="#231f20" stroke="#231f20" stroke-width="0.1" textLength="14.14" lengthAdjust="spacingAndGlyphs">D0</text>
<text x="347.92" y="371.80" font-size="10.67" font-weight="normal" font-style="normal" fill="#231f20" stroke="#231f20" stroke-width="0.1" textLength="14.33" lengthAdjust="spacingAndGlyphs">D1</text>
<text x="375.22" y="371.64" font-size="10.43" font-weight="normal" font-style="normal" fill="#231f20" stroke="#231f20" stroke-width="0.1" textLength="14.33" lengthAdjust="spacingAndGlyphs">D3</text>
<text x="402.64" y="371.80" font-size="10.67" font-weight="normal" font-style="normal" fill="#231f20" stroke="#231f20" stroke-width="0.1" textLength="14.14" lengthAdjust="spacingAndGlyphs">D4</text>
<text x="429.92" y="371.64" font-size="10.43" font-weight="normal" font-style="normal" fill="#231f20" stroke="#231f20" stroke-width="0.1" textLength="14.33" lengthAdjust="spacingAndGlyphs">D5</text>
<text x="457.32" y="371.64" font-size="10.43" font-weight="normal" font-style="normal" fill="#231f20" stroke="#231f20" stroke-width="0.1" textLength="14.33" lengthAdjust="spacingAndGlyphs">D6</text>
<text x="484.72" y="371.80" font-size="10.67" font-weight="normal" font-style="normal" fill="#231f20" stroke="#231f20" stroke-width="0.1" textLength="14.33" lengthAdjust="spacingAndGlyphs">D7</text>
<text x="329.12" y="331.85" font-size="9.60" font-weight="normal" font-style="normal" fill="#231f20" stroke="#231f20" stroke-width="0.05" textLength="29.81" lengthAdjust="spacingAndGlyphs">DMSO</text>
<text x="329.31" y="345.25" font-size="9.60" font-weight="normal" font-style="normal" fill="#231f20" stroke="#231f20" stroke-width="0.05" textLength="30.47" lengthAdjust="spacingAndGlyphs">UM171</text>
<text x="270.26" y="420.30" font-size="15.08" font-weight="bold" font-style="normal" fill="#000" stroke="#000" stroke-width="0.2" textLength="12.02" lengthAdjust="spacingAndGlyphs">D</text>
<text x="343.20" y="421.52" font-size="13.64" font-weight="normal" font-style="normal" fill="#231f20" stroke="#231f20" stroke-width="0.1" textLength="126.60" lengthAdjust="spacingAndGlyphs">Total Cell Fold Change</text>
<text x="306.94" y="435.45" font-size="9.88" font-weight="normal" font-style="normal" fill="#231f20" stroke="#231f20" stroke-width="0.1" textLength="11.06" lengthAdjust="spacingAndGlyphs">45</text>
<text x="306.95" y="446.80" font-size="9.88" font-weight="normal" font-style="normal" fill="#231f20" stroke="#231f20" stroke-width="0.1" textLength="10.90" lengthAdjust="spacingAndGlyphs">40</text>
<text x="306.78" y="458.15" font-size="9.88" font-weight="normal" font-style="normal" fill="#231f20" stroke="#231f20" stroke-width="0.1" textLength="11.22" lengthAdjust="spacingAndGlyphs">35</text>
<text x="306.79" y="469.50" font-size="9.88" font-weight="normal" font-style="normal" fill="#231f20" stroke="#231f20" stroke-width="0.1" textLength="11.06" lengthAdjust="spacingAndGlyphs">30</text>
<text x="306.62" y="480.85" font-size="9.88" font-weight="normal" font-style="normal" fill="#231f20" stroke="#231f20" stroke-width="0.1" textLength="11.40" lengthAdjust="spacingAndGlyphs">25</text>
<text x="306.63" y="492.20" font-size="9.88" font-weight="normal" font-style="normal" fill="#231f20" stroke="#231f20" stroke-width="0.1" textLength="11.22" lengthAdjust="spacingAndGlyphs">20</text>
<text x="306.45" y="503.55" font-size="9.88" font-weight="normal" font-style="normal" fill="#231f20" stroke="#231f20" stroke-width="0.1" textLength="11.57" lengthAdjust="spacingAndGlyphs">15</text>
<text x="306.46" y="514.90" font-size="9.88" font-weight="normal" font-style="normal" fill="#231f20" stroke="#231f20" stroke-width="0.1" textLength="11.40" lengthAdjust="spacingAndGlyphs">10</text>
<text x="312.06" y="526.25" font-size="9.88" font-weight="normal" font-style="normal" fill="#231f20" stroke="#231f20" stroke-width="0.1" textLength="5.97" lengthAdjust="spacingAndGlyphs">5</text>
<text x="312.08" y="537.60" font-size="9.88" font-weight="normal" font-style="normal" fill="#231f20" stroke="#231f20" stroke-width="0.1" textLength="5.78" lengthAdjust="spacingAndGlyphs">0</text>
<text x="330.94" y="551.10" font-size="10.52" font-weight="normal" font-style="normal" fill="#231f20" stroke="#231f20" stroke-width="0.1" textLength="14.11" lengthAdjust="spacingAndGlyphs">D1</text>
<text x="357.34" y="550.94" font-size="10.30" font-weight="normal" font-style="normal" fill="#231f20" stroke="#231f20" stroke-width="0.1" textLength="14.11" lengthAdjust="spacingAndGlyphs">D3</text>
<text x="384.15" y="551.10" font-size="10.52" font-weight="normal" font-style="normal" fill="#231f20" stroke="#231f20" stroke-width="0.1" textLength="13.92" lengthAdjust="spacingAndGlyphs">D4</text>
<text x="411.54" y="550.94" font-size="10.30" font-weight="normal" font-style="normal" fill="#231f20" stroke="#231f20" stroke-width="0.1" textLength="14.11" lengthAdjust="spacingAndGlyphs">D5</text>
<text x="438.74" y="550.94" font-size="10.30" font-weight="normal" font-style="normal" fill="#231f20" stroke="#231f20" stroke-width="0.1" textLength="14.11" lengthAdjust="spacingAndGlyphs">D6</text>
<text x="466.04" y="551.10" font-size="10.52" font-weight="normal" font-style="normal" fill="#231f20" stroke="#231f20" stroke-width="0.1" textLength="14.11" lengthAdjust="spacingAndGlyphs">D7</text>
<text x="395.98" y="568.63" font-size="13.13" font-weight="normal" font-style="normal" fill="#231f20" stroke="#231f20" stroke-width="0.0" textLength="20.90" lengthAdjust="spacingAndGlyphs">Days</text>
<text x="335.32" y="441.15" font-size="9.60" font-weight="normal" font-style="normal" fill="#24507f" stroke="#24507f" stroke-width="0" textLength="29.81" lengthAdjust="spacingAndGlyphs">DMSO</text>
<text x="335.51" y="453.24" font-size="10.02" font-weight="normal" font-style="normal" fill="#b5142f" stroke="#b5142f" stroke-width="0" textLength="30.37" lengthAdjust="spacingAndGlyphs">UM171</text>
<text x="270.45" y="618.60" font-size="15.08" font-weight="bold" font-style="normal" fill="#000" stroke="#000" stroke-width="0.2" textLength="9.06" lengthAdjust="spacingAndGlyphs">E</text>
<text x="318.00" y="618.81" font-size="12.10" font-weight="normal" font-style="normal" fill="#231f20" stroke="#231f20" stroke-width="0.1" textLength="32.72" lengthAdjust="spacingAndGlyphs">CD34</text>
<text x="350.12" y="614.40" font-size="8.99" font-weight="normal" font-style="normal" fill="#231f20" stroke="#231f20" stroke-width="0.12" textLength="8.50" lengthAdjust="spacingAndGlyphs">hi</text>
<text x="358.63" y="618.81" font-size="12.10" font-weight="normal" font-style="normal" fill="#231f20" stroke="#231f20" stroke-width="0.1" textLength="48.21" lengthAdjust="spacingAndGlyphs">CD45RA</text>
<text x="407.04" y="614.46" font-size="8.80" font-weight="normal" font-style="normal" fill="#231f20" stroke="#231f20" stroke-width="0.12" textLength="8.18" lengthAdjust="spacingAndGlyphs">lo</text>
<text x="415.62" y="618.81" font-size="12.10" font-weight="normal" font-style="normal" fill="#231f20" stroke="#231f20" stroke-width="0.1" textLength="31.79" lengthAdjust="spacingAndGlyphs">CD90</text>
<text x="447.81" y="615.48" font-size="11.20" font-weight="normal" font-style="normal" fill="#231f20" stroke="#231f20" stroke-width="0.1" textLength="6.07" lengthAdjust="spacingAndGlyphs">+</text>
<text x="454.45" y="618.81" font-size="12.10" font-weight="normal" font-style="normal" fill="#231f20" stroke="#231f20" stroke-width="0.1" textLength="30.23" lengthAdjust="spacingAndGlyphs">CD71</text>
<text x="486.13" y="614.46" font-size="9.07" font-weight="normal" font-style="normal" fill="#231f20" stroke="#231f20" stroke-width="0.12" textLength="8.30" lengthAdjust="spacingAndGlyphs">lo</text>
<text x="371.60" y="634.42" font-size="12.70" font-weight="normal" font-style="normal" fill="#231f20" stroke="#231f20" stroke-width="0.1" textLength="73.12" lengthAdjust="spacingAndGlyphs">Fold Change</text>
<text x="306.46" y="656.25" font-size="9.88" font-weight="normal" font-style="normal" fill="#231f20" stroke="#231f20" stroke-width="0.1" textLength="11.40" lengthAdjust="spacingAndGlyphs">10</text>
<text x="312.06" y="676.55" font-size="9.88" font-weight="normal" font-style="normal" fill="#231f20" stroke="#231f20" stroke-width="0.1" textLength="5.97" lengthAdjust="spacingAndGlyphs">8</text>
<text x="311.88" y="696.85" font-size="9.88" font-weight="normal" font-style="normal" fill="#231f20" stroke="#231f20" stroke-width="0.1" textLength="6.17" lengthAdjust="spacingAndGlyphs">6</text>
<text x="312.24" y="717.30" font-size="10.10" font-weight="normal" font-style="normal" fill="#231f20" stroke="#231f20" stroke-width="0.1" textLength="5.61" lengthAdjust="spacingAndGlyphs">4</text>
<text x="311.88" y="737.60" font-size="10.10" font-weight="normal" font-style="normal" fill="#231f20" stroke="#231f20" stroke-width="0.1" textLength="6.17" lengthAdjust="spacingAndGlyphs">2</text>
<text x="312.08" y="757.75" font-size="9.88" font-weight="normal" font-style="normal" fill="#231f20" stroke="#231f20" stroke-width="0.1" textLength="5.78" lengthAdjust="spacingAndGlyphs">0</text>
<text x="332.74" y="771.90" font-size="10.95" font-weight="normal" font-style="normal" fill="#231f20" stroke="#231f20" stroke-width="0.1" textLength="14.11" lengthAdjust="spacingAndGlyphs">D1</text>
<text x="358.44" y="771.73" font-size="10.71" font-weight="normal" font-style="normal" fill="#231f20" stroke="#231f20" stroke-width="0.1" textLength="14.11" lengthAdjust="spacingAndGlyphs">D3</text>
<text x="385.25" y="771.90" font-size="10.95" font-weight="normal" font-style="normal" fill="#231f20" stroke="#231f20" stroke-width="0.1" textLength="13.92" lengthAdjust="spacingAndGlyphs">D4</text>
<text x="411.94" y="771.73" font-size="10.71" font-weight="normal" font-style="normal" fill="#231f20" stroke="#231f20" stroke-width="0.1" textLength="14.11" lengthAdjust="spacingAndGlyphs">D5</text>
<text x="438.44" y="771.73" font-size="10.71" font-weight="normal" font-style="normal" fill="#231f20" stroke="#231f20" stroke-width="0.1" textLength="14.11" lengthAdjust="spacingAndGlyphs">D6</text>
<text x="465.24" y="771.90" font-size="10.95" font-weight="normal" font-style="normal" fill="#231f20" stroke="#231f20" stroke-width="0.1" textLength="14.11" lengthAdjust="spacingAndGlyphs">D7</text>
<text x="395.48" y="789.72" font-size="12.69" font-weight="normal" font-style="normal" fill="#231f20" stroke="#231f20" stroke-width="0.0" textLength="22.32" lengthAdjust="spacingAndGlyphs">Days</text>
<text x="329.52" y="653.16" font-size="9.04" font-weight="normal" font-style="normal" fill="#24507f" stroke="#24507f" stroke-width="0" textLength="29.81" lengthAdjust="spacingAndGlyphs">DMSO</text>
<text x="329.70" y="665.25" font-size="9.46" font-weight="normal" font-style="normal" fill="#b5142f" stroke="#b5142f" stroke-width="0" textLength="31.20" lengthAdjust="spacingAndGlyphs">UM171</text>
<text x="0" y="0" font-size="12.52" fill="#231f20" textLength="108.49" lengthAdjust="spacingAndGlyphs" transform="translate(298.90,532.48) rotate(-90)">Fold change (from day0)</text>
<text x="0" y="0" font-size="12.80" fill="#231f20" textLength="108.49" lengthAdjust="spacingAndGlyphs" transform="translate(298.90,752.68) rotate(-90)">Fold change (from day0)</text>
<rect x="0.5" y="0.5" width="519" height="800" fill="none" stroke="#383838" stroke-width="1"/>
</svg>
</body></html>
